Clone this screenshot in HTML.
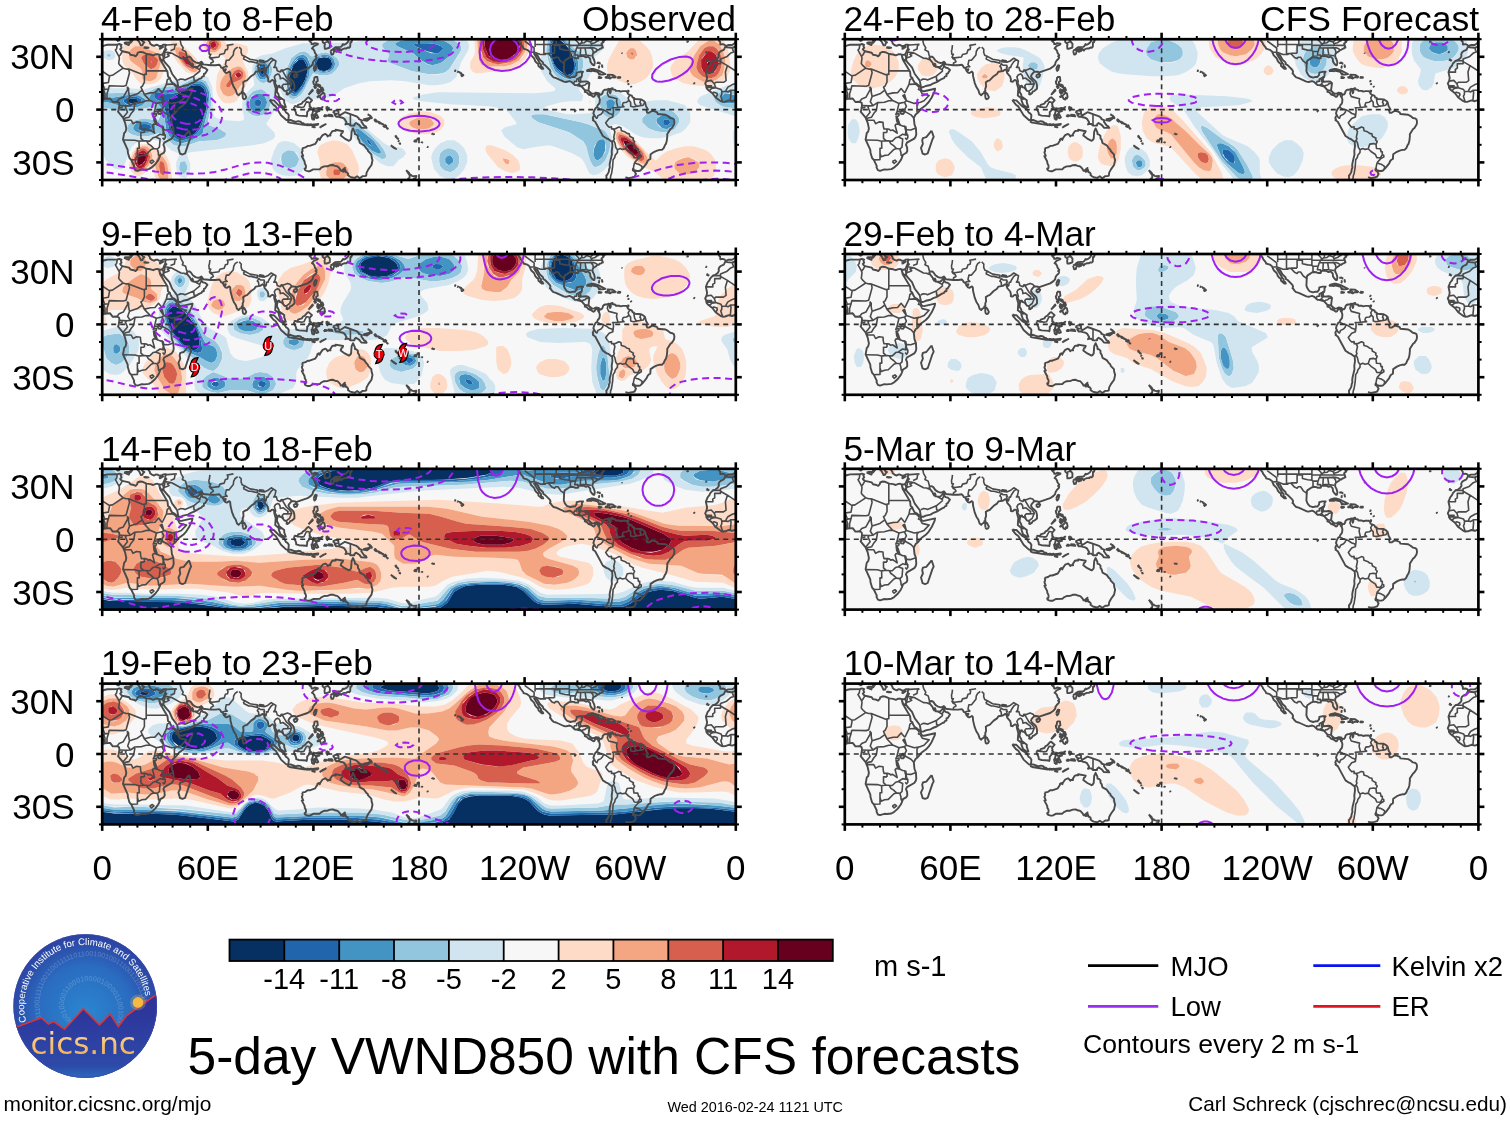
<!DOCTYPE html><html><head><meta charset="utf-8"><title>5-day VWND850 with CFS forecasts</title><style>html,body{margin:0;padding:0;background:#fff;}svg{display:block}</style></head><body><svg width="1510" height="1121" viewBox="0 0 1510 1121"><defs><clipPath id="pc"><rect x="0" y="0" width="633.6" height="140.8"/></clipPath><g id="coast"><path d="M-10.4 7.4l-1.6 3.2-3 1.4-1.4 1.2-.8 1.9 .3 1.8-1.2 2.1-2.3 1.8-2.5 .8-2.6 2.7-.9 2.1-1.8 2.1-1.7 4.4 1.2 5.8-.5 2.7-1.4 3.1 1 2 .2 1.9 1.2 1.8 4.8 3.8 3.2 4.3 5.2 3.7 1.8 .7 2.6-.2 3.6-1.3 3.5 .8 6.1-2.3 5.3-.4 2.7 3.5 4.4-.3 1.9 1.2 .3 2.3-.8 5.3-.6 1.2 5 6 2.1 5.1 1.2 5.6-.7 3.2-1.4 1.4-1.2 6.5 4.7 10.4 .2 2.8 1.6 5.3 1.7 1.9 3 6.2-.3 1.2 1.4 2.8 2.1 .7 4.4-1.4 2.6 .2 4.4-.5 2.5-1.4 3.9-3.5 3-4.1 1-2.1 .9-2.5-.5-.3 4.2-2.5 .9-1.7-.2-3.6-1.1-2.6 .9-2.1 7.4-4.1 1.4-2.1 .6-2.3-.4-6.1-1.4-3.5-.7-6.7 1.8-3.4 2.4-1.9 3.4-4.2 4.4-3.2 3-3.2 2.9-4.5 2.9-6.2 .5-2.5-11.1 2.5-1.8-.2-1.2-1.7-.3-2.2-4.1-3.5-1.9-.9-1.8-3.1-.5-1.8-1.8-1.4-.5-4.7-7.4-12.4-1.1-4.7-1.4-.5-1.9 .1-2.5 1.1-2.6-.9-4-.5-3.9-1.8-2.7-.3-2.4 1-.4 1.6-1.6 1.8-1.7-.9-3.5-.7-1.3-1.9-6.7-1.5-1.2-.8-1-1.3 1.4-1.4-.9-2.1 .9-.9-2.3-.8-2.1 .7-9.7 .1-2.7 .6-6.5 2.4-4.9-.5-1.6-.7M623.2 7.4l-1.6 3.2-3 1.4-1.4 1.2-.8 1.9 .3 1.8-1.2 2.1-2.3 1.8-2.5 .8-2.6 2.7-.9 2.1-1.8 2.1-1.7 4.4 1.2 5.8-.5 2.7-1.4 3.1 1 2 .2 1.9 1.2 1.8 4.8 3.8 3.2 4.3 5.2 3.7 1.8 .7 2.6-.2 3.6-1.3 3.5 .8 6.1-2.3 5.3-.4 2.7 3.5 4.4-.3 1.9 1.2 .3 2.3-.8 5.3-.6 1.2 5 6 2.1 5.1 1.2 5.6-.7 3.2-1.4 1.4-1.2 6.5 4.7 10.4 .2 2.8 1.6 5.3 1.7 1.9 3 6.2-.3 1.2 1.4 2.8 2.1 .7 4.4-1.4 2.6 .2 4.4-.5 2.5-1.4 3.9-3.5 3-4.1 1-2.1 .9-2.5-.5-.3 4.2-2.5 .9-1.7-.2-3.6-1.1-2.6 .9-2.1 7.4-4.1 1.4-2.1 .6-2.3-.4-6.1-1.4-3.5-.7-6.7 1.8-3.4 2.4-1.9 3.4-4.2 4.4-3.2 3-3.2 2.9-4.5 2.9-6.2 .5-2.5-11.1 2.5-1.8-.2-1.2-1.7-.3-2.2-4.1-3.5-1.9-.9-1.8-3.1-.5-1.8-1.8-1.4-.5-4.7-7.4-12.4-1.1-4.7-1.4-.5-1.9 .1-2.5 1.1-2.6-.9-4-.5-3.9-1.8-2.7-.3-2.4 1-.4 1.6-1.6 1.8-1.7-.9-3.5-.7-1.3-1.9-6.7-1.5-1.2-.8-1-1.3 1.4-1.4-.9-2.1 .9-.9-2.3-.8-2.1 .7-9.7 .1-2.7 .6-6.5 2.4-4.9-.5-1.6-.7M86.8 91.5l2.1 6.2-1.3 2.6-4.7 13.9-2.6 1.1-2.5-.9-1.6-5.6 1.9-4.1-.7-3.5 .7-2.3 3.4-.9 5.3-6.5M56 72.2l1.9-2 1.9 .2 .2 2.1-1.6 2.3-2.1-.2-.7-1.4 .4-1M51.4 76.4l.7 5.4 1.8 3.2 1 .5-1.7-5.4-1.8-3.7M60.7 87.1l.7 3.5-.5 3.9 1.2 1.1-1.9-7.6 .5-.9M-16.7 -.9l0 2.7 1 .8 .2 2.7 2.5-.4 1.9 .7 1.2 1.4 2.2-1.2 4 0 2.5-1.6 .5-1.4 1.1-.7-.9-1.2 2.3-2.7M616.9 -.9l0 2.7 1 .8 .2 2.7 2.5-.4 1.9 .7 1.2 1.4 2.2-1.2 4 0 2.5-1.6 .5-1.4 1.1-.7-.9-1.2 2.3-2.7M21.8 3.9l4.8 1.9 .9-2.6-4.1 0-1.6 .7M27.5 -.2l1 2.1-.9 1.6 .7 .2 2-2.6-1.3-.7 .9-1.3 2.7 .5-.9-1M14.8 1.8l2.1-.4 .3-2.3-1-1.2-1.8 .5 .4 3.4M41.4 8.3l1.7-.2 3.2 .5-2.3 .2-2.6-.5M56.8 9.3l4.1-1.6-2.8 1.8-1.3-.2M36.1 -1.4l-2 .9 2.9 3.1 1.7 3.6 1.6-.2 .5-1.6 1.4-1.2-1.4-.7-1.2-1.4 .7-2 1.9-.5 3.9 .3M46.1 -.4l0 1.3 1.4 1.9 .4 1.6 1.7 1.4 2.3 .9 2-1.1 1.5 .2 1.8 1.1 2.6-.4 1.1-.9 2.5-.1 .3 .5-.7 1.7 .2 1.5-2.5 5.6-1.7 .9-1.6 0-.6-.4M57.4 17.8l1 2.3 2 1.4 1.2-3-.4 2.3 1.3 2.1 4.7 5.3 2.8 6.6 5 6.6 1.2 6.6 2.1 0 2.7-1.2 4.7-1 2.3-1.4 3.9-1.5 5.4-3.3 2-.7 .7-1.4 1.7-.5 0-2.2 1.3-.5 2.2-3.5-2.1-1.9-2.4-.6-1.4-1.7 0-2.5-3.9 3.7-4.6-.2 0-1.6-.7-1.5-.7 2.3-1.2-2-.2-1-2.6-3.2-.9-2.1 1-.9M85.5 17.6l1.6-.2 1.4 .9 2.1 3 2.7 1.8 2.6 .7 1.8-.4 1.4-.9 1.2 1.3 .7 1.4 7.4 .8 5.1 0 3.5-.5 1.3 1.3 .5 1.4 1.6 .7 1 1.7 2.2-.5-.4 1.2-1.8-.1 1.8 2.2 1.4 .4 2.5-1.4 .9 1 .3 3.6 1.6 6.6 1.7 4.3 2 3.1 1.2 3.7 1.6 1.4 1.2-1.4 1.6-.7 .4-1.7 1-.6-.2-1.9 .9-2.5-.3-4.2 2.1-1.4 1.7-.5 4.1-4.2 3.3-2.2 1.4-2.2 4.4-.7 2.5-1.6 1.1 .7 .8 3 3 3.5 .7 2.6-.1 2.1 1.9 .4 1.4-1.4 1.1-.4 1.4 .6 .3 3 1.4 4.9-.5 7 3.5 2.8 .2 2.1 1.6 4.3 3.9 2.6 1.4-.2-1.6-4.5 0-2.3-5.3-3.9-.3-1.8-1.8-3.1 0-1.3 1.4-4.2 1.1-.2 .5 1.4 1.4 .2 1 .7 2.2 2.8 1.4 .2 1.2 1.6-.5 1.4 1 .4 1.8-1.3 .9-1.7 1.4-.4 2.8-2.3 0-3.5-.7-2.8-.9-1.4-3.2-2.8-1.2-2.1 .5-1.4 2.3-2.7 2-.5 2.2 .2 1.1 2.1 .2-1.6 10.9-3.7 3.3-2.3 1.6-1.8 .5-2.2 1.3-2 1.7-1.6 .6-1.5-1.1-.9 1.2-1.1-1.9-2.6-.3-1.6-1.3-1.9-1.2-.7 1.9-2.3 3.9-1.8 0-.5-3.2-.7-1.7 1-1.3 0-.1-1.2-2.1-1.9 2.8-1.1 3-2.1M219.3 0l1.2 .9-.1 1.9 2.4 2.1-.5 1.8 .3 2.8 1.8 0 3.2-1.2 .1-3.7-3.3-4.2 1.8-1.1M228.3 11.8l1 3.5 1.6-.2 1.2-3.5-1.5-.9-1.1 0-1.2 1.1M233.2 11.8l.9 .9 2.1-.9 .9-.9-.9-.9-2.1 .6-.9 1.2M230.4 10l2.8-1.9 5.3-.4 1-.7 1.3-2.1 .8 .7 2.2-1 1.5-1.3 .9-1.5 .6-3.6 2.2 0 .9 2.7-.7 2.1-1 0-.2 4.6-1.1 1-.9-.3-1.2 .3-.5 .7-2.3 0-2.1 .9-.9 1.2-1-1.4-1.8-.7-3.9 1.4-1.9-.7M211.4 29.9l1 1.8 1.1-1.1 1-4.2-1.2-.4-1 1.5-.9 2.4M191.1 36.6l1.6 1.8 1.8-.7 .9-2-.9-.7-2.1 .4-1.3 1.2M140.6 58.4l-.2-2.4 .4-2.8 1.4 1 1.9 3.7-.8 1.6-1.4 .5-.9-.5-.4-1.1M167.7 60.5l2.1 .7 1.8 0 5.6 5.7 4.6 2.8 2.1 3.7 1.4 .7 1.3 1.8-.4 4.7-2.1 .2-5.3-4.8-5.3-8.8-2.4-1.7-3-3.7-.4-1.3M185.2 82.4l1.4-1.4 1.7-.2 4.2 1.6 1.8 .1 1.6-.5 2.5 .5 1.4 1.5 1.5 0 .2 1.7-14.2-2.3-2.1-1M201.7 84.7l1.8 .5-.7 .7-1.1-1.2M204.2 85l1.4 0-.4 1.1-1-.2 0-.9M205.6 85.5l3.5-.5 .5 .7-2.8 .5-1.2-.7M210.1 85.4l6-.7-.5 1-4.4 .4-1.1-.7M209.4 87.1l2.9-.3 .3 1.4-1.9-.4-1.3-.7M217.4 88.5l2.6-1.9 3.5-1.6-6.1 3.5M191.8 67.6l.2 2.1 1.8 3.7 .2 2.1 2.8 .9 7.2 .5 .5 .4 .5-2.5-.1-1.8 1.5-1.5 .6-2 2.1-.9-1.8-1.5 .4-.9-.5-2 2.6-3.1-3.4-3-1.2 .5-2.8 3.2-1.6 .7-1.2 1.9-3.7 1.2-.4 1.5-1.9 .1-.7-.3-1.1 .7M210.1 80.3l1.8 0-.2-4.6 1.3-.7 .3 3.5 1.4 .5 1.4-.7-2.3-4.4 1.4-1.4 2-.5-1.6-.5-2.6 .7-1.4-1.4 .5-1.5 1.7 .2 2.7-.7 2.3 .9 1.6-1.9-1.3 .8-2.6 .9-3.5 .2-1.8-.7-.7 1.4 .3 1.8-.7 2.6 0 1.8-.8-.9 .8 4.6M224.4 67.2l.9 .9 1.2 .4-.9 .8 1.3 .6-1.6-.2-.2 1.6-.9-1.8 .2-2.3M225.5 75.5l4.2 .2 .7 1.4-4.8-.5-.1-1.1M221.8 76l2.1 0 0 1.1-1.8 0-.3-1.1M212.3 37.8l2.8 0 .5 3.9-1.6 1.1 0 2.6 1.8-.2 2.1 .9 .5 2.1-4-2.3-1.6 .4-1.4-1.9-.4-2.2 .9-.7 .4-3.7M214.7 58.1l1.6-1.4 1.2 0 3.4-3.2 1.2 .7 .7 3.4-.7 1.7-1-.9-.6 2-1.7-.7-1.1-2.5-3 .9M218.8 48.4l1.4 0 1 2.6-1.2 1.6-1.2-2.3 0-1.9M214.7 51.9l.9-1.9 1.1 1-.4 3.6-1.1-1.3-.5-1.4M217.2 51.4l1-.7 .2 1.4-1 1.6-.2-2.3M206.3 55.6l4.4-4.2-.4-.9-4 5.1M211.7 46.6l1.6 .6 .5 1.2-1 .4-1.1-2.2M230.6 72.5l3.3-1.4 2.3 .9 0 2.6 1.4 1.6 5.1-3.2 11.6 4.1 2.3 1.9 0 .9 3.2 1.2-.7 1.3 2.8 4 1.7 .7 .8 1.6-5.3-.2-2-2.6-3.3-2.1-1.4 1.2-.2 1.4-4 0-1.6-1.6-2-.1-1.4 .5 1.1-2.1-2.1-3.5-2-1.1-2.2-.4-2.2-.8-1.9 .3-1.4-2.1 1.9-.9-1.7-.3-2.1-1.8M261 80.3l5.5-1.3 1.5-1 .2 1-3.3 2.5-3-.4-.9-.8M265.4 75.2l2.5 1.2 1.6 1.7 .1 .9-.8-1.6-2.7-2.1-.7-.1M272.1 79.9l1.2 .5 1.3 1.6-.6 .5-1.4-1-.5-1.6M275.4 82.2l2.3 1-.5 .9-1.8-1.9M278.4 83.8l3 1.7-2.6-1-.4-.7M281.2 86.6l1.8 .3 0 .9-1.8-.7 0-.5M282.7 85.4l1.4 1.5-.2 .6-1.2-2.1M284.2 88.4l1.4 1-.3 .2-1.1-1.2M293.2 96.1l1.1 1.6-.7 .2-.4-1.8M294.3 98.2l1.7 1.4-.5 0-1.2-1.4M296 101.4l.6 .3-.4 .2-.2-.5M297.4 103.3l.6 1.4-.6-.3 0-1.1M288.6 106l5.3 3.8-2.1-1-3.2-2.8M312 101.2l2.3-.2-.1 1.4-2-.1-.2-1.1M314.5 99.6l2.3-.7-1.2 1.2-1.1-.5M319.4 103.8l.7-.7-.7 .2 0 .5M325.1 107.5l.5 .2-.4 .2-.1-.4M329.5 94.2l1 .5-.7 0-.3-.5M331.1 94.9l.8 .1-.7 .2-.1-.3M358.9 35.7l.3-.9 1.4 .6 .6 .7-1.5 1-.8-1.4M357.8 33.6l1.2 .4-.7 .1-.5-.5M355 32.4l1 .2-.3 .3-.7-.5M352.4 31.3l.8 0-.3 .6-.5-.6M356.8 33.1l.8 0-.8 0M199.8 109.1l3.5-.9 2.1-1.5 2.1 0 5.5-2 2.2-3.5-.1-.9 1.4-1 1 1.4 .6-1.6 2.3-3.2 2.8-1.2 1.2 .9 1.1 1.6 .5-.8 2.3 0-.4-1 2-3.2 1.2-.5 2.3 0 0-1.1 7.5 1.4-.7 1.6-1 .6-.7 2.2 4 3 4.3 2.2 1-.6 1.1-1.6 .5-7 1.4-3.2 1.8 3.9 .1 1.9 1.6 .4 1.4 1.4 0 2.3 1.1 1.4 .9 3.3 4.2 2.3 2.3 3.2 1.2 .9 .5 1.6 3.2 3.3 .4 3.2 .8 2.6-1 4.9-3 4.1-1.9 3.5-.4 3-1.2 .5-2.3 0-3 2.1-2.5-1.9-2.4 1.6-3.6-.7-1.5-.7-1.8-1.4 .3-1.3-1.2-1.4-1-.1-.7-2.5-.6 1.6-1.7 .3 1.4-1.4 .5-2.3-3.2 2.8-.8 0-.7-1.5-1.8-2.1-1.2-.9-2.3-.4-1.8-.9-3 .2-2.6 1.1-3.4 .1-2.8 1.3-1.6 1.6-6.5 .1-3.3 1.8-1.8 0-1.7-.4-1.4-.8-.4-1.3 1.2-.5 .2-1.9-.2-1.1-1-1.7-.2-2-2.8-5.3 1.4-.3-1.4-3.4 .7-1.5 0-1.4-.5-1.3M304 130.9l2.8 2.5 .8 1.9 1.5 .6 .5 .7 1.9 .5 2.7-.3-.4 1.5-.7 1.1-1.6 .2-1.7 2.8-1.3 1.2-1.2-.5 1.1-1.4-.8-1.1-1.7-1 1.4-.9 .3-2.5-3.6-5.3M304 141.7l.7 1.4 1.5-.5 .6 1.2-2.7 2.6-2.8-2.1 2.7-2.6M415 -.7l.7 1.6 2.3 3 .2 1 2.8 3.5 .3 1.1 3.7 1.1 2.2 1.7 1.7 3.9 2.7 2.6 1 1.8 .2 1 1.4 1.8 1.8 1.4 .3 2 3.2 2.8 1.6 0-.9-1.6-1.4-.5 0-2.3-1.1-1.1-5.8-9.5 2.5 .7 .8 .7 2.5 4.4 3 2.8 .5 2 1.6 .8 4.8 4.8 .7 1.8-.6 1.7 .6 .2 1.4 2.1 1.7 1.6 2.5 .7 7.7 3.5 2.2 .4 3.5-.9 2.1 .9 3.3 3.1 1.6 0 5.1 1.4 3 3.4 .4 .9-.2 1 1.9 .6 2 2.1 2.4 .8 2.3 1.6 .9-.3 1.6-2.7 2.1 1.1 .2 1.4 1 1.2 .6 2-.2 2.6-.4 1.4-1.4 1.6-.9 2.1-1.4 .9-1.4 2.6-.7 2.7 1.1 2.1-1.1 .7-.7 1.7 .7 1.6-.5 .6 2.3 1.5 7.7 14.3 3.5 2.3 1.8 .7 3.9 3 .3 4-.7 5.1 .2 3.4-1.9 7.9-.4 2.6 .2 2.7-.7 1.7-.4 2.7-1.7 3-.7 .5 .3 3.9-.5 2.3M524.1 138.9l-.1-.6 2.2 .6 3.6-.6 2.6-.8 1.4-2.9-.9-1.2 0-.9-2.1-1.2-.2-1.1 .6-.8 .7 1.5 2.8 .9 2.1 0 1.4-.5 2.8-2.8 3.4-4.4 1-2.3 1.3-1.4 1.4-.7 .3-4.6 3.7-2.5 2.8-1.2 2.7-.7 2.1 0 1.7-1.6 1.3-3 1-1.4 .9-3.1 .5-4.8-.1-1.8 3.3-5.2 1.4-1.1 2.1-3.3 .4-2.3-.2-1.8-.4-1.2-1.4-.9-2.1-.4-2.3-1.9-2.4-1.4-7.8-.7-.7-1.6-2.3-1-2.6-.6-3.2 2-1.9 0-.7-2.7 1.6-.5-2-3.5-1-3.9-1.2-1.2-2.7-1.6-6.1-.4-1.3-1.4-1 0-.9-1.9-2.5-.9-1.4-1-.5-1.6-1.2-1.1-3.4 0-2.3 .5-1.2-.7-3.5 0-.4-1-3.2-.7-.1-1.1 .5 0-2.3 .7-1 .9 .8 3.5 .6-1 .1-1.8-1-.2-1.1-1.4-1.9 .9-1.6 0-1.2 .5-1.1 1.1-.3 1.6-1.1 1.6-1.9-.2-.9-1.2-2.8-.4-1.6 .9-2.3 .2-2.8-2.3-.7-1.3 .9-7-1.4-1.4-2-.4-4.2 .4-1.4-.9 0-3.7 .9 .2 .7-2.1-.2-1.6 1.2-1.9-3 0-3.3 .8-.2 2.3-1.7 2.1-1.8-.1-2.6 .7-3.2-1.1-1.2-1.2-1.3-2-.9-2.4 .4-8.5 .5-1.6 4.3-2.9 2.2-.7 2.7 .3 1.4 .7 2.8 0 .4-1.2-.4-.6 1.4-.3 4.1 0 2.4 1.2 2-.7 2.1 2.1 .3 2.9 1.4 2.1 1.6 1.5 .9 0 .5-2.8-.9-3.1-1-1.8-.4-1.4 .2-1.9 .9-1.3 2.8-1.7 1.1-1.3 1.2 0 1.1-1 1.4-.4 1.4-1.4 .3 .5-1.4-4 2.1-1.6 .4-1.4 1.2-.9 .4-1.4M484.2 31.9l1.6-1.3 3.5-.9 1.7 0 5 1.5 7.2 3.6-2.8 .6-3.6 0 .9-.9-1.4-.5-.9-1.4-5.8-1.3-.3 .7-1.8-.3-3.3 .2M502.7 38l1.7-.2 1.1-.8 0-1.6 4.9 .3 3 2-.7 .7-2.1-.4-1.4 .4-1.3 1-2.1-1-2.1 .1-1-.5M495.8 38.2l1.4-.4 2.1 .6-.9 .5-1.7 0-.9-.7M515.3 37.8l2.8 .2-.1 .7-2.5 0-.2-.9M496.3 27.6l.7-.5-.2 1.4-.5-.9M497.4 23.2l.3 1.3-.9-.9 .6-.4M494.7 23.4l1.6 .2-1.2 .2-.4-.4M499.5 26.4l.7 1.4-.4-1.9-.3 .5M525.2 51.4l1.2 0-.2 1.2-1.4 0 .4-1.2M524.8 41.7l1.1 0-.5 .5-.6-.5M525.9 44.2l.5 .7-.3 .2-.2-.9M528.7 47l.4 .3-.4 .2 0-.5M472.6 70.8l.8 .5-.7 .9-.1-1.4M604.4 20.4l.9-.2-.6 .7-.3-.5M605.8 21.1l.7 0-.4 .4-.3-.4M591.7 43.5l.5 .3-.3 .4-.2-.7M603.3 12.7l.9 .1-.5 .2-.4-.3M584.3 2.3l1.6 0-.7 .3-.9-.3M519.6 13.4l.1 .3-.1-.3M623.6 98.4lM608.3 84.3lM11.4 70l.4-.1-.2 .5-.2-.4M15 63.7l.7 .2-.4 .7-.3-.9M100.8 105.6l.9 .4-.3 .5-.6-.9M97.2 107.4l1 .1-.5 .6-.5-.7M76.2 90.5l.4 .8-.6-.1 .2-.7M94.3 48.2l1.6 0-.9 .6-.7-.6M129.2 63l.3 0-.1 .5-.2-.5M128.1 83.1l-.5 .3 .5-.3M163 46.6l.5 2-.5 1.4 0-3.4M97.7 78.5l.3 0-.1 .3-.2-.3M254.5 46.8l.5-.3-.3 .7-.2-.4M236.7 57.4l.4-.6-.4 .6M267.2 57.4lM278.4 58.3lM301.1 57.9l.6 0-.6 0M304.5 67.9lM356.6 67.1l.3 0-.3 0M370.3 101.2l.7 .2-.5 .3-.2-.5M352.4 107.7lM387 85.9l0 .3 0-.3M441.1 118.1l.3 0-.3 0M293.7 71.3lM258.7 73.9l.7 0-.3 .4-.4-.4M279.7 125.8l.3 .2-.3-.2M295.5 121.4lM491.4 129.5lM476.1 45.9lM86.9 -.2l-.8 3 1.7 1.8 2 1 3.5 0 1.7-.8-.1-2.5-1.3-1.1-.3-1.6" fill="none" stroke="#4a4a4a" stroke-width="1.9" stroke-linejoin="round"/><path d="M-3 8.6l-.2 1.4 1.1 2.8-3 1.1-4.1 3.7-6.1 2.3 0 1.7-7.9 0M630.6 8.6l-.2 1.4 1.1 2.8-3 1.1-4.1 3.7-6.1 2.3 0 1.7-7.9 0M618.3 21.6l0 3-5.8 0 0 4.4-2 1.3 .2 2.6-6.8 0M618.3 22.4l6.9 4-2 6.5 .7 8.5-2.6 1.7-7.8 0-1.4 1.4-3.1-3.3-4.4 .7M-8.4 26.4l15.4 10.2 3.2-.5 10.7-7.1-3.3-3.1-1.1-1.6 .7-5.6-.5-1.6-3.5-6.2 1.2-1.4 .7-4M625.2 26.4l15.4 10.2 3.2-.5 10.7-7.1-3.3-3.1-1.1-1.6 .7-5.6-.5-1.6-3.5-6.2 1.2-1.4 .7-4M16.7 17.1l1.3-1.3 2.2-3.7M20.9 29l2.9 .9 2.6 0 15.8 6.2 0-.9 1.8 0 0-20.4M44 31.7l20.9 0M7.4 36.8l-1.2 6.5-5.8 .9-3.9 1.2-4.4 2.5-1.8 3 0 1.2M641 36.8l-1.2 6.5-5.8 .9-3.9 1.2-4.4 2.5-1.8 3 0 1.2M612.1 44.5l1.4 4.1 5.3 1.7 .9 2 4.2-.2M26.4 29.9l.9 3.7-3.4 12.7-2.8 .7-14.1-.4-.7 3.2-3.8 .5-2.1-6.1M660 29.9l.9 3.7-3.4 12.7-2.8 .7-14.1-.4-.7 3.2-3.8 .5-2.1-6.1M42.2 36.1l0 6.8-1.9 3.9-1.6 1.1 1.4 3.1-4.9 3.6-7.9 2.6-.9-4.4 0-3.5-1.4-1.8M25 47.5l.5 2.7-4.4 7.9-4.2 1.7-1.9 2.5M6.3 49.8l-1.5 4.8 0 4.5M2.8 59.5l0-4.9-1.2-3.6M636.4 59.5l0-4.9-1.2-3.6M2.1 59.7l-2.1-8.7-5.1 0 .3 2.7-.7 7.7M635.7 59.7l-2.1-8.7-5.1 0 .3 2.7-.7 7.7M0 51l1.6 0 .9-.7M633.6 51l1.6 0 .9-.7M628.5 51l-2.8 1.8-1.8-.7M620.4 62.7l-1.8-5.7 .9-1.6 .2-3.1M613.4 58.3l1.7-2.5-.3-1.8-3.2-1-1.4 1M607.2 51.4l2.3-2.1 4-.7M604.2 48.4l5.3-.4 2.6 .2M604.4 46.5l4.9 .1-2.1 .6-3.2 0M40.1 51l2.1 4.1 6.2-1.4 4.4-.2 3.5-4.2 3.7 4.4M60 53.7l4.2-8.5 .9-4.7 2.8-1.8M64.2 45.2l5.3-.3 2.3 .7 2.8 2.8M74.6 48.4l-1 1.9 1.9 .7M75.5 51l1.9 3.6 6.9 1.7-5.1 5.3-3.5 1.4-2 .4-1.5 2.1 0 7.9M73.7 63.4l-4.2 .8-7.9-2.6-1.8-6.2-1.7 1.1 3.5 5.1M40.1 51l2.1 4.4 5.7 6 6.3 2.8 5.5-1.2 1.9-1.4M59.7 63l1.9 4.1-1.8 3.3 0 1.8 6.4 3.5 2.8 3M54.2 64.2l-2.1 8.7 1.6-.7 6.1 0M52.1 72.9l-1.1 2.4 3.2-.9 0 1.8-2.6 2.1M54.9 85.5l3 1.4 2.8 .2M61.4 90.6l4.6 .2 5.1-1.9M27.3 57.2l-1.8 5.3 2.7 3.9 4.4-3 7-.4 4.4-1.4 3.9-.2M28.2 66.4l-3.6 .3-7.4-.3M19.9 66.5l0 2.1-3.2 0M24.6 66.7l-1.4 1.4 2.1 4.9-4.5 5.5M32.7 64.2l-1.2 7.1-2.6 3.1-2.1 3.6-3.7 .8-1.6 1.8M21.6 81l7.4 0 1.8 3.5 3.5-1.8 3.9 .5 .3 3.9 .7 2.7 3 0 0 3.5M42.2 89.8l2.3 .3 1.3 1.2 2.1-.5 4.5 3.2-2.1-7.8 1.1-1.4 2.5 .2M20.8 100.8l11.8 .2 4.2 1.1 4.4-.7 3.2 .3M42.2 93.3l-3.5 0 0 5.8 2.5 2.3M36.8 102.1l.2 7-1.8 0 0 11.3-6.2 .3M35.2 114l1.2 3.6 3.4-1.4 3.7-.4 5.6-5.6 2.6-.9M44.4 101.7l1.7 3 2.7 1.8 2.9 2.8 3.4 .5M44.4 101.7l3.1 .2 3.4-3.3 2.6-.7 4.4 1.9-.7 8.1-2.1 1.9M55.1 109.8l1 3.4 .2 2.8 1.6 1.6M47.5 122.3l2.7-1.4 1.5 1.4-2.4 2-1.8-2M53.5 97.9l4.4-2.9 3.7 .9M60.9 94.5l2.1 1.4 0 2.7-1.2 1.7-1.4-1.7M60.2 15.3l1.2 3.2M62.7 12l-.2 3.5-.9 3M61.6 18.7l3.2-.9 2.1-1.1-1.8-1.7 3.9-1.3M62.8 12.8l6.2 .9M68.3 11.6l3.9-1.7 .5-3.6 1.9-1.2M63.4 5.5l1.7 .3 9.5-.7M63.2 9.5l1.2 .7-1.4 1.6M69 13.7l9.7 5.3 3.1 .2 2.2 1 1.2 0M78.8 4.9l2.2 3.7-.9 2.1 3.3 1.6 1.1 4.4 1 .9M78 1.1l.8 3.8M76 41l2.3-1.2 2.7 .2 1.7 .7 8.8-3.7 6.5-5.3M91.5 37l.4 4.2 1.6 0M98 31.7l-.8-1.3-4.6-2.6M97.2 30.4l1.4-2.2 .7-1.6M108.4 26l.4-2.2 2.4-1.3-.7-1.7-2.3-1.4-1-1.6 1.4-2.7-1.6-.1-.3-3.6 .5-1.4 .5-4M107.2 17.8l2.6 .9 6.9-.9 1-2.5 4.3-1 1.2-3.6 2.1-.5 .5-2.5-.8-1.5 6.3-1.1M120 28.7l2.5-1.1 2.5-.1-1.8-2 .9-4.4 2.6 0 4.4-5.4 .4-3.4 1.4-2.6 2.6-1.8M136.9 7.9l2.1 2.1-.1 3.2 1 2.8 2.7 1.2M141 19.7l1.6-2.5 5.2 2.9 7.3 1.2 0 2.6-6.2-1.5-2.3 0-5.6-2.7M156.3 22.4l5.8 .7-.7-1.6-3.9-.6-1.2 1.5M156.8 32l-.5-3.8-1.2-1.1 1.5-2.5 1.6 1.3 3.7 .1 .5 1.8-.7 .2 1.3 4.6M171.4 20.6l-2.4 1.8-2.5 3.8-.7 2.1-1.4 0-.4 3-1 1.3M162.1 23.1l3.3-1.3 3.6-2.8 4.7 2.8-.9 4.6-1.2 1.8 2.5-.2 1 3.5 3 1.2 .9-1.9 2.3 .2 4-1.6 2.5 .9 2.3 2.3M176.2 34.5l-2.8 1.2-1.3 2.1 1.4 4.4-.7 1.6 1.8 3.2 .3 4.4-1.4 1.4M176.2 34.5l1.6 2.5 .3 2.6 2.7-.7 5.1 3.9-.6 2.3-4 0-1.3 1.5 1.1 3.2M178.1 32.7l1.8-1.7 4.2 7.2 3.5 3.2 1.8 2.6 0 .7-4.1 .4M189.4 44.7l-2 4.8-3.5 2.6M176.4 59l1.7 1 1.4-.5M192.9 66.9l2.5 1 2.2-.1 1.3 .5 2.8-.5 2.6-5.1 2.7 .3M248.2 75l0 11.4M221.9 3.9l1.6-.9 2.5-.5M218.9 .2l2.9-1.8 4.4-1.9M496.5 57.7l.9-1.2 .3-1.2M506.5 49.6l-1.4 4.6 1.4 3.2 8.3 2.1-.5 3 1.4 5.8M528 55.4l-2.1 3.4 .9 2.4-2.3 1.8-3.5 .5-.9 2.5 1.7 1.6-6.1 .7M526.8 61.2l1.6 1.8 .1 4.1 2.7 .7 3-.7M532.9 60.2l-1.2-.4 .7 4.4 1.8 2.9M538.6 60.4l-.9 3 .9 .7-.4 2.4 2.8-.5 1.8-3M534.2 67.1l1-.2 3-.4M494.7 68.1l3.2 1.6 3.2 .9-.6 2.4-1.7 2-3 1.4-1.1 2.6-1.2-.7-1.2-1.9M501.1 70.6l3.1 1.6 2.9 2.1 3.1 1 .4 2.5 .7-5.6-.2-2.9-.7-.7 5.3-.3M510.6 77.8l-3.7 1.4-3.4 4.4 1.6 2.6 1.8 1.8 2.4-.4 0 2.2 1.8-.2M511.1 89.6l1.6 2.8-1.2 5.8 .7 1.2-.9 1.8-1.6 1.4M511.1 89.6l1.6 .2 3.9-2 2.1 .7 .5 3 3.5 1.1 2.1 1.6 2.3 .5 .4 2.3 3.7 2.1-.4 1.6 1.6 1.7-1.2 2.8M531.2 105.2l-2.3-.8-3.9 .5-1.6 4.6-3.1 .7-2.3-.9-2.7 1.2-1.7-2.3-.9-4.4-1.4-2.6M515.3 110.5l-.1 2.7-2.2 2.8-.5 2.3-1.6 2.3-.5 7-1.1 7-.8 2-.4 3.5-.7 2.5M523.4 109.5l2.8 2.8 4.4 3 1.4 3.1 3.6 .2 1.9-3.1M531.2 105.2l.5 4.1 3.9 .2 .7 3.1 1.2 0 0 2.9 1.4 .5 .2 1.7-3.4 2-3.5 3.9M532.2 123.6l2.8 1.2 .9 0 2.8 1.6 1.3 1.2-.6 2.1M532.2 123.6l-1 5.1-.4 1.5M471.3 44.9l.9-2.7 2.3 0 0-2.2 3.7-2M476.6 39.1l0 3.3 .5 .2M476.6 42.4l1.8 .4-3.4 3.5M476.4 45.1l2.7 1.7M479.2 47.5l1.6-1.2 2-.5 1.4-1.4 3-.4M482.8 50.9l3 .5 .5-.2M487.7 56.1l.2-2.4 .3-.2M505.6 35.4l1.8 2.1 0 1.2M427.5 13.2l4.2-.4 6.5 2.5 5 0 0-.9 3 0 3.5 3.9 2.6 1.1 1.1-1.4 2.4 0 2.7 4 4 2.8M422.4 1.8l9.5 7 0 4M432.9 7.9l0-7.9M441.7 15.3l0-15.3M452.3 14.1l0-7.9 0-.9M454 5.3l0-5.3M452.3 14.1l-6.3 0M452.3 6.2l5.3 0 0 3.5 5.3 1.2 4.2 .4M432.9 5.3l34.2 0 0-5.3M467.1 6.2l32.9 0M467.1 5.3l0 6 1.1 1 5.2 0M468.2 12.3l0 5.8M473.1 12.3l-.5 3.5 3.1 0 .2 1.4M474.8 8.8l16.6-.2 1.9 .6 2 1.5M473.4 12.3l.7-2.6 1.8-3.5 .9-.9-.7-1.8-3.4-3.5M478.5 8.8l-.5 8.1M482.9 8.8l1.1 7-4.6 0 .2 1.3M484 15.8l4.9 .7 .6-.1M487.3 8.8l1.3-.4 2.1 2.7 .5 2.8M476.8 5.3l1.9-1.4 3.5-.4 2.2-1.9 3.8 1.2 1.6 3.2M479.6 3.7l0-3.7M484.4 1.6l0-1.6M488.2 2.8l3.5-2.8M489.8 6l-.5-1.6 3.5-.9 1.8-1.4 2.2-.9M491.9 .5l8.3 0 .5 2.1 .9 .2" fill="none" stroke="#4a4a4a" stroke-width="1.6" stroke-linejoin="round"/></g></defs><g transform="translate(102.2,39.2)"><g clip-path="url(#pc)"><rect width="633.6" height="140.8" fill="#f7f7f7"/><path fill="#053061" fill-rule="evenodd" d="M77 99l4 0 3-1 8-3 4-5 5-11 3-10 0-11-2-8-2-2-3-2-4 0-5 1-14 9-7 4-1 2 0 5 3 23 3 5 2 2zM26 63l6 2 3-1 1-2-1-2-5-1-4 1-1 2zM190 52l4 1 3-3 3-4 3-6 2-7 0-5-2-5-2-3-4 0-3 3-3 3-2 6-2 7 0 5 1 5zM465 36l3-1 2-1 2-4 0-5-1-7-3-7-6-7-4-3-4-1-2 0-2 4-1 3 0 5 1 7 2 6 4 5 5 4zM158 34l2 1 2-1 1-2-1-3-2-1-2 1 0 3zM222 32l3-1 2-1 2-2 1-3-1-4-2-2-5-1-6 1-1 2-2 4 2 3 1 2 2 1z"/><path fill="#2166ac" fill-rule="evenodd" d="M269 106l1 0-1-2-3-4-2 0 2 4zM76 101l5 0 7-2 7-5 4-6 5-16 2-12-1-5-1-5-2-3-3-2-4-1-5 1-14 8-4 1-9 1-7-2-2 0-2 2 0 1 0 2 2 2 4 2 3 3 3 9 2 12 2 6 3 5zM77 99l-5-4-3-5-3-23 0-5 1-2 7-4 14-9 5-1 4 0 3 2 2 2 2 8 0 11-3 10-5 11-4 5-8 3-3 1zM40 92l4 0 4-2 1-2-1-2-6-2-3 1-2 1-1 2 0 2zM561 85l2 1 2 0 2-1 1-2-1-2-2-1-4 1 0 2zM155 67l2 0 2-2 0-3-2-2-2 0-2 1-1 2 1 3zM25 65l3 1 5 0 4-1 2-2 0-1 0-2-4-2-3-1-6 1-4 2-1 2 1 1zM26 63l-1-1 2-2 3-1 5 1 1 2-1 2-3 1-4-1zM192 55l3-1 5-5 3-5 2-7 1-7 0-5-2-4-2-2-1-1-4 0-5 5-3 5-3 7 0 7 0 7 2 4zM189 51l-2-3 0-6 0-7 2-5 3-5 3-4 4-1 2 0 2 3 2 5 0 5-2 7-4 8-4 4-3 1zM158 37l2 1 2 0 2-2 1-3-1-5-2-2-4 0-1 2-1 2 0 3zM158 33l0-4 2-1 2 1 1 3-1 2-2 1zM463 37l5 0 2-1 2-3 2-7-1-7-4-8-6-8-5-4-4-1-2 0-1 1-2 3-1 3-1 6 2 7 2 7 3 5 4 4zM463 35l-4-2-3-3-4-5-2-7-1-7 0-6 2-3 3-2 5 1 5 4 5 7 3 7 0 7-1 6-3 3-2 1zM218 32l4 1 3-1 4-2 1-2 1-2 0-3-2-4-2-1-3-1-4 0-4 1-3 3-1 4 1 3 2 2zM221 32l-5-2-1-2-1-2 0-3 2-4 2-1 6 0 3 1 2 2 1 2 0 3-3 4-3 2zM333 14l3 0 4-3 1-2-2-2-5-2-8-1-9 0-6 1 2 2 12 5z"/><path fill="#4393c3" fill-rule="evenodd" d="M81 129l0-1 0-1 0 1zM345 125l2 1 1-1 3-2 0-3-1-2-2-2-1 0-2 1-2 2 0 4zM495 121l1 0 4-3 3-7 0-8-1-3-2 0-2 0-3 2-3 7-1 7 2 4zM276 115l2-1 1-1-1-2-6-9-12-10-3-2-4-1 0 3 1 1 6 10 9 8zM268 106l-2-2-2-4 2 0 3 4 1 2-1 0zM79 104l5-1 6-2 10-6 1-2 1-7 4-17 1-11 0-5-2-5-3-4-3-2-6 0-3 1-13 7-3 1-19-1-5 3-3 5 0 2 2 2 7 3 4 5 2 7 2 13 3 7 5 5 4 1zM75 100l-4-3-3-5-2-6-2-12-3-9-3-3-4-2-2-2 0-2 0-1 2-2 2 0 7 2 9-1 4-1 14-8 5-1 4 1 3 2 2 3 1 5 1 5-2 12-5 16-4 6-7 5-7 2zM37 94l7 0 5-1 4-3 0-2 0-2-4-2-5-2-5 0-4 1-3 3-1 2 0 2 2 2zM39 92l-3-2 0-2 1-2 2-1 5 0 4 1 1 2-1 2-2 1-4 1zM560 89l5 1 3-2 2-1 2-4-1-4-2-2-4-2-4 0-3 2-3 2-1 2 1 3zM561 84l0-1 0-2 4-1 2 1 1 2-1 2-2 1-2 0zM151 72l4 1 3 0 4-3 2-3 1-4-1-3-2-4-2-1-3-1-4 1-3 2-2 3-1 3 0 4 2 3zM154 67l-1-2 0-3 2-2 2 0 2 2 0 3-2 2zM509 70l1 0 2-2 1-5-1-1-2-2-3 0-3 2 0 3 1 4zM19 67l9 1 7 0 5-2 3-3 1-1-1-2-6-4-7-1-23 4-11-4-3-1 0 10 12-1zM24 65l-2-2-1-1 1-2 6-3 4 0 3 1 4 2 0 2 0 1-2 2-4 1-5 0zM623 64l5 0 13-1 0-4-12-4-6-1-3 2-1 2 0 2 1 2zM190 57l4 0 5-5 4-6 4-9 1-11 0-1-3-7-4-3-6 2-3 3-4 6-3 7-1 9 1 7 2 5zM191 55l-3-2-2-5 0-8 1-7 3-7 3-5 4-3 4 0 1 1 2 2 2 4 0 5-1 7-2 7-4 6-4 4-1 0zM158 40l4 0 2-1 2-2 1-4 0-3-1-4-2-2-2-1-4 0-1 2-2 1-1 4 1 6 2 3zM158 37l-2-4 0-5 2-2 4 0 2 2 1 5-1 3-2 2-2 0zM463 39l5 1 5-3 2-4 1-3 0-7-3-9-8-10-4-5-3-2-6-1-3 2-2 6-1 7 2 8 2 6 3 7 5 4zM463 37l-5-3-4-4-3-5-2-7-2-7 1-6 1-3 2-3 1-1 2 0 4 1 5 4 6 8 4 8 1 7-2 7-2 3-2 1zM218 34l4 0 5-1 4-3 1-2 1-3-1-4-1-2-4-3-5-1-6 2-3 2-3 4 0 3 2 4 3 2zM217 32l-3-2-2-4 0-3 3-4 3-2 4 0 3 0 4 2 1 2 1 4-1 3-1 2-5 3-4 0zM326 25l5 1 3-1 4-1 3-2 6-5 3-5 1-3-1-2-2-2-5-3-5-1-9-1-23 0-9 2-4 2 0 1 2 2 16 7 8 7zM332 14l-3 0-5-2-11-5-2-2 6-1 9 0 8 1 5 2 2 2-1 2-4 3z"/><path fill="#92c5de" fill-rule="evenodd" d="M79 134l2 1 2-1 2-4 0-3-1-3-1-2-2 0-3 1-1 4 0 3zM81 128l0-1 0 1 0 1zM345 132l3 1 4-2 4-4 1-4 0-5-1-4-3-3-5-2-3 0-4 2-3 3-1 4 0 5 1 4 3 4zM344 125l-1-4 0-2 2-2 2-1 1 0 2 2 1 2 0 3-3 2-1 1zM185 129l3 0 4-1 2-1 2-4 1-3-2-4-3-4-4-1-3 0-3 2-2 1-1 4 0 3 1 4 1 2zM493 128l3-1 4-2 4-5 3-7 1-6 0-5-1-4-4-6-3-2-7-2-7-3-7-2-37-8-9 0-4 1 0 1 1 2 6 4 31 10 14 9 3 5 2 11 2 5 3 4zM493 120l-2-6 1-7 2-3 2-3 4-1 2 0 1 4 1 3-1 6-2 3-3 4-3 1zM280 120l3-1 1-1 0-2-2-5-5-7-9-9-9-7-7-4-4 0 0 4 2 4 9 11 12 12zM276 114l-7-3-9-9-6-9-1-1 0-3 4 1 3 2 12 10 6 9 1 2-1 1zM72 106l5 1 6 0 14-5 17-1 6-2 3-2 1-2-1-2-2-1-3-2-11-4-1-2 0-3 3-16 0-9-2-8-3-6-5-2-9 0-14 7-9 0-14 2-9 5-2 0-12-1-21 1-16-4 0 4 3 1 11 4 23-4 5 1 6 2 2 2 1 2-1 1-3 3-5 2-5 0-5 0-20-5-12 1 0 4 11 1 12 2 7 1 10-1 15-3 5 1 2 1 2 4 1 3-2 4-3 0-11-2-9 2-4 2-4 3 0 4 0 2 4 3 6 2 11 0 10-3 4 0 7 8zM78 104l-6-2-5-5-3-7-2-13-2-7-4-5-7-3-2-2 0-2 3-5 5-3 19 1 3-1 13-7 3-1 6 0 3 2 3 4 2 5 0 5-1 11-4 17-1 7-4 4-9 5-5 2zM35 93l-2-1-2-2 0-2 2-4 4-1 5-1 6 1 3 2 2 1 0 2 0 2-2 2-3 1-8 1zM554 92l6 1 5 0 3-1 5-2 2-4 2-3 0-4-2-3-3-3-4-2-7-1-10 1-7 4-4 4 0 4 1 1 5 5zM558 88l-2-2-2-3 1-4 2-2 3-1 3-1 4 1 3 2 2 5-1 3-2 2-2 1-4 1zM505 78l5 1 4-2 3-3 2-5 0-6-1-3-4-4-4-1-5 0-3 1-3 2-2 4 1 5 2 6 2 3zM509 70l-4-1-1-4 0-3 3-2 3 0 2 2 1 1-1 5-2 2zM150 76l5 1 5-1 4-2 3-5 2-6-1-5-4-5-4-3-3 0-6 2-3 3-4 5-1 5 1 4 2 4zM151 72l-2-2-2-3 0-4 1-4 2-3 3-1 4-1 3 1 2 1 2 4 1 3-1 4-2 3-4 3-3 0zM630 69l11 1 0-7-13 1-5 0-3-2-1-2 0-2 1-1 3-3 5 0 13 5 0-5-11-3-5-1-7 3-5 3-1 4 0 2 4 3 5 3zM188 59l2 1 4-1 6-4 3-6 6-12 2-3 7 2 6 0 5-1 4-3 4-6 0-1 0-2-2-4-6-4-5-2-6 1-7 3-2 0-3-3-4-2-5 1-3 2-5 4-3 7-2 6-1 7 0 7 1 7 1 3zM189 56l-3-3-2-5 0-8 2-8 3-7 5-7 5-3 3 1 4 3 2 7-1 9-2 5-4 9-4 5-3 3-2 0zM218 33l-3-1-3-2-2-4 0-3 3-4 3-2 6-2 5 1 4 3 1 2 1 4-1 3-1 2-4 3-5 1zM158 43l4 1 3-2 3-3 2-6 0-5-2-3-3-4-3-1-4 0-1 1-3 4-2 3 0 5 1 4 2 3zM157 39l-3-6 0-5 3-3 1-2 4 0 3 2 2 3 0 4 0 3-3 4-2 1-4 0zM463 43l5 0 4-1 2-2 4-3 1-4 2-5 0-5-1-7-1-2-6-4-12-13-5-3-5 0-4 3-2 7-1 7 2 10 2 7 4 7 6 5zM462 39l-4-3-5-4-3-7-3-7-1-7 1-7 2-6 3-2 6 1 3 2 4 5 8 10 3 9 0 7-1 3-2 4-5 3-3 0zM327 35l7 0 6-1 3-1 4-3 12-19 0-4-3-3-6-4-7-2-7-1-10-1-18 1-12 1-9 2-6 4-1 1 0 2 2 3 4 4 1 2-2 5 1 2 8 3 16 6zM325 25l-6-4-8-7-16-7-2-2 0-1 4-2 9-2 23 0 9 1 5 1 5 3 2 2 1 2-1 3-3 5-6 5-3 2-4 1-5 1zM5 17l2 1 2-2-2-2-3 2zM639 17l2 1 0-4-2 1-1 1zM486 10l3 0 2-1 0-2-2-1-2 1-2 2z"/><path fill="#d1e5f0" fill-rule="evenodd" d="M343 139l4 1 3 0 4-2 3-2 5-6 3-7 0-7-3-7-5-5-5-3-7 0-7 3-5 5-3 5-1 4 1 5 2 7 6 7zM344 132l-3-2-3-3-1-4 0-5 1-4 3-3 4-2 3 0 5 2 3 3 1 4 0 5-1 4-4 4-4 2zM77 137l2 1 4 1 2-2 2-3 1-4 0-5-3-9 0-2 3-1 63-7 11-2 9-4 2-3-1-4-1-1-6-6-1-2 1-1 7-11 2-7 0-7-2-9 1-1 1-1 2 1 2 2 2 6 4 6 3 2 3 1 4-1 8-4 14 0 12-2 4-2 10-7 6-2 9-3 11-2 21-1 14 1 24 4 7 0 7-1 7-2 6-5 5-15 7-12 1-4-1-4-2-3-3-3-12-4-43 0-23 2-23 6-7 2-52 1-18 5-12 5-11 2-5 2-3 3-1 4-1 3 0 5 2 11 0 2-8 8-3 6-1 3 0 6 2 10-1 2-4 1-14-1-8-2-3-2-1-3 0-14-1-12-3-7-1-3-2-1-16 1-11 4-8-1-9 4-18 5-16-1-15 0-13-3-5 0 0 4 14 4 23-1 12 1 2 0 9-5 14-2 9 0 14-7 9 0 5 2 3 6 2 8 0 9-3 16 0 3 1 2 11 4 3 1 2 2 1 2-1 2-2 2-7 2-17 1-13 5-7 0-5-1-3-2-7-8-4-2-12 3-9 0-5-1-4-1-3-3 0-4 2-4 5-3 5-1 7-1 9 2 3 0 1-2 0-3-2-6-4-2-3 0-15 3-10 1-7-1-12-2-11-1 0 7 7 2 1 2 0 2-4 14 0 5 1 7 5 13 6 7 3 2 4 1 3 0 2-1 6-16 3-6 5-4 4-2 3-1 13 1 5 2 9 8 7 3 1 2-3 7 0 5 1 6zM79 134l-2-4 0-3 1-4 3-1 2 0 1 2 1 3 0 3-2 4-2 1zM149 76l-3-3-2-4-1-4 1-5 4-5 3-3 6-2 3 0 4 3 4 5 1 5-2 6-3 5-6 3-5 0zM187 58l-3-3-1-7 0-8 0-7 4-10 2-4 5-4 3-2 5-1 4 2 3 3 2 0 7-3 6-1 5 2 6 4 2 4 0 3-2 4-3 2-3 3-5 1-6 0-7-2-2 3-6 12-4 6-4 3-3 2-4-1zM157 42l-3-3-1-4-1-5 1-4 2-3 2-2 3-1 4 0 3 3 2 3 1 4-1 5-2 5-3 3-4 1zM326 35l-16-3-16-6-8-3-1-2 2-5-1-2-4-4-2-3 0-2 1-1 6-4 9-2 12-1 18-1 10 1 7 1 7 2 6 4 3 3 0 4-9 15-3 4-4 3-5 2-5 1zM180 136l8 1 7-1 5-4 3-5 0-4-1-5-4-9-6-5-7-2-5 0-4 2-4 7-3 9 0 5 2 5 4 4zM184 128l-3-1-2-4-1-3 1-4 4-4 4-1 3 0 4 2 2 3 1 4-1 3-2 4-2 1-4 1zM491 136l5-1 6-4 5-6 4-9 2-7-1-3-4-14 0-4 1-2 5-1 7 2 12 8 7 3 9 1 9 0 10-2 11-4 4-3 3-4 2-3 0-4 0-5-3-5-2-3-6-2-12-3-11 0-9 1-13 3-2-1-6-6-5-4-5-3-5-1-7 1-7 3-2 4 0 9-1 3-3 3-1 1-16 1-7 0-14-3-9-3 2-2 15-4 9-1 11 0 1-1 1-5-4-5 0-2 7-7 3-5 2-5 1-9 1-4 8-7 3-3 0-4-1-1-1-2-4-3-3-1-5 0-16 3-4-1-8-7-14 0-4 7-1 12-3 9 0 5 1 6 3 5 3 5 8 7 0 2-2 1-7 1-11 1-97-1-14 2-11 3 0 2 8 2 29 3 39 2 11 2 5 1 4 4 7 9 0 1 0 1-11 3-3 2-1 2 1 1 2 4 8 7 5 4 6 2 5-1 12-2 9-1 7 2 16 6 9 5 3 4 5 11zM491 127l-3-6-4-14-3-5-14-9-31-10-6-4-1-2 0-1 4-1 9 0 37 8 7 2 7 3 7 2 3 2 4 6 1 4 0 5-2 7-3 7-5 5-3 2zM553 92l-7-3-5-5-1-1 0-4 2-3 3-2 8-3 8-1 7 1 4 2 3 3 2 3 0 4-2 3-3 4-4 2-3 1-5 0zM504 77l-4-3-1-4-2-7 1-3 2-3 3-2 6 0 3 0 4 3 3 4 0 5-1 5-2 4-4 2-3 1zM462 42l-6-3-5-6-3-5-2-7-2-10 1-7 2-7 4-3 5 0 5 3 12 13 6 4 1 2 1 7 0 5-2 5-1 4-5 4-3 2-4 0zM485 9l3-2 3 0 0 2-2 1-3 0zM285 127l4 0 2 0 2-2 3-4 5-3 3-4-2-3-2-2-4-1-7-1-4-1-3-2-18-15-9-7-7-4-3-1-2 0-2 2 0 2 2 5 5 7 7 9 16 16 7 6zM280 120l-5-3-6-3-11-12-8-10-2-4 0-4 4 0 7 4 9 7 9 9 5 7 2 5 0 2-1 1zM641 125l0-55-16-2-5-1-6-4-2-3 1-4 2-1 3-2 5-2 7 0 11 3 0-6-9-2-7 0-7 3-17 7-4 2-1 2-1 2 0 1 3 3 16 5 16 5 3 1 2 2-1 4-3 10 0 9 1 5 2 7 3 6zM4 20l3 1 4-1 2-2 0-4-2-2-2-1-4 0-3 1-2 2 0 2 1 2zM4 16l1-1 2-1 2 2-2 2zM637 20l4 1 0-3-3-2 1-1 2-1 0-3-4 0-3 3 0 4z"/><path fill="#fddbc7" fill-rule="evenodd" d="M58 148l9 0 2-4 1-5-1-7-1-7-2-5-3-5-3-3-7-2-5-4-4-1-5 0-6 4-4 7-2 9 2 7 3 3 1 1 4 1 5-3 6-4 1-1 2 3 3 9zM61 143l-3-3-2-3-3-10 1-7 2-4 2 0 3 2 2 3 2 4 1 5 0 6-1 4-2 2zM32 132l-2-4-1-3 0-4 2-5 2-4 4-4 3-1 4 0 4 3 2 4 0 4 0 3-5 7-5 4-3 1-2 0zM227 147l9 1 9-2 7-5 3-4 1-3 1-4-1-5-3-7-3-7-5-6-7-3-7-1-7 2-6 3-2 3-1 4 3 10-1 9 1 5 3 6zM230 141l-3-2-3-3 0-6 2-3 3-3 3-1 6 0 3 1 3 3 2 3 0 4-2 3-3 3-3 1-4 1zM574 146l9 2 8-1 9-2 7-4 5-5 1-4 1-4-1-7-4-6-5-4-6-2-7-2-8 0-9 2-9 3-6 4-5 5-1 0-4-3-11-12-10-10-5-3-6-2-3-1-2 2 0 1 0 4 3 7 4 7 7 7 13 9 14 6 10 9zM577 134l-4-4-1-3 1-4 4-3 6-2 7 1 4 2 3 4 0 3-1 2-5 4-7 1zM537 123l-9-6-9-10-5-8 0-4 1-2 4 0 7 4 8 7 7 7 4 7 1 3 0 2-2 2-2 0zM403 132l7 2 6-2 2-2 0-3-2-6-5-5-8-5-11-4-3-1-4 0-1 1-1 2 1 4 2 3 10 12zM402 123l-1-2 0-1 2-1 2 1 2 1 0 2-2 2zM315 95l11 0 5-1 5-2 3-2 3-4 0-3 0-2-3-4-5-2-5-2-7-1-7 1-7 1-5 2-5 3-2 4 0 3 2 2 6 4zM315 90l-5-2-2-2-1-2 1-2 4-2 5-2 7 0 5 2 2 3 1 1-1 2-4 3-5 1zM123 64l5 0 4-1 2-1 11-18 1-5 0-6-2-4-3-6 0-2 4-7 1-3-1-4-6-2-5-1-9 1-6-7-3-2-3-1-4 0-3 2-4 3-1 4 0 3 2 5 4 3 6 1 7 0 2 2 1 1-1 4-7 12-1 9 0 7 2 6 4 5zM124 56l-3-1-1-2-2-4 0-5 2-5 3-4 7-6 6-2 3 1 2 2 2 3 1 4-2 3-10 15-4 2zM109 12l-3-1-2-2 0-4 0-3 2-2 3-2 5 1 2 1 3 4 0 3-1 2-1 2-3 1-3 1zM488 64l0-2 0-2-1 2 0 1zM591 46l13 1 7-1 9-4 4-3 2-4 2-5 0-5-2-14-5-10-3-3-4-2-3-2-4 0-3 1-4 2-14 15-13 9-4 5-1 4 1 3 1 4 4 3 7 4zM600 42l-7-3-4-4-2-3 1-6 4-10 6-9 6-4 3-2 4 0 3 2 3 2 4 7 2 9-1 9-3 7-5 4-7 2zM40 45l4 0 5 0 6-2 3-3 2-3 3-11 0-7-2-5-3-3-12-9-7-3-7 0-6 3-5 5-1 4 0 10 2 5 8 7 4 7 3 3zM42 40l-2-1 0-2 0-5-1-2-2-2-7-5-2-2-1-3 0-4 1-3 2-2 3-2 6 0 14 6 3 3 3 5-1 5-2 6-2 7-3 2-3 1zM523 44l5 1 4 0 7-3 5-3 3-4 3-5 1-4 0-3-1-5-2-6-4-5-7-6-9-3-7 1-4 2-10 18-2 6 0 7 4 5 5 3zM527 19l-2-1-1-2 1-4 1-1 2-2 4 0 2 3 1 4-1 2-2 2-2 0zM92 35l3 0 2-1 1-2 0-6-4-7-8-8-7-6-3-2-4-1-2 0-1 1-1 4 0 4 4 7 3 5 5 5 4 5 4 1zM87 32l-6-6-6-8-2-6 0-1 1-3 3 0 6 3 5 5 5 7 2 5 0 4-3 1zM-7 33l2-8-2-11zM373 34l5 0 29-4 7-3 5-3 5-6 4-9 0-9-2-7-4 0 3 7 0 5-2 7-3 6-5 4-5 3-7 2-7 0-12-1-4-1-2-2-3-21 0-6 1-3-4 0 0 5 1 14-1 4-4 7 0 3 0 3 2 3z"/><path fill="#f4a582" fill-rule="evenodd" d="M62 143l1-1 3-3 0-9-1-5-2-4-2-3-3-2-2 0-2 4-1 7 3 10 2 3zM59 136l-1-2-1-6 0-3 1-3 2 0 2 2 1 6 0 4-1 2zM231 141l3 1 5-1 3-2 3-3 1-2 0-4-2-3-3-3-3-1-6 0-3 1-4 4-1 4 0 4 3 3zM232 136l-1-2 0-2 1-2 4 0 2 1 0 3-1 2-3 0zM577 134l4 1 5 0 7-2 4-5 0-3-1-2-5-3-5-2-5 1-5 2-3 2-1 4 1 3zM33 133l4 0 5-2 4-4 4-7 0-4-1-3-2-4-3-2-4 0-3 1-4 4-2 4-2 5 0 6 2 3zM34 130l-2-2-1-3 0-5 1-4 3-3 2-3 3-1 4 1 3 3 1 3-1 4-1 3-2 4-4 3-3 1zM403 124l2 1 2-1 0-3-2-1-4-1 0 2zM539 124l5 1 2-2-1-5-4-7-7-7-8-7-7-4-4 0-1 2 0 4 2 5 4 5 10 10zM538 121l-3-1-5-3-9-8-3-5-2-4 0-3 1-2 4 1 5 2 7 6 4 5 4 5 1 4 0 2-1 1zM315 90l7 0 5-1 4-3 1-2-1-1-2-3-5-2-7 0-5 2-4 2-1 2 1 2 2 2zM125 57l3 0 4-2 11-15 1-3-1-4-2-3-2-2-3-1-6 2-7 6-3 4-2 5 0 5 2 4 1 2zM125 48l0-4 3-4 2-5 2-3 4-2 1 0 3 2 1 1 0 4-2 3-9 4-2 3-1 1zM602 43l7 0 6-3 5-4 2-6 1-9-2-9-4-7-3-2-3-2-4 0-3 2-6 4-6 9-3 7-2 5 1 5 3 4 5 3zM603 39l-3-2-4-4-2-5 1-5 2-7 5-7 4-2 5 0 3 2 4 5 2 7-1 7-2 5-3 4-5 2zM42 41l6 1 3-1 3-2 2-7 2-6 1-5-3-5-3-3-14-6-6 0-3 2-2 2-1 3 0 4 1 3 2 2 7 5 2 2 1 2 0 5 0 2zM46 28l-4-3-3-6 0-1 2-2 5-1 5 1 4 3 1 2-1 4-2 3-4 2zM88 32l4 1 3-1 0-4-2-5-5-7-5-5-6-3-3 0-1 3 0 1 3 7 5 7zM89 30l-5-3-5-6-2-3-1-4 1-2 2 0 4 2 7 7 2 4 0 3 0 2zM385 27l9 0 9 0 7-2 7-4 5-7 3-7 0-7-3-7-3 0 2 5 1 7-1 6-3 5-3 3-5 3-5 2-7 1-6-1-5-1-3-2-2-2-3-5-2-10 1-6 1-5-3 0-1 3 0 6 2 19 2 4zM528 20l4 0 1-2 2-2-1-4-2-3-4 0-2 2-1 1-1 2 1 4zM529 16l-1-2 2-1 1 1zM109 13l4 0 3-2 2-2 1-2 0-3-1-2-2-2-3-2-6 1-1 1-2 4 0 1 0 4 2 2zM110 11l-3-2-1-2 0-3 1-2 2-2 4 0 2 2 1 2 0 3-2 3-1 1z"/><path fill="#d6604d" fill-rule="evenodd" d="M60 136l2 0 1-3 0-3-1-6-2-2-2 0-1 3 0 3 1 6zM232 136l2 0 3 0 1-2 0-3-2-1-4 0-1 2 0 2zM35 131l4 0 3-2 3-4 2-4 1-3-1-4-2-3-3-2-3 0-3 2-3 3-1 4-1 5 0 4 2 3zM35 128l-2-1 0-2-1-4 1-3 4-5 3-2 2 0 2 2 2 3-1 5-2 4-3 3-1 1zM539 122l2-1 1-1 0-2-1-4-4-5-4-5-7-6-5-2-4-1-1 2 0 3 2 4 3 5 9 8 5 3zM534 118l-6-4-6-7-3-5-1-2 1-2 4 0 3 2 6 4 4 5 3 5 0 4-2 1zM125 48l2 0 1-1 2-3 9-4 2-3 0-4-1-1-3-2-1 0-4 2-2 3-2 5-3 4-1 2zM133 37l0-2 3-2 2 0 1 2 0 2-2 1-1 1zM604 39l5 0 5-2 3-4 2-5 1-7-2-7-4-5-3-2-5 0-4 2-5 7-2 7-1 5 2 5 4 4zM603 33l-3-2-1-3 0-3 1-6 2-3 3-3 4-1 2 1 3 3 2 3 0 6-1 3-2 4-2 2-4 1zM90 30l2 0 0-2 0-3-2-4-7-7-4-2-2 0-1 2 1 4 2 3 5 6zM88 26l-4-1-3-4-1-3 0-2 4 2 3 3 2 4zM46 28l3 2 4-2 2-3 1-4-1-2-4-3-5-1-5 1-2 2 0 1 3 6zM49 23l0-1 1 1zM396 25l7-1 5-1 6-3 4-4 3-5 1-6-1-7-2-5-3 0 3 5 1 6-1 5-2 5-4 4-5 3-5 1-5 1-9-2-4-2-2-3-2-5-1-7 0-6 2-5-3 0-1 5-1 6 2 8 2 6 3 3 1 1 6 2zM530 16l1-2-1-1-2 1zM111 11l2 0 2-2 2-4-2-3-4-2-4 2-1 3 1 4zM108 7l0-2 1-2 2-1 3 2 0 1 0 2-1 1-2 1z"/><path fill="#b2182b" fill-rule="evenodd" d="M37 129l2 0 3-2 3-6 1-5-2-3-2-2-2 0-3 2-4 5-1 3 1 4 2 3zM35 125l-1-4 1-3 1-2 3-2 1 0 2 0 2 4-2 5-3 3-2 0zM535 118l4 0 0-2-1-3-2-4-4-5-6-4-3-2-4 0-1 2 1 2 3 5 6 7zM531 114l-5-4-4-4-1-4 2-1 3 1 3 2 6 7 1 3-1 1zM134 37l2 2 1-1 2-1 0-2-2-2-1 0-3 2zM604 34l3 1 4-1 3-4 2-4 0-5-2-5-2-2-3-2-3 0-2 2-3 4-2 3 0 4 0 3 2 4zM606 26l-1-3 2-1 1 1 1 2-2 2zM88 26l1-1-2-4-3-3-4-2 0 2 1 3 3 4zM391 22l7 1 7-1 5-2 5-4 4-5 1-6-1-7-3-5-3 0 3 3 2 6 0 5-3 5-3 4-4 2-3 2-5 1-6-1-3-1-4-2-2-3-2-5-1-7 1-6 1-3-2 0-2 7 0 5 1 6 3 7 3 2zM109 8l2 1 3-2 0-2-1-2-2-1-3 2 0 1z"/><path fill="#67001f" fill-rule="evenodd" d="M37 126l3-1 3-4 1-3-1-2-1-2-2 0-3 1-2 5 0 3 0 2zM532 115l3 0 1-1-1-3-6-7-3-2-3-1-2 1 2 4 4 5zM607 27l1-1 1-1-2-3-1 1-1 2 1 1zM392 20l6 1 7-1 5-3 4-3 3-5 1-5-1-6-4-5-29 0-1 3-1 4 1 9 3 7 3 2z"/><use href="#coast"/><path d="M0 70.4 H633.6 M316.8 0 V140.8" stroke="#333" stroke-width="1.6" stroke-dasharray="5 4" fill="none"/><g fill="none" stroke="#a020f0" stroke-width="2"><path d="M386.1 -7l-4.3 5.2-3.1 7.1-1.3 7 .7 7.1 3 5.2 4.3 3.5 7.1 2.7 7 .9 8.8-.8 8.8-3.3 6.4-4.7 3.8-5.3 1.8-5.3 .2-3.5-.5-3.5-1.3-3.5-2.1-3.6-5.4-5.2M308 91.6l10.6 .8 8.8-1.1 4.8-1.5 3.1-1.8 1.6-1.8 .5-1.7-1.2-2.6-3.6-2.5-5.2-1.7-5.3-.9-7.1-.2-7 .7-6.6 1.9-3.1 1.8-1.6 1.7-.5 1.8 1.2 2.6 4 2.7 6.6 1.8M554.4 42.3l5.3 .3 7-1.3 7.1-2.5 6.5-3.6 4.7-3.5 4.5-5.3 1.2-3.5-.2-1.8-.9-1.6-1.8-1.2-3.5-1-7 .4-8.8 2.6-8.3 4.3-6.5 5.3-3.5 5.3-.3 3.5 1 1.7 3.5 1.9M98.6 10.9l1.7 .8 3.5 0 2.2-1.1 .8-1.8-.8-1.8-2.2-1.1-3.5 0-2.1 1.1-.8 1.8 1.2 2.1"/><path d="M397.8 21.2l5.2 .1 5.3-1.4 3.8-2.3 2.9-3.5 1.1-3.5-.3-3.6-1.7-3.5-4-3.5-5.3-1.9-3.5-.2-3.5 .5-5.3 2.7-3.5 4.2-1.4 5.3 1.4 5.2 3.5 3.5 5.3 1.9"/><path stroke-dasharray="7 4.5" d="M345.3 147.8l-8.3-1.7-2.3-1.8 3.1-1.7 3.6-.8 17.6-2.3 21.2-1.3 26.4-.5 24.6 .4 22.9 1.2 18.1 1.5 23.9 3.5-4.3 1.8-14.1 1.7M516.4 147.8l-7.3-1.7-2.2-1.8 19.3-4.6 35.2-10.7 14.1-3.1 15.9-2 15.8-.7 15.8 .4 17.6 1.8M-7 123.9l17.6 2 42.2 6.4 17.6 1.6 19.4 .7 12.3-.5 10.5-1.3 10.6-2.5 15.8-4.6 8.8-1.8 8.8-.7 8.8 .4 12.4 2.8 14 6.1 17.2 10.1 1.8 1.7 .9 1.8-.2 1.7M352 -7l2 1.7 2.3 3.5 .7 5.3-1 3.5-2.1 3.6-5.4 4.5-7.1 3.1-10.5 2.3-14.1 1.5-17.6 .6-19.4-.7-17.6-2.1-15.8-3.4-10.6-4.1-3.5-2.1-3.3-3.2-1-1.7 0-3.5 2.5-3.6 2.3-1.7 6.9-3.5M81 97.1l-10.6-2.9-8.8-4.6-4.2-3.4-3.2-3.5-2.3-3.5-1.5-3.5-.7-3.5 0-3.6 .9-3.5 1.8-3.5 5.1-5.3 7.6-3.9 7.1-1.8 7-.6 7 .5 8.8 1.9 7.1 2.8 7.6 4.6 5.7 5.3 3.4 5.3 1.2 5.3-.3 3.5-1 3.5-3.3 5.3-4.5 4-7.1 3.5-7 1.8-7 .5-8.8-.7M156.6 74.2l-6-2-2.6-1.8-1.9-2.5-.7-2.8 .4-1.7 1-1.8 2.8-2.6 3.5-1.8 3.5-1.1 7.1-.4 5.3 .9 3.5 1.4 4.1 3.6 .9 1.8 0 3.5-2.4 3.5-2.5 1.8-7.2 2.2-8.8-.2M293.9 65.1l-3.5-1.7 2-1.8 3.3-.4 3 .4 1.9 1.8-3.2 1.6-3.5 .1M223.5 61.7l-2.7-1.9 0-1.7 2.7-1.9 7.1-.6 3.7 .7 2.5 1.8 0 1.7-2.7 1.9-5.3 .7-5.3-.7"/><path stroke-dasharray="7 4.5" d="M563.3 147.8l-1.9-1.7-.4-1.8 .8-1.7 2.1-1.8 8.1-3.7 14.1-3.6 12.3-1.6 14.1-.5 14.1 .7 14 1.6M-7 132.1l15.8 1.8 49.3 7.9 26.4 2.9 10.5 .6 7.1-.2 10.5-1.7 33.5-9.1 7-.8 7.1 0 9.9 2 7.3 3.5 3.6 3.6 .5 1.7-.4 1.8-1.5 1.7M81 90.1l-5.3-1.4-5.4-2.5-4.8-3.5-3.1-3.5-1.8-3.5-.7-5.3 .9-3.5 2.5-3.5 3.6-2.9 5.3-2.3 5.2-1 5.3-.1 5.3 .6 5.3 1.4 5.4 2.5 4.9 3.5 4.1 5.3 1.5 5.3-1 5.3-2.5 3.5-4.8 3.5-5.9 2.1-7 .7-7-.7M286.9 12.3l-11.1-1.7-6.5-2.1-2.8-1.5-1.9-1.7-.7-1.8 .7-1.7 1.9-1.8 3.5-1.8 8.1-2.2 10.5-1.4 14.1-.4 10.6 .7 10.5 2 4.2 1.3 3.3 1.8 1.8 1.8 .5 1.7-.6 1.8-3.9 2.9-5.3 1.9-5.2 1.2-15.9 1.6-15.8-.6"/><path stroke-dasharray="7 4.5" d="M599.9 147.8l-4.4-1.7-1.2-1.8 2.3-2.1 4.2-1.4 4.6-.7 8.8-.6 10.6 .6 7 .9 8.8 2.4M640.6 147.8l-.1 0M-7 140.3l12.1 2.3 4.2 1.7 .9 1.8-3.3 1.7M84.5 84.7l-5.3-1.2-3.5-1.5-3.5-2.5-1.9-2.1-1.5-3.5 .1-3.5 1.5-2.8 3-2.5 4-1.5 3.6-.5 7 .7 7 3.1 2.2 1.7 2.4 3.6 .8 3.5-.3 1.7-2.2 3.6-2.9 2-3.5 1.2-7 .5"/></g></g><rect width="633.6" height="140.8" fill="none" stroke="#000" stroke-width="2.7"/></g><g stroke="#000" stroke-linecap="butt"><line x1="102.2" y1="39.2" x2="102.2" y2="32.7" stroke-width="2.6"/><line x1="102.2" y1="180" x2="102.2" y2="186.5" stroke-width="2.6"/><line x1="119.8" y1="39.2" x2="119.8" y2="36" stroke-width="2.0"/><line x1="119.8" y1="180" x2="119.8" y2="183.2" stroke-width="2.0"/><line x1="137.4" y1="39.2" x2="137.4" y2="36" stroke-width="2.0"/><line x1="137.4" y1="180" x2="137.4" y2="183.2" stroke-width="2.0"/><line x1="155" y1="39.2" x2="155" y2="36" stroke-width="2.0"/><line x1="155" y1="180" x2="155" y2="183.2" stroke-width="2.0"/><line x1="172.6" y1="39.2" x2="172.6" y2="36" stroke-width="2.0"/><line x1="172.6" y1="180" x2="172.6" y2="183.2" stroke-width="2.0"/><line x1="190.2" y1="39.2" x2="190.2" y2="36" stroke-width="2.0"/><line x1="190.2" y1="180" x2="190.2" y2="183.2" stroke-width="2.0"/><line x1="207.8" y1="39.2" x2="207.8" y2="32.7" stroke-width="2.6"/><line x1="207.8" y1="180" x2="207.8" y2="186.5" stroke-width="2.6"/><line x1="225.4" y1="39.2" x2="225.4" y2="36" stroke-width="2.0"/><line x1="225.4" y1="180" x2="225.4" y2="183.2" stroke-width="2.0"/><line x1="243" y1="39.2" x2="243" y2="36" stroke-width="2.0"/><line x1="243" y1="180" x2="243" y2="183.2" stroke-width="2.0"/><line x1="260.6" y1="39.2" x2="260.6" y2="36" stroke-width="2.0"/><line x1="260.6" y1="180" x2="260.6" y2="183.2" stroke-width="2.0"/><line x1="278.2" y1="39.2" x2="278.2" y2="36" stroke-width="2.0"/><line x1="278.2" y1="180" x2="278.2" y2="183.2" stroke-width="2.0"/><line x1="295.8" y1="39.2" x2="295.8" y2="36" stroke-width="2.0"/><line x1="295.8" y1="180" x2="295.8" y2="183.2" stroke-width="2.0"/><line x1="313.4" y1="39.2" x2="313.4" y2="32.7" stroke-width="2.6"/><line x1="313.4" y1="180" x2="313.4" y2="186.5" stroke-width="2.6"/><line x1="331" y1="39.2" x2="331" y2="36" stroke-width="2.0"/><line x1="331" y1="180" x2="331" y2="183.2" stroke-width="2.0"/><line x1="348.6" y1="39.2" x2="348.6" y2="36" stroke-width="2.0"/><line x1="348.6" y1="180" x2="348.6" y2="183.2" stroke-width="2.0"/><line x1="366.2" y1="39.2" x2="366.2" y2="36" stroke-width="2.0"/><line x1="366.2" y1="180" x2="366.2" y2="183.2" stroke-width="2.0"/><line x1="383.8" y1="39.2" x2="383.8" y2="36" stroke-width="2.0"/><line x1="383.8" y1="180" x2="383.8" y2="183.2" stroke-width="2.0"/><line x1="401.4" y1="39.2" x2="401.4" y2="36" stroke-width="2.0"/><line x1="401.4" y1="180" x2="401.4" y2="183.2" stroke-width="2.0"/><line x1="419" y1="39.2" x2="419" y2="32.7" stroke-width="2.6"/><line x1="419" y1="180" x2="419" y2="186.5" stroke-width="2.6"/><line x1="436.6" y1="39.2" x2="436.6" y2="36" stroke-width="2.0"/><line x1="436.6" y1="180" x2="436.6" y2="183.2" stroke-width="2.0"/><line x1="454.2" y1="39.2" x2="454.2" y2="36" stroke-width="2.0"/><line x1="454.2" y1="180" x2="454.2" y2="183.2" stroke-width="2.0"/><line x1="471.8" y1="39.2" x2="471.8" y2="36" stroke-width="2.0"/><line x1="471.8" y1="180" x2="471.8" y2="183.2" stroke-width="2.0"/><line x1="489.4" y1="39.2" x2="489.4" y2="36" stroke-width="2.0"/><line x1="489.4" y1="180" x2="489.4" y2="183.2" stroke-width="2.0"/><line x1="507" y1="39.2" x2="507" y2="36" stroke-width="2.0"/><line x1="507" y1="180" x2="507" y2="183.2" stroke-width="2.0"/><line x1="524.6" y1="39.2" x2="524.6" y2="32.7" stroke-width="2.6"/><line x1="524.6" y1="180" x2="524.6" y2="186.5" stroke-width="2.6"/><line x1="542.2" y1="39.2" x2="542.2" y2="36" stroke-width="2.0"/><line x1="542.2" y1="180" x2="542.2" y2="183.2" stroke-width="2.0"/><line x1="559.8" y1="39.2" x2="559.8" y2="36" stroke-width="2.0"/><line x1="559.8" y1="180" x2="559.8" y2="183.2" stroke-width="2.0"/><line x1="577.4" y1="39.2" x2="577.4" y2="36" stroke-width="2.0"/><line x1="577.4" y1="180" x2="577.4" y2="183.2" stroke-width="2.0"/><line x1="595" y1="39.2" x2="595" y2="36" stroke-width="2.0"/><line x1="595" y1="180" x2="595" y2="183.2" stroke-width="2.0"/><line x1="612.6" y1="39.2" x2="612.6" y2="36" stroke-width="2.0"/><line x1="612.6" y1="180" x2="612.6" y2="183.2" stroke-width="2.0"/><line x1="630.2" y1="39.2" x2="630.2" y2="32.7" stroke-width="2.6"/><line x1="630.2" y1="180" x2="630.2" y2="186.5" stroke-width="2.6"/><line x1="647.8" y1="39.2" x2="647.8" y2="36" stroke-width="2.0"/><line x1="647.8" y1="180" x2="647.8" y2="183.2" stroke-width="2.0"/><line x1="665.4" y1="39.2" x2="665.4" y2="36" stroke-width="2.0"/><line x1="665.4" y1="180" x2="665.4" y2="183.2" stroke-width="2.0"/><line x1="683" y1="39.2" x2="683" y2="36" stroke-width="2.0"/><line x1="683" y1="180" x2="683" y2="183.2" stroke-width="2.0"/><line x1="700.6" y1="39.2" x2="700.6" y2="36" stroke-width="2.0"/><line x1="700.6" y1="180" x2="700.6" y2="183.2" stroke-width="2.0"/><line x1="718.2" y1="39.2" x2="718.2" y2="36" stroke-width="2.0"/><line x1="718.2" y1="180" x2="718.2" y2="183.2" stroke-width="2.0"/><line x1="735.8" y1="39.2" x2="735.8" y2="32.7" stroke-width="2.6"/><line x1="735.8" y1="180" x2="735.8" y2="186.5" stroke-width="2.6"/><line x1="102.2" y1="39.2" x2="99" y2="39.2" stroke-width="2.0"/><line x1="735.8" y1="39.2" x2="739" y2="39.2" stroke-width="2.0"/><line x1="102.2" y1="56.8" x2="96.2" y2="56.8" stroke-width="2.6"/><line x1="735.8" y1="56.8" x2="741.8" y2="56.8" stroke-width="2.6"/><line x1="102.2" y1="74.4" x2="99" y2="74.4" stroke-width="2.0"/><line x1="735.8" y1="74.4" x2="739" y2="74.4" stroke-width="2.0"/><line x1="102.2" y1="92" x2="99" y2="92" stroke-width="2.0"/><line x1="735.8" y1="92" x2="739" y2="92" stroke-width="2.0"/><line x1="102.2" y1="109.6" x2="96.2" y2="109.6" stroke-width="2.6"/><line x1="735.8" y1="109.6" x2="741.8" y2="109.6" stroke-width="2.6"/><line x1="102.2" y1="127.2" x2="99" y2="127.2" stroke-width="2.0"/><line x1="735.8" y1="127.2" x2="739" y2="127.2" stroke-width="2.0"/><line x1="102.2" y1="144.8" x2="99" y2="144.8" stroke-width="2.0"/><line x1="735.8" y1="144.8" x2="739" y2="144.8" stroke-width="2.0"/><line x1="102.2" y1="162.4" x2="96.2" y2="162.4" stroke-width="2.6"/><line x1="735.8" y1="162.4" x2="741.8" y2="162.4" stroke-width="2.6"/><line x1="102.2" y1="180" x2="99" y2="180" stroke-width="2.0"/><line x1="735.8" y1="180" x2="739" y2="180" stroke-width="2.0"/></g><text x="100.9" y="31" style="font-family:'Liberation Sans',Arial,Helvetica,sans-serif;font-size:35.2px">4-Feb to 8-Feb</text><g transform="translate(102.2,254)"><g clip-path="url(#pc)"><rect width="633.6" height="140.8" fill="#f7f7f7"/><path fill="#053061" fill-rule="evenodd" d="M90 96l3 0 2-1 2-3 0-9-4-11-6-9-6-6-4-3-3-1-4 0-1 1-3 2-1 6 2 7 2 7 5 7 5 6 5 4zM458 27l5 0 3-1 4-3 2-5-1-6-1-5-4-4-5-2-3 0-4 1-3 3-2 6 0 5 2 4 3 5zM276 23l9-1 7-3 3-3 1-2-1-3-1-2-4-3-3-2-5-1-6-1-5 1-5 1-4 2-3 3-1 2 0 3 2 4 8 4z"/><path fill="#2166ac" fill-rule="evenodd" d="M111 132l3 1 2-1 1-2-1-2-2 0-3 0-2 2zM157 132l3 1 2 0 2-3-1-2-3-1-2 0-2 1 0 2zM366 130l4 0 0-2-2-2-4-1-1 2 1 1zM306 109l2 0 3-2 0-1-1-2-4-1-2 1-1 2 1 1zM88 97l4 1 3 1 4-1 1-3-1-7-3-12-7-13-6-7-7-5-4 0-3 0-4 4-1 3 0 7 2 7 4 7 5 7 6 6zM88 95l-5-3-6-6-6-7-3-7-2-7 0-5 1-4 3-3 6 0 7 5 6 7 5 11 3 8 0 8-2 3-3 1zM458 29l5 0 7-1 3-2 1-3 0-9-3-7-5-6-5-2-5 1-4 2-3 5-1 5 0 6 2 5 4 4zM457 26l-3-1-3-5-2-4 0-5 2-6 3-3 4-1 3 0 5 2 4 4 1 5 1 6-2 5-4 3-5 1zM268 23l5 1 7 0 10-2 4-3 4-3 0-2 0-3-3-4-2-2-8-3-10-1-11 2-4 2-3 4-1 2 0 3 2 4 2 1zM275 23l-9-2-6-3-1-2-1-4 1-3 2-2 7-3 10-2 5 1 6 2 5 4 1 2 1 3-1 2-3 3-7 3zM333 15l5 0 2-1 1-2-2-1-1-1-5 0-2 1-1 1 1 2z"/><path fill="#4393c3" fill-rule="evenodd" d="M111 136l5 0 5-2 2-2 0-2 0-2-3-2-4-2-5 0-4 2-2 2 0 4 2 2zM110 132l-1-2 1-2 3-1 3 1 1 2-1 2-2 1zM155 136l3 1 4 0 3-1 2-2 1-2 0-4-2-3-4-2-4 0-3 1-4 3-1 3 0 2 1 2zM156 132l0-2 0-2 2-1 2 0 3 1 1 2-2 3-4 0zM368 136l5 0 4-2 0-2 0-4-3-3-6-4-5-1-4 1-2 2 0 2 1 5 5 4zM366 130l-2-2-1-1 1-2 4 1 2 2 0 2zM500 126l2 1 1-2 1-5 0-11-2-6-2 1-2 7 0 9zM303 111l5 1 4-2 2-3-1-3-2-2-3-1-4 0-2 1-1 2-1 3 0 2zM306 109l-2-2-1-1 1-2 2-1 4 1 1 2 0 1-3 2zM104 107l5 2 4-2 2-5 0-3-1-4-3-3-7-2-2-3-9-20-5-7-5-5-6-5-3-1-4-1-3 1-2 2-2 4-1 7 2 8 6 11 7 9 7 7 6 3 9 4zM88 97l-7-5-6-6-5-7-4-7-2-7 0-7 1-3 4-4 3 0 4 0 7 5 6 7 7 13 3 12 1 7-1 3-4 1-3-1zM12 99l2 1 2-1 2-2 0-4-2-2-2-1-2 1-1 2 0 4zM192 92l4-2 1-2-1-2-4-1-5 1-1 2 1 2 3 1zM144 78l6-1 4-1 1-2 1-2-2-3-3-2-5-1-5 1-4 2-1 1-1 2 1 2 3 2zM470 35l5 2 6-2 1-2 2-3 0-4-1-3-11-18-3-3-3-3-3-1-4-1-3 1-5 4-4 5-1 7 1 7 4 5 3 3zM457 28l-5-3-3-4-1-5 0-5 2-6 2-3 4-2 5-1 5 2 5 6 3 7 0 9-1 3-5 3-5 0zM76 29l1 1 3-2 0-2-1-2-2 0-1 1-1 1zM268 25l5 1 7 0 10-2 6-3 4-3 3-4-1-3-3-4-3-2-6-3-5-1-12-1-11 2-7 5-2 4 0 3 2 4 2 2 5 3zM267 23l-7-4-2-1-2-4 0-3 1-2 3-4 4-2 11-2 10 1 8 3 2 2 3 4 0 3-2 4-4 3-3 1-11 2-5 0zM327 21l11 1 9-2 3-2 2-2 0-2 0-3-2-3-3-3-7-2-9 0-7 2-6 4-2 3 0 2 1 2 3 3zM331 14l-1-2 1-1 3-1 5 1 2 1-1 2-2 1-4 0z"/><path fill="#92c5de" fill-rule="evenodd" d="M153 139l5 1 4 0 5-2 4-2 2-4 1-2-1-3-2-4-6-4-7-1-5 1-10 5-11 1-5-1-16-6-2 1-5 3-3 3-1 3 0 4 1 2 3 2 5 2 7 1 14-3 9 0 5 0zM110 136l-4-2-1-2 0-4 2-2 4-2 5 0 4 2 3 2 0 2 0 2-2 2-5 2zM154 136l-3-2-1-4 0-2 3-3 4-2 3 0 4 0 3 4 1 1 0 4-3 4-5 1-3 0zM364 139l9 1 6-1 3-2 1-1 1-2-1-4-3-5-7-5-9-3-7 0-2 1-2 2-1 3 1 5 2 4 2 3 4 3zM367 136l-6-3-4-5 0-3 0-2 2-2 4-1 5 1 6 4 3 3 0 4 0 2-2 1-4 1zM502 136l1-1 3-5 1-5 0-7-2-19-2-5-1-2-2 0-2 2-2 6-2 7 0 9 1 7 2 7 1 4 2 2zM499 125l-1-5 0-9 2-7 2-1 2 6 0 11-1 4-1 3zM107 116l4 1 2-1 3-3 3-6 1-3 0-5-3-7-4-5-9-5-13-22-8-9-7-5-6-1-3 1-2 2-3 3-2 7 1 9 3 9 8 10 9 10 21 18zM104 107l-5-3-9-4-6-3-7-7-7-9-6-11-2-8 1-7 2-4 2-2 3-1 4 1 3 1 6 5 5 5 5 7 9 20 2 3 7 2 3 3 1 4 0 3-2 5-4 2-3-1zM292 116l4 1 3 1 11-3 3-2 3-4 0-3 0-2-1-2-3-2-6-1-5 0-10 5-3 3-1 4 2 3zM303 111l-3-2 0-2 1-3 1-2 2-1 4 0 3 1 2 2 1 3-2 3-4 2zM9 109l5 2 5-2 5-5 3-5 0-6-1-5-3-4-5-4-6 0-7 1-7 3-1 2 4 7 3 11 3 3zM12 99l-1-4 0-3 3-2 2 1 2 2 0 5-2 1-2 1zM641 108l0-27-7 2-3 1-1 2 5 7 3 11zM187 95l3 1 4 0 5-2 2-2 1-4 0-4-1-1-4-2-5 0-5 0-4 2-2 3 0 4 2 3zM191 92l-4-2-1-2 1-2 5-1 4 1 1 2-1 2-2 1zM243 81l7 0 9-1 2-1 0-2-8-1-8 0-13 1-2 2zM139 80l9 1 9-2 4-3 0-2 0-4-3-3-7-3-7-1-7 2-5 4-1 3 1 4 2 1zM143 77l-5-1-2-3 0-3 3-3 5-1 6 0 3 2 3 2 0 2-1 2-1 2-4 1zM160 44l2-1 1-3-1-2-2-1-2 1-1 2 1 3zM473 42l6 1 3-1 4-3 2-2 2-4 0-5-1-9-5-7-16-14-7-3-3 1-4 1-3 2-3 3-3 7-1 9 2 7 5 6 5 3 10 6zM469 35l-15-6-3-3-4-5-1-7 1-7 4-5 5-4 3-1 4 1 3 1 3 3 3 3 11 18 1 3 0 4-2 3-1 2-6 2zM76 33l3 0 2-1 2-4 0-4-2-2-2-1-3 0-2 1-2 3 0 3 1 2zM75 28l0-2 1-1 1-1 3 1 0 1-1 3-2 1zM273 28l7 1 7-1 17-5 23 4 9 0 7-1 7-2 6-3 3-3 1-6-3-5-5-5-7-3-7-2-7 1-7 1-18 6-3-1-14-4-11-2-12 1-6 2-5 3-3 3-2 4 0 3 2 5 3 3 5 3 6 2zM267 25l-7-3-3-2-2-2-2-4 0-3 2-4 7-5 11-2 12 1 5 1 6 3 3 2 3 4 1 3-3 4-4 3-6 3-7 1-5 1zM326 21l-7-3-3-4 0-2 2-3 6-4 7-2 9 0 7 2 3 3 2 3 0 3 0 2-2 2-3 2-9 2z"/><path fill="#d1e5f0" fill-rule="evenodd" d="M370 146l12-1 7-3 3-3 1-3 0-4-2-4-4-4-3-4-11-5-12-4-5 0-5 2-3 3 0 4 4 17 1 4 3 2 3 2zM364 139l-3-1-4-3-2-3-2-4-1-5 1-3 2-2 2-1 7 0 9 3 7 5 3 5 1 4-1 2-1 1-3 2-8 1zM498 146l4 2 3-3 4-8 1-9-2-33-2-11-2-3-6-4-3-2-34-1-25 1-8 2-4 2 0 2 1 2 2 1 11 4 18 1 24-1 4 0 4 2 1 2 1 3-1 19 1 14 4 11zM500 136l-2-2-2-6-1-7-1-7 2-14 2-6 2-2 2 0 1 2 2 5 2 21 0 7-2 5-2 3-1 1zM155 144l5 1 7-1 17-7 7-3 1-2 2-4 0-8 1-4 11-13 2-4 2-7 3-4 5-1 6-1 45 0 9-1 4-2 3-2 2-4 2-5 2-2 6-2 20-6 7-4 2-2 0-3-1-4-6-7-1-3 1-2 5-2 23-4 9-4 5-3 3-3 2-5-1-7-2-7-6-5-7-4-33 0-18 4-17-2-11 0-11 2-7 2-7 5-2 3-2 4 0 3 0 4 6 10 1 5-1 4-7 11-2 5-1 5 3 7-1 2-3 2-19 3-35 4-5-1-6-2-12-9-9-3-7 0-5 1-5 2-5 3-3 3-1 4 1 3 2 4 6 3 24 7 4 1 2 3 0 4-4 4-7 2-9 2-7-1-5-2-4-5-3-11-1-4-4-3-13-7-5-5-10-19-8-10-1-1 4-9 0-4-1-3-2-3-3-2-4-1-3 1-4 4-1 4 0 4 4 7 0 2-10 5-4 7-2 7-1 12 1 4 2 3 20 20 6 7 4 5 4 9 0 3-1 9 1 6 6 4 8 2 7 1 29 0zM153 139l-9-3-7 0-9 0-12 3-7-1-5-2-3-2-1-2 0-4 1-3 3-3 5-3 2-1 16 6 5 1 11-1 10-5 5-1 7 1 6 4 2 4 1 3-2 4-1 2-4 2-5 2-5 0zM107 116l-5-2-21-18-9-10-8-10-3-9-1-9 2-7 3-3 2-2 3-1 6 1 7 5 8 9 13 22 9 5 4 5 2 3 1 5 0 6-2 3-2 4-5 4-2 0zM186 95l-3-2-2-3 0-4 2-3 4-2 5 0 5 0 4 2 1 1 0 4-1 4-2 2-4 1-3 1zM242 81l-12-2 2-2 13-1 8 0 8 1 0 2-4 1zM138 79l-6-3-1-4 1-3 5-4 7-2 7 1 7 3 3 3 0 4 0 2-2 1-3 2-8 2-5-1zM74 32l-2-4 0-3 1-2 3-2 1 0 4 1 2 3 0 3 0 2-4 3-3 0zM271 28l-5-1-9-4-5-4-2-5 1-5 2-4 7-4 8-2 8-1 9 1 7 2 11 3 3 1 20-7 7-1 7 1 7 1 7 4 3 4 3 5-1 6-3 3-6 3-7 2-7 1-9 0-23-4-17 5-9 1zM296 130l7 1 5-1 4 0 3-3 4-5 2-8 1-5-1-3-4-6-4-2-3-1-20-3-7 0-4 3-2 5-1 9 2 7 2 4 3 4 6 3zM292 116l-4-3-1-4 2-3 2-2 10-5 5 0 6 1 3 2 1 2 0 2 0 3-3 4-3 2-11 3-3-1zM7 120l7 1 4-1 3-2 7-8 8-13 1-7-1-6-2-3-3-4-6-3-6-1-5 0-21 6 0 20 2 7 2 5 2 3 5 4zM9 109l-2-2-3-3-3-11-4-7 1-2 7-3 7-1 6 0 5 4 3 4 1 5 0 6-3 5-5 5-5 2zM641 120l0-12-3-4-3-11-5-7 1-2 3-1 7-2 0-6-19 6-2 2-1 3 2 4 4 5 3 11 3 5 4 6zM473 48l7 0 6-1 5-3 3-4 3-5 1-7 0-7-2-7-5-8-7-5-18-8-12 0-3 2-4 3-3 4-3 5-2 5-1 6 1 5 1 3 4 7 5 5 10 5zM473 42l-7-2-10-6-5-3-5-6-2-7 1-9 3-7 3-3 3-2 4-1 3-1 7 3 16 14 5 7 1 9 0 5-2 4-2 2-4 3-3 1zM157 46l1 1 4 0 3-3 1-5-2-4-2-1-4 0-3 3 0 5zM160 44l-2-1-1-3 1-2 2-1 2 1 1 2-1 3zM5 14l6-1 2-2 1-4-1-2-2-2-4-1-3 1-4 2-1 2 0 4 1 1 2 1zM639 14l2 0 0-12-6 1-2 2-1 2 0 4 2 1 1 1z"/><path fill="#fddbc7" fill-rule="evenodd" d="M62 147l0 1 20 0 2-5 0-9 0-13 0-5-2-5-4-7-4-6-5-3-6-2-5 1-5 4-10 11-2 4-1 3 1 4 10 10zM69 141l-4-3-3-5-8-12-2-5 1-5 3-5 4-4 3-2 6 1 3 3 5 7 2 7 0 9-2 10-3 3-2 1zM333 140l3 1 4-1 3-3 2-3 0-4-1-5-3-3-3-2-4 0-1 1-3 2-1 4-1 3 0 4 2 3zM336 130l0-2 2 1 0 1 0 1-2 0zM238 134l7 0 12-5 5-3 4-3 2-7 1-7-1-7-4-5-5-2-6 1-8 4-11 3-3 2-4 4-3 7 0 4 1 5 2 3 4 3zM257 118l-3-2-1-2-1-5 1-3 2-3 2-1 3 0 2 1 2 3 1 3 0 4-3 4-2 1zM567 135l5 0 4-2 4-5 3-5 1-7 0-9-2-7-2-5-3-3-3-3-4-2-5-1-2-1-2-8-3-3-4-3-7-2-8-1-7 0-8 3-1 1-3 4 0 3 0 11-4 8-2 6 0 17 1 4 4 2 4-1 5-5 9-2 7-5 3-3 2-5-2-9 0-2 2-2 4-1 1 0 1 1-4 9 0 5 4 13 4 7 4 5zM517 123l-1-2 1-3 4-3 2 2 0 4-2 3-2 0zM566 123l-3-5-1-4 0-5 1-4 2-3 2-2 3-1 4 2 3 5 1 5-1 5-1 4-2 3-4 2zM521 113l-2-4 0-2 2-3 2-1 3-1 4 1 2 1 2 2 1 3-1 2-2 2-4 1-5 0zM538 84l-5-1-1-2-1-2 1-2 2-1 5-1 5 0 4 1 2 1 1 2 0 2-2 2-5 1zM447 123l9 0 7-2 3-3 1-2 0-3-1-2-4-4-8-2-9 0-7 3-3 3-1 2 0 1 1 3 2 3 3 1zM401 120l4-1 2-3 2-5 0-5-2-7-2-4-4-3-3 0-4 1 0 2 0 12 1 6 1 3 4 3zM338 97l18 0 15-1 7-2 6-2 2-2 0-2-1-2-3-3-4-3-5-2-10-2-29-2-12 0-9 1-7 4-3 4 0 1 1 2 5 4 15 4zM-5 72l5-2 3-1 1-2-1-5 2-4 4-2 5 0 16 0 7 0 14-5 5-4 2-3 1-7 3-7 0-11-1-3-3-4-10-10-4-3-5-1-6 0-5 1-4 5-2 8-3 4-3 3-11 6-12 9 0 39zM41 48l-6-4-12-4-2-1-1-2 1-4 3-3 8-6 7-4 5 2 4 3 1 3 0 7 6 5 0 2 0 4-4 2-5 1zM33 16l-3-3-2-2 0-4 1-2 1-1 3-2 4 0 3 1 3 2 1 2 0 2-1 3-1 2-3 3-4 0zM503 72l2 0 2-2 1-5-1-5-2-2-2 0-2 2-2 5 2 5zM607 72l9 1 9 0 7-2 5-2 1-2-2-5 1-2 4-3 0-34-5 3-13 11-5 5-3 7-1 11-1 2-3 1-12 4-2 2 2 1zM447 69l14 0 12-1 7-3 2-2 0-1-3-3-9-3-12-4-9-1-5 0-6 2-3 2-5 5 0 2 1 1 2 2 5 2zM445 65l-3-2 0-1 3-3 7-1 7 0 7 1 5 3 1 1-4 2-9 2-7 0zM188 67l8-2 9-5 8-9 9-12 4-9 3-14-1-9-1-3-2-1-3-1-4 1-16 7-14 4-7 5-4 6-3 5 0 5 4 12 2 13 1 3 2 2 2 1zM188 58l-1-5 0-7 4-11 4-7 6-7 8-6 7-3 2-1 3 1 1 2 1 4 0 7-4 8-5 9-8 10-7 5-4 2-3 1zM118 62l5 0 17-6 4-2 2-1 2-3 1-4 0-9-1-7-2-4-3-3-9-5-7-1-7 2-6 4-4 7-3 10-2 8 1 5 2 3 3 3zM112 55l-2-2 0-4 1-2 2-1 5-1 4 3 1 3-3 4-4 1zM132 46l-2-2-1-4 1-5 4-4 3 0 2 0 3 2 1 4 0 3 0 3-2 2-4 2-3 0zM380 46l12 1 11-1 9-2 3-2 3-3 2-4 0-10 3-11 1-7-1-5-1-4-5-5-5 0 6 5 2 6 0 7-2 5-3 4-6 6-4 7-2 2-3 2-6 1-5 0-5-1-4-2-1-2 0-3 3-11-1-10 1-5 2-6 5-5-8 0-3 3-2 6-1 14-2 7-2 3-8 7-2 4 0 2 1 1 4 2zM542 44l9 1 10-1 9-2 9-5 5-5 3-6 1-3-1-4-3-5-5-5-5-3-7-2-9-2-9 0-7 2-9 2-7 3-3 3-1 4 0 7 1 7 3 5 4 4 5 3zM531 19l-2-1 0-2 1-2 3-2 4 0 3 0 2 2 1 2-1 3-3 2-4 0z"/><path fill="#f4a582" fill-rule="evenodd" d="M70 141l4-1 2-1 1-3 3-11-1-7-2-7-5-7-3-3-6-1-3 2-4 4-3 5-1 5 3 7 8 13 4 3zM67 128l-5-5-2-7 1-5 2-2 2-1 4 1 2 2 3 5 1 4-1 5-2 4-2 1-1 0zM336 131l2 0 0-1 0-1-2-1 0 2zM517 123l2 1 2 0 2-3 0-4-2-2-4 3 0 2-1 1zM567 123l3 2 4-2 2-3 2-6 0-5-2-5-2-3-4-2-3 1-2 2-2 3-1 4 0 5 1 4 2 3zM257 118l3 0 2-1 3-4 0-4-1-3-2-3-2-1-3 0-2 1-2 3-1 3 1 5 1 2zM521 113l2 1 1 0 8-1 3-4-1-3-2-2-2-1-4-1-3 1-2 1-2 3 0 2zM539 85l5-1 5-1 2-2 0-2-1-2-2-1-4-1-5 0-5 1-2 1-1 2 1 2 1 2zM445 65l7 2 9 0 8-2 3-2-1-1-5-3-7-1-7 0-7 1-3 3 0 1zM188 58l4 2 3-1 4-2 7-5 8-10 5-9 4-8 0-7-1-4-1-2-3-1-2 1-7 3-8 6-6 7-4 7-4 11 0 7 0 3zM194 51l-1-3 0-6 2-5 4-7 5-6 5-4 4-1 3 1 2 3-1 5-2 5-4 7-5 6-5 5-4 1-2 0zM113 55l3 1 4-1 3-4-1-3-2-2-4-1-3 1-2 1-2 4 1 2zM42 48l6 1 3-1 4-2 0-4 0-2-6-5 0-7-1-3-4-3-5-2-7 4-8 6-3 3-1 4 1 2 2 1 12 4zM45 46l-2-2 1-2 2-2 3 0 3 2 1 2-2 2-3 1zM132 46l2 1 3 0 4-2 2-2 0-3 0-3-1-4-3-2-2 0-3 0-4 4-1 5 1 4zM135 42l-1-2 0-2 2-3 1 0 3 2 0 3-3 3zM384 37l8 1 6 0 3-2 4-3 4-7 8-8 3-7 0-7-2-6-6-5-5 0 6 3 4 6 1 5-1 5-2 4-3 3-5 3-6 1-5 0-4-1-3-4-4-7 0-6 1-5 3-4 5-3-5 0-5 5-2 7 0 14-3 13 1 3zM532 20l3 1 4 0 3-2 1-3-1-2-2-2-3 0-4 0-3 2-1 2 0 2zM33 16l2 1 4 0 3-3 1-2 1-3 0-2-1-2-3-2-3-1-4 0-3 2-1 1-1 2 0 4 2 2z"/><path fill="#d6604d" fill-rule="evenodd" d="M67 129l3 1 2-1 2-4 1-5-1-4-3-5-2-2-4-1-2 1-2 2-1 5 2 7zM195 52l4-1 5-3 5-6 4-4 3-6 2-6 0-3-2-3-3-1-5 3-6 4-4 6-3 7-2 7 0 3 1 2zM201 39l1-4 2-2 4-3 1 2-1 4-4 4-2 0zM46 46l3 1 2-1 2-2-1-2-3-2-3 0-2 2-1 2zM136 42l1 1 3-3 0-3-3-2-1 0-2 3 0 2zM396 23l5 0 7-2 6-3 3-6 1-5-1-5-3-5-6-4-14 0-5 3-3 6-1 5 2 7 4 6zM397 19l-5-2-3-5-1-5 0-5 3-4 5-3 5-1 6 1 5 3 3 4 1 3 0 6-4 5-4 2-5 2z"/><path fill="#b2182b" fill-rule="evenodd" d="M202 40l4-2 2-3 1-3-1-2-4 3-2 2-1 4zM398 19l5 1 5-2 4-2 4-5 0-6-1-3-3-4-5-3-6-1-5 1-5 3-3 4 0 5 1 5 3 5zM396 16l-4-3-2-4 0-5 2-4 4-3 4-1 5 0 4 2 3 4 2 3 0 4-2 4-3 3-4 1-5 0z"/><path fill="#67001f" fill-rule="evenodd" d="M396 16l4 1 5 0 4-1 3-3 2-4 0-4-2-3-3-4-4-2-5 0-4 1-4 3-2 4 0 5 2 4z"/><use href="#coast"/><path d="M0 70.4 H633.6 M316.8 0 V140.8" stroke="#333" stroke-width="1.6" stroke-dasharray="5 4" fill="none"/><g fill="none" stroke="#a020f0" stroke-width="2"><path d="M379.2 -7l3.5 17.6 2.7 7.5 2.2 3 3.1 2.5 3.5 1.4 3.6 .4 5.2-.8 3.6-1.5 5.2-3.7 3.2-3.6 3.3-5.2 2.2-5.3 1.4-5.3 .8-7M306.2 91.6l8.8 .7 5.3-.7 3.5-1.2 3.6-2.3 1.3-1.9 .4-1.7-.4-1.8-1.2-1.7-2.4-1.8-6.5-2.2-8.8-.2-7.1 1.8-3.5 2.3-1.4 1.8-.4 1.8 .4 1.7 1.3 1.8 2.4 1.8 4.7 1.8M556.2 40.6l5.2 .9 5.3 0 5.3-.8 5.3-1.7 4.1-2 4.2-3.6 1.6-3.5 0-1.7-.8-1.8-2.1-2-3.3-1.5-3.7-.9-8.8 .1-8.8 2.2-6.6 3.9-2.2 2.5-1.2 2.7 .1 1.8 1.1 2.1 1.7 1.6 3.6 1.7"/><path d="M392 -7l.5 3.5 1.7 4 1.8 2.1 3.5 1.4 3.5-1.2 1.8-1.7 1.8-3.1 .8-5"/><path stroke-dasharray="7 4.5" d="M66.3 147.8l-13.5-2.9-8.8-.7-10.6 .8-17 2.8M387 147.8l-4.2-1.7-1.2-1.8 1.2-1.7 4.1-1.8 8.9-1.8 17.8-1 17.6 1 8.8 1.8 4.1 1.8 1.3 1.7-1.3 1.8-4.1 1.7M582.7 147.8l-9.8-3.5-4.7-3.5-1.5-3.5 1.6-3.5 4.9-3.6 5.8-2.3 8.8-2.1 8.8-1.2 10.6-.7 10.6 .2 11.4 .9 11.4 1.6M-7 124.7l14.5 2 27.7 6.5 12.3 1.7 10.6-.7 40.5-6.8 24.6-2.4 31.7-.8 31.7 1.8 14 1.7 12.4 2.4 8.8 2.6 6.4 2.8 3.8 3.5 .5 1.8-.5 1.8-3.2 3-4.2 2.2M351.9 -7l2.1 1.7 2.7 3.5 1.3 3.6 .2 3.5-1.1 3.5-1.6 2.4-3.1 2.9-2.8 1.7-9.5 3.6-12.7 2.5-17.6 1.9-19.4 .6-19.4-.6-19.3-2.1-15.9-3.2-12.9-4.4-4.7-2.5-3.5-2.8-1.4-1.8-1.2-3.5 1.2-3.5 1.4-1.8 3.5-2.7 4.7-2.5M79.2 91.8l-7-1.9-7.1-3-5.3-3.1-5.4-4.6-4-5.3-2-5.3 .3-5.2 1.7-3.6 3.5-3.5 4.2-2.3 5.3-1.7 5.2-.8 10.6 .4 7 1.5 8.8 2.6 4.4 .3 2.7-1.5 4.2-7.3 2.8-3.3 3.5-1.2 1.8 .4 1.8 1.1 2.1 3 1.1 3.5 .3 7.1-5.2 21.1-2.7 5.3-2.7 2.8-3.5 2.3-7 2.5-8.8 .8-10.6-1.1M156.6 72.2l-4.9-1.8-2.4-1.8-1.2-1.7-.4-1.8 .4-1.7 1.5-2 3.5-2.2 7.1-1.8 8.8 .3 6.5 2.1 2.4 1.8 1.2 1.8 .4 1.7-.4 1.8-1.3 1.8-3.6 2.3-3.5 1.2-5.3 .8-8.8-.8M297.4 63.5l-1.7-.2-3.1-1.7 2.4-1.8 4.2-.4 4 .4 2.3 1.8-3.7 1.8-4.4 .1M220 61.8l-1.8-2.2 1.3-1.5 4-1 3.5 0 3.6 .8 1.8 1.9-1.5 1.8-3.9 1-3.5 0-3.5-.8"/><path stroke-dasharray="7 4.5" d="M316.7 -7l8.9 2 7.7 3.2 3.6 3.6 .4 1.7-.4 1.8-1.3 1.7-3 2.2-3.5 1.6-7 2.1-14.1 2.4-17.6 .9-17.6-.9-14.1-2.3-10.5-3.7-3.5-2.3-1.4-1.7-.4-1.8 .4-1.7 1.4-1.8 2.5-1.8 8-3.2 8.9-2M149.6 140.9l-1.6-.1 2.8 0-1.2 .1M77.4 84.7l-5.2-1.9-5.3-2.9-3.1-2.5-2.9-3.5-1.5-3.5-.1-3.5 1.7-3.5 2.4-2.2 3.5-1.7 5.3-1.1 5.2 0 5.3 .8 5.3 1.5 5.7 2.7 5.5 3.5 3.1 3.5 1.1 3.5-.3 3.5-2 3.6-2.5 2.1-3.6 1.7-5.2 1.1-5.3 0-7.1-1.2"/><path stroke-dasharray="7 4.5" d="M82.7 79.4l-7-1.9-4.7-3.6-1.5-3.5 .3-1.8 1.4-1.7 4.5-1.9 5.3 .2 5.3 1.7 4.6 3.5 1.5 3.5-.3 1.8-1.3 1.7-4.1 1.8-4 .2"/></g><g transform="translate(92.4,113.3)"><path d="M-4.2 -2.7 Q-3.2 -9.2 3.4 -9.6 Q2.6 -7.4 1.2 -4.9 A5 5 0 0 1 4.2 2.7 Q3.2 9.2 -3.4 9.6 Q-2.6 7.4 -1.2 4.9 A5 5 0 0 1 -4.2 -2.7Z" fill="#e8000b" stroke="#000" stroke-width="1.2"/><circle r="4.6" fill="#e8000b"/><text y="3.9" text-anchor="middle" style="font-family:'Liberation Sans',sans-serif;font-size:11px;fill:#fff">D</text></g><g transform="translate(166.0,91.9)"><path d="M-4.2 -2.7 Q-3.2 -9.2 3.4 -9.6 Q2.6 -7.4 1.2 -4.9 A5 5 0 0 1 4.2 2.7 Q3.2 9.2 -3.4 9.6 Q-2.6 7.4 -1.2 4.9 A5 5 0 0 1 -4.2 -2.7Z" fill="#e8000b" stroke="#000" stroke-width="1.2"/><circle r="4.6" fill="#e8000b"/><text y="3.9" text-anchor="middle" style="font-family:'Liberation Sans',sans-serif;font-size:11px;fill:#fff">U</text></g><g transform="translate(276.8,100.0)"><path d="M-4.2 -2.7 Q-3.2 -9.2 3.4 -9.6 Q2.6 -7.4 1.2 -4.9 A5 5 0 0 1 4.2 2.7 Q3.2 9.2 -3.4 9.6 Q-2.6 7.4 -1.2 4.9 A5 5 0 0 1 -4.2 -2.7Z" fill="#e8000b" stroke="#000" stroke-width="1.2"/><circle r="4.6" fill="#e8000b"/><text y="3.9" text-anchor="middle" style="font-family:'Liberation Sans',sans-serif;font-size:11px;fill:#fff">T</text></g><g transform="translate(301.0,98.9)"><path d="M-4.2 -2.7 Q-3.2 -9.2 3.4 -9.6 Q2.6 -7.4 1.2 -4.9 A5 5 0 0 1 4.2 2.7 Q3.2 9.2 -3.4 9.6 Q-2.6 7.4 -1.2 4.9 A5 5 0 0 1 -4.2 -2.7Z" fill="#e8000b" stroke="#000" stroke-width="1.2"/><circle r="4.6" fill="#e8000b"/><text y="3.9" text-anchor="middle" style="font-family:'Liberation Sans',sans-serif;font-size:11px;fill:#fff">W</text></g></g><rect width="633.6" height="140.8" fill="none" stroke="#000" stroke-width="2.7"/></g><g stroke="#000" stroke-linecap="butt"><line x1="102.2" y1="254" x2="102.2" y2="247.5" stroke-width="2.6"/><line x1="102.2" y1="394.8" x2="102.2" y2="401.3" stroke-width="2.6"/><line x1="119.8" y1="254" x2="119.8" y2="250.8" stroke-width="2.0"/><line x1="119.8" y1="394.8" x2="119.8" y2="398" stroke-width="2.0"/><line x1="137.4" y1="254" x2="137.4" y2="250.8" stroke-width="2.0"/><line x1="137.4" y1="394.8" x2="137.4" y2="398" stroke-width="2.0"/><line x1="155" y1="254" x2="155" y2="250.8" stroke-width="2.0"/><line x1="155" y1="394.8" x2="155" y2="398" stroke-width="2.0"/><line x1="172.6" y1="254" x2="172.6" y2="250.8" stroke-width="2.0"/><line x1="172.6" y1="394.8" x2="172.6" y2="398" stroke-width="2.0"/><line x1="190.2" y1="254" x2="190.2" y2="250.8" stroke-width="2.0"/><line x1="190.2" y1="394.8" x2="190.2" y2="398" stroke-width="2.0"/><line x1="207.8" y1="254" x2="207.8" y2="247.5" stroke-width="2.6"/><line x1="207.8" y1="394.8" x2="207.8" y2="401.3" stroke-width="2.6"/><line x1="225.4" y1="254" x2="225.4" y2="250.8" stroke-width="2.0"/><line x1="225.4" y1="394.8" x2="225.4" y2="398" stroke-width="2.0"/><line x1="243" y1="254" x2="243" y2="250.8" stroke-width="2.0"/><line x1="243" y1="394.8" x2="243" y2="398" stroke-width="2.0"/><line x1="260.6" y1="254" x2="260.6" y2="250.8" stroke-width="2.0"/><line x1="260.6" y1="394.8" x2="260.6" y2="398" stroke-width="2.0"/><line x1="278.2" y1="254" x2="278.2" y2="250.8" stroke-width="2.0"/><line x1="278.2" y1="394.8" x2="278.2" y2="398" stroke-width="2.0"/><line x1="295.8" y1="254" x2="295.8" y2="250.8" stroke-width="2.0"/><line x1="295.8" y1="394.8" x2="295.8" y2="398" stroke-width="2.0"/><line x1="313.4" y1="254" x2="313.4" y2="247.5" stroke-width="2.6"/><line x1="313.4" y1="394.8" x2="313.4" y2="401.3" stroke-width="2.6"/><line x1="331" y1="254" x2="331" y2="250.8" stroke-width="2.0"/><line x1="331" y1="394.8" x2="331" y2="398" stroke-width="2.0"/><line x1="348.6" y1="254" x2="348.6" y2="250.8" stroke-width="2.0"/><line x1="348.6" y1="394.8" x2="348.6" y2="398" stroke-width="2.0"/><line x1="366.2" y1="254" x2="366.2" y2="250.8" stroke-width="2.0"/><line x1="366.2" y1="394.8" x2="366.2" y2="398" stroke-width="2.0"/><line x1="383.8" y1="254" x2="383.8" y2="250.8" stroke-width="2.0"/><line x1="383.8" y1="394.8" x2="383.8" y2="398" stroke-width="2.0"/><line x1="401.4" y1="254" x2="401.4" y2="250.8" stroke-width="2.0"/><line x1="401.4" y1="394.8" x2="401.4" y2="398" stroke-width="2.0"/><line x1="419" y1="254" x2="419" y2="247.5" stroke-width="2.6"/><line x1="419" y1="394.8" x2="419" y2="401.3" stroke-width="2.6"/><line x1="436.6" y1="254" x2="436.6" y2="250.8" stroke-width="2.0"/><line x1="436.6" y1="394.8" x2="436.6" y2="398" stroke-width="2.0"/><line x1="454.2" y1="254" x2="454.2" y2="250.8" stroke-width="2.0"/><line x1="454.2" y1="394.8" x2="454.2" y2="398" stroke-width="2.0"/><line x1="471.8" y1="254" x2="471.8" y2="250.8" stroke-width="2.0"/><line x1="471.8" y1="394.8" x2="471.8" y2="398" stroke-width="2.0"/><line x1="489.4" y1="254" x2="489.4" y2="250.8" stroke-width="2.0"/><line x1="489.4" y1="394.8" x2="489.4" y2="398" stroke-width="2.0"/><line x1="507" y1="254" x2="507" y2="250.8" stroke-width="2.0"/><line x1="507" y1="394.8" x2="507" y2="398" stroke-width="2.0"/><line x1="524.6" y1="254" x2="524.6" y2="247.5" stroke-width="2.6"/><line x1="524.6" y1="394.8" x2="524.6" y2="401.3" stroke-width="2.6"/><line x1="542.2" y1="254" x2="542.2" y2="250.8" stroke-width="2.0"/><line x1="542.2" y1="394.8" x2="542.2" y2="398" stroke-width="2.0"/><line x1="559.8" y1="254" x2="559.8" y2="250.8" stroke-width="2.0"/><line x1="559.8" y1="394.8" x2="559.8" y2="398" stroke-width="2.0"/><line x1="577.4" y1="254" x2="577.4" y2="250.8" stroke-width="2.0"/><line x1="577.4" y1="394.8" x2="577.4" y2="398" stroke-width="2.0"/><line x1="595" y1="254" x2="595" y2="250.8" stroke-width="2.0"/><line x1="595" y1="394.8" x2="595" y2="398" stroke-width="2.0"/><line x1="612.6" y1="254" x2="612.6" y2="250.8" stroke-width="2.0"/><line x1="612.6" y1="394.8" x2="612.6" y2="398" stroke-width="2.0"/><line x1="630.2" y1="254" x2="630.2" y2="247.5" stroke-width="2.6"/><line x1="630.2" y1="394.8" x2="630.2" y2="401.3" stroke-width="2.6"/><line x1="647.8" y1="254" x2="647.8" y2="250.8" stroke-width="2.0"/><line x1="647.8" y1="394.8" x2="647.8" y2="398" stroke-width="2.0"/><line x1="665.4" y1="254" x2="665.4" y2="250.8" stroke-width="2.0"/><line x1="665.4" y1="394.8" x2="665.4" y2="398" stroke-width="2.0"/><line x1="683" y1="254" x2="683" y2="250.8" stroke-width="2.0"/><line x1="683" y1="394.8" x2="683" y2="398" stroke-width="2.0"/><line x1="700.6" y1="254" x2="700.6" y2="250.8" stroke-width="2.0"/><line x1="700.6" y1="394.8" x2="700.6" y2="398" stroke-width="2.0"/><line x1="718.2" y1="254" x2="718.2" y2="250.8" stroke-width="2.0"/><line x1="718.2" y1="394.8" x2="718.2" y2="398" stroke-width="2.0"/><line x1="735.8" y1="254" x2="735.8" y2="247.5" stroke-width="2.6"/><line x1="735.8" y1="394.8" x2="735.8" y2="401.3" stroke-width="2.6"/><line x1="102.2" y1="254" x2="99" y2="254" stroke-width="2.0"/><line x1="735.8" y1="254" x2="739" y2="254" stroke-width="2.0"/><line x1="102.2" y1="271.6" x2="96.2" y2="271.6" stroke-width="2.6"/><line x1="735.8" y1="271.6" x2="741.8" y2="271.6" stroke-width="2.6"/><line x1="102.2" y1="289.2" x2="99" y2="289.2" stroke-width="2.0"/><line x1="735.8" y1="289.2" x2="739" y2="289.2" stroke-width="2.0"/><line x1="102.2" y1="306.8" x2="99" y2="306.8" stroke-width="2.0"/><line x1="735.8" y1="306.8" x2="739" y2="306.8" stroke-width="2.0"/><line x1="102.2" y1="324.4" x2="96.2" y2="324.4" stroke-width="2.6"/><line x1="735.8" y1="324.4" x2="741.8" y2="324.4" stroke-width="2.6"/><line x1="102.2" y1="342" x2="99" y2="342" stroke-width="2.0"/><line x1="735.8" y1="342" x2="739" y2="342" stroke-width="2.0"/><line x1="102.2" y1="359.6" x2="99" y2="359.6" stroke-width="2.0"/><line x1="735.8" y1="359.6" x2="739" y2="359.6" stroke-width="2.0"/><line x1="102.2" y1="377.2" x2="96.2" y2="377.2" stroke-width="2.6"/><line x1="735.8" y1="377.2" x2="741.8" y2="377.2" stroke-width="2.6"/><line x1="102.2" y1="394.8" x2="99" y2="394.8" stroke-width="2.0"/><line x1="735.8" y1="394.8" x2="739" y2="394.8" stroke-width="2.0"/></g><text x="100.9" y="245.8" style="font-family:'Liberation Sans',Arial,Helvetica,sans-serif;font-size:35.2px">9-Feb to 13-Feb</text><g transform="translate(102.2,468.8)"><g clip-path="url(#pc)"><rect width="633.6" height="140.8" fill="#f7f7f7"/><path fill="#053061" fill-rule="evenodd" d="M-5 148l646 0 0-16-14-3-7-1-22 2-5-1-23-7-12-1-7 1-7 2-5 3-11 8-7 3-11 0-37-3-31 1-6-1-5-3-10-10-7-4-13-2-24 0-13 1-7 3-5 3-7 11-4 3-3 2-7 1-21 2-11 0-26-4-44-1-46 1-33 3-11 0-55-7-19-1-49-1-9 0-14-3 0 19zM132 77l5 1 4-2 2-2-1-2-5-2-3 0-4 1-2 1 0 2 1 2zM158 41l2-1 2-3-2-4-2 0-2 0-1 4 2 3zM232 21l14 1 14-1 11-2 16-6 7-1 47-1 25-2 18-3 5-2 1-2 0-2-5-4-14-3-74 0-18 2-45 6-12 4-6 4-1 3 2 4 7 3zM500 7l7 0 7 0 5-2 2-1 0-2-1-2-3-2-8-1-10 1-5 2-2 2-1 2 2 1z"/><path fill="#2166ac" fill-rule="evenodd" d="M134 141l12 0 34-3 44-1 49 1 30 4 28-2 7-1 5-3 4-4 5-9 5-3 7-3 14-1 23 0 13 2 7 4 10 10 5 3 6 1 31-1 37 3 11 0 7-3 11-8 5-3 7-2 7-1 12 1 23 7 5 1 22-2 7 1 14 3 0-2-14-3-7-1-22 1-5 0-21-6-7-2-7 0-9 1-7 2-5 3-11 8-7 3-9 0-35-3-33 1-6-1-3-2-10-10-6-3-10-3-16 0-21 0-11 2-5 2-3 2-7 11-6 4-5 2-27 3-7-1-16-3-8-1-44-1-50 1-31 4-11 0-9-1-23-4-19-2-21-2-53 0-9-1-12-3 0 2 18 3 68 2 25 2zM130 80l7 0 6-1 3-3 0-4-2-2-5-2-5 0-6 1-2 1-2 2 0 2 0 2 2 1zM132 77l-3-1-1-2 0-2 2-1 4-1 3 0 5 2 1 2-2 2-4 2zM158 42l4-2 1-3-1-4-2-2-2 0-1 0-2 2-1 4 1 4 2 1zM157 40l-2-1 0-2 1-4 2 0 2 0 2 4-2 3zM88 27l4 0 3-2 0-4-2-1-3-2-2 1-2 1-1 3 1 2zM236 23l14 0 12-1 11-2 16-6 7-1 51 0 28-3 17-3 6-2 2-1 1-2-1-2-3-2-8-3-6-2-12 0 14 3 5 4 0 2-1 2-7 3-19 3-22 1-42 0-9 1-5 1-17 7-16 2-13 0-12-2-9-3-2-3-1-2 1-3 2-2 6-3 8-2 44-7 21-2-18 0-34 5-16 3-13 4-3 3-2 3 0 3 2 2 3 2 9 3zM451 9l8 1 13-3 5 0 21 2 12 0 11-2 4-2 1-1 1-2-1-2-2-2-5-2-7-1-9 0-13 3-15 6-17 0-8 1-2 2 1 2zM499 7l-6-2-2-1 1-2 2-2 5-2 10-1 8 1 3 2 1 2 0 2-2 1-5 2-7 0z"/><path fill="#4393c3" fill-rule="evenodd" d="M130 139l14 1 36-4 52-1 43 1 8 1 16 3 11 0 26-3 4-1 3-3 7-11 6-4 8-2 14-1 25 0 12 2 7 4 11 10 3 2 6 1 33-1 35 3 9 0 7-3 11-8 5-3 7-2 9-1 12 1 18 6 7 1 25-1 7 1 14 3 0-2-20-4-23 1-5 0-21-6-14-2-9 1-7 2-6 3-12 8-7 2-7 0-35-2-31 1-6-1-3-2-10-9-8-4-10-2-16-1-21 1-13 2-3 1-5 3-8 11-5 4-5 1-27 3-7 0-14-4-7-1-45-1-53 1-28 4-11 0-10-1-20-4-17-2-22-2-58 0-7-1-12-3 0 2 18 3 72 2 24 3zM130 81l7 1 7-2 4-3 2-1 0-4-4-4-7-2-7 0-7 2-3 2-1 2 0 4 3 3zM129 79l-3-2-2-1 0-2 0-2 2-2 2-1 6-1 5 0 5 2 2 2 0 4-1 1-3 2-6 1zM155 43l2 1 3-1 2-1 2-3 0-6-2-3-2-1-3 0-2 1-2 3-1 6zM158 42l-3-1-1-4 1-4 2-2 1 0 2 0 2 2 1 4-1 3-2 2zM107 33l4 2 3 0 3-2 1-1 0-2-4-3-3-1-4 1-1 1-1 2zM86 29l6 1 5-2 4-3 0-2 0-2-4-3-4-2-3 0-4 1-3 2-1 4 2 3zM88 26l-2-1-1-2 1-3 2-1 2-1 3 2 2 1 0 4-3 2zM241 25l12 0 13-2 30-8 72-2 19-2 30-5 4 0 5 2 18 6 7 2 8 0 23-4 25 0 10-1 11-4 2-2 2-3-2-4-4-2-7-2-7-1-14 1-25 5-26 1-23 2-7-1-22-8-12 0 8 2 6 3 3 2 1 2-1 2-3 1-10 3-21 3-21 2-44 0-9 1-23 7-17 2-14 0-13-2-9-3-3-2-2-2 0-3 2-3 3-3 8-3 14-3 41-6-19 0-26 4-14 4-10 4-2 3-2 3 0 3 1 2 8 4 12 3zM449 9l-1-2 2-2 8-1 17 0 15-6 13-3 9 0 7 1 5 2 2 2 1 2-1 2-1 1-4 2-11 2-12 0-21-2-5 0-13 3-5 0zM602 12l9 1 14-3 10 0 5-1 0-2-3-2-10-1-11-3-7 0-11 1-4 2-2 1-1 2 2 2 4 2zM-5 10l9 0 2-1 0-2-2-2-11-1 0 6z"/><path fill="#92c5de" fill-rule="evenodd" d="M301 139l9 0 23-3 3-1 5-4 7-10 4-3 9-3 14-2 26 0 14 2 6 2 3 2 11 10 3 2 6 1 31-1 35 2 7 0 7-2 12-8 6-3 7-2 9-1 14 2 16 5 7 1 26-1 20 4 0-2-20-4-28 0-21-6-14-1-9 1-7 1-7 3-12 8-7 2-37-1-35 0-8-2-10-9-7-3-12-3-16-1-23 1-12 2-8 4-4 3-5 7-4 4-31 5-5 0-14-4-7-1-47-1-57 1-26 4-9 1-8-1-18-5-16-2-23-2-63-1-7-1-11-2 0 2 16 3 28 1 33 0 18 1 21 3 20 4 10 1 11 0 28-4 53-1 45 1 7 1zM130 83l9 0 9-2 3-3 2-2 1-2-1-4-5-4-9-3-9 0-5 1-4 2-3 3-1 1-1 4 1 2 4 4zM129 81l-5-2-2-2-2-3 2-4 5-3 7-1 7 0 6 3 3 3 0 4-2 1-4 3-7 2zM155 45l3 1 4-2 3-4 1-3 0-4-2-3-2-3-4-1-3 1-2 1-3 5 0 4 1 3zM155 42l-3-3 1-6 2-3 2-1 3 0 2 1 2 3 0 4-1 3-1 2-4 2zM109 37l5 0 4-1 3-2 2-2 0-11-2-3-3-2-11-4-15-1-9 2-6 5-1 3 0 2 10 9 4 2 10 1zM107 33l-2-3 1-2 1-1 4-1 3 1 4 3 0 2-1 1-3 2-3 0zM86 28l-2-2-2-3 1-4 3-2 4-1 3 0 4 2 4 3 0 2 0 2-2 1-4 3-5 1zM224 25l15 1 18 0 16-2 18-5 10-1 60-2 47-4 13 1 24 7 13 0 28-4 26-2 11-2 7-2 5-3 2-2 1-3 0-2-3-3-7-4-18 0 9 1 8 2 4 4 1 2 0 2-2 1-4 3-10 3-11 1-23 0-23 4-8 0-7-2-18-6-5-2-4 0-30 5-19 2-72 2-7 2-20 6-10 1-11 1-17-1-15-3-5-2-4-3-1-2 0-3 2-3 2-3 10-4 14-4 26-4-21 0-14 3-17 5-7 4-4 4-1 3 1 2 3 4 9 4zM600 18l12 0 29-4 0-14-25-5-14 0-9 1-7 2-3 2-5 4 0 1 0 4 4 3 8 4zM601 12l-6-1-3-2-1-2 1-2 2-1 4-2 11-1 7 0 11 3 10 1 3 2 0 2-5 1-10 0-16 3zM-5 16l10-1 6-2 3-2 1-2 0-4-3-3-3-1-16-4 0 7 11 1 2 2 0 2-2 1-11 0 0 6zM424 2l23-2 26-1 23-5 10-1-20 0-16 2-35 0-13 0-11-2-16 0 22 8z"/><path fill="#d1e5f0" fill-rule="evenodd" d="M301 137l7 0 26-5 5-4 7-8 4-4 9-3 16-1 25 0 15 2 6 1 5 3 10 9 4 1 5 1 34 0 37 1 7-2 12-8 5-2 9-2 7-1 12 1 22 5 5 1 26 0 20 4 0-2-20-5-26 0-7-1-18-5-14-1-10 1-7 2-7 3-11 5-7 2-69 1-7-2-11-8-10-4-16-2-21-1-16 1-12 3-7 3-9 10-3 2-14 3-13 4-7-1-14-4-10-1-101 1-10 1-13 3-8 1-9-1-20-6-14-2-24-1-32 0-21-1-12 0-7-1-11-3 0 3 16 3 63 1 18 1 21 2 20 6 8 1 9-1 26-4 55-1 49 1 7 1zM509 112l5 0 3-2 4-4 0-4 0-3-3-4-4-3-4-1-3 1-3 1-1 2-2 4 1 5 1 3 2 3zM130 85l11 0 9-3 7-5 3-3 2-4 0-3-2-4-21-15-1-2 0-2 1-2 2-2 3-1 2 1 4 6 3 2 4 1 3-1 4-2 3-4 4-12 3-1 11-1 12-1 41 2 17 0 16-2 46-5 84-4 16 1 25 6 16 1 70-11 9-3 7-3 6-4 1-1 0-2-3-4-8-5-13 0 8 3 2 2 1 4-1 3-7 5-14 3-30 3-28 4-13 0-24-7-13-1-47 4-60 2-9 1-24 6-20 1-19 0-18-4-11-4-2-2-2-4 0-1 3-4 3-3 6-3 12-4 19-4-46 0-19 3-14 2-63 4-9 2-7 2-9 5-3 3-2 4 0 5 2 3 1 1 6 1 3 0 4 4 3 7 10 5 4 4 0 3-7 11 0 3 1 4 4 3 11 4 11 6zM129 83l-8-3-4-4-1-2 1-4 1-1 3-3 4-2 5-1 9 0 9 3 5 4 1 4-1 2-2 2-3 3-9 2zM154 44l-2-2-1-3-1-4 1-3 2-4 2-1 3-1 2 0 4 3 1 3 1 3-1 5-3 4-2 1-3 1zM108 37l-8-2-10-1-4-2-10-9 0-2 1-3 4-4 3-1 9-2 16 2 5 1 6 3 2 2 1 2 0 9-1 3-4 3-4 1zM600 23l16-1 23-3 2-1 0-4-32 4-9 0-7-1-8-3-6-3-1-2 0-4 2-3 4-3 7-2 14-2 13 1 23 4 0-6-3-1-62 0-11 5-4 4-2 2 0 1 1 2 2 4 8 5 13 5zM-5 21l14-3 8-4 2-2 2-3 1-4-2-3-4-5-9-3-2-1-12 0 0 4 12 2 6 2 3 3 1 3-1 4-5 3-5 1-11 1 0 5zM422 -5l11 0 35 0 18-2-75 0z"/><path fill="#fddbc7" fill-rule="evenodd" d="M141 128l3 0 11-3 9-1 35 1 47 0 23-1 21-5 11-1 26 0 6-1 8-5 9-4 18-3 17-3 11 1 21 5 9 3 12 7 6 2 8 1 16-1 12-3 6-2 2-2 3-6 0-5 0-3-2-3-3-2-23-5-5-1-3-2-1-2 1-1 2-2 6-3 9-2 8-1 9 2 23 8 7 4 13 7 8 3 25 6 28 8 28 1 14 6 6 1 0-3-6-2-10-7-4-2-21-2-5-1-16-7-32-2-10-3-9-3-19-10-10-7-5-5-3-9-4-3-19-9-5-3-2-3 0-1 2-2 3-1 9-1 11 1 17 2 25 5 12 4 22 8 8 2 9 0 48-1 7-1 4-4 3-7 0-19-18 8-9 3-9 1-22 2-18 4-5 1-13-2-47-8-25-2-10 0-9 1-9 2-7 3-5 0-35-3-64-4-100 3-25 3-12 2-10 3-4 4-1 2 1 3 6 5 13 6 14 4 29 6 5 2 3 2-2 1-5 1-68 7-43 3-44-3-9-1-6-3-1-2-1-2 1-7 0-5-4-10-1-7-1-4-1-4-12-14-7-14-5-4-4-1-5 1-18 12-26 12 0 24 7-1 3-2 2-3 3-10 4-5 3-3 11-9 4-3 5-1 5 1 4 2 14 15 3 7-1 7-7 19 0 4 1 3 3 4 5 3 7 4 8 3 7 1 9 1 21 0 20-1 24 2 43-3 40-1 16 2 9 1 5 1 4 2 2 3 2 5 0 5-1 4-3 3-6 3-51 3-28-1-32-4-26 1-44-3-39 2-8-1-16-2-13 4-3 0-7-2-9-6 0 6 9 4 5 1 5 0 13-2 23 2 29-1 18 0 26 3 7 1zM441 114l-14-7-6-3-2-4-1-7-2-1-6-2-18-1-40-1-19-2-7 2-7 5-6 2-7 0-5 0-5-3-3-2-1-4 0-9-1-1-11-11-9-2-33-4-9-2-12-4-2-2-1-2 0-1 5-4 6-3 11-3 90 0 19 2 35 8 46 5 21 4 9 3 5 3 4 4 0 2-4 3-16 9-4 3 0 2 1 2 4 2 25 7 5 3 1 4-1 3-2 2-4 3-5 2-13 2-5 0zM64 77l-2-1-2-4-1-3 0-4 2-3 2-2 2-1 4 0 3 3 2 3 1 4-1 3-1 4-3 2-3 1zM74 39l3 0 3-2 1-4-2-2-3-1-3 2-1 3 0 2zM75 35l0-2 1-1 1 0 2 1 0 2-2 1z"/><path fill="#f4a582" fill-rule="evenodd" d="M197 122l39-1 21-2 9 1 3-1 6-3 3-3 1-4 0-5-2-5-2-3-4-2-5-1-9-1-16-2-39 1-45 3-23-2-20 1-21 0-10-1-9-2-8-4-7-3-5-6-1-5 7-21 1-5 0-4-5-7-10-11-4-3-3-1-7 0-4 1-5 4-8 7-5 5-2 5-3 8-2 3-3 2-7 1 0 7 17 2 7 2-1 2-4 1-19 5 0 35 6 4 5 3 7 1 14-4 16 2 8 1 39-2 44 3 26-1 27 4zM191 116l-8-2-9-3-5-4 0-1 1-2 3-2 12-3 31-3 25 3 14 4 9-4 4-1 3 2 2 2 1 4 0 3-2 4-2 1-2 2-6-1-7-4-13 3-24 4zM4 113l-2-2-3-4-2-5 1-3 1-4 3-2 3-1 6 0 3 2 3 3 2 3 0 4-3 5-4 4-3 1zM126 113l-4-2-5-4-2-1 0-2 4-4 6-3 7-1 7 0 7 3 3 3 1 2 0 2-3 3-6 4-7 1zM42 109l-7-3-2-2-2-4 2-3 1-2 6-3 8-1 7 2 11 6 3 3 0 2-1 2-8 3-9 1zM32 56l-2-2-3-5 0-3 2-7-2-9 1-4 2-1 3-2 4 0 3 2 2 1 2 6 2 1 5 3 3 3 2 3 0 4-2 5-5 3-3 2-9 1zM637 117l4 1 0-5-4-1-3-3-3-5 0-4 1-3 2-2 3-3 4 0 0-20-27 5-28 2-5 2-10 7-6 2-11 1-10-1-7-1-9-4-15-8-5-3-4-5-2-4-2-5-2-4-5-3-19-9-2-2 0-2 3-1 9-1 12 1 14 3 22 5 28 11 12 3 7 1 30 0 32 3 0-21-2 6-2 3-3 2-4 1-9 1-45 0-8-1-6-1-22-8-12-4-28-5-14-2-13-1-8 2-4 2 0 1 4 4 19 9 6 3 1 2 3 9 7 7 8 5 19 10 9 3 10 3 32 2 16 7 5 1 20 1 5 3 7 5zM442 115l10 1 13-2 5-2 4-3 2-2 1-3-1-4-5-3-25-7-4-2-1-2 0-2 4-3 16-9 4-3 0-2-4-4-5-3-9-3-21-4-46-5-35-8-19-2-90 0-11 3-6 3-5 4 0 1 1 2 2 2 12 4 9 2 33 4 9 2 11 11 1 1 0 9 1 4 3 2 5 3 5 0 7 0 6-2 7-5 7-2 19 2 40 1 18 1 5 1 2 2 3 9 4 4zM443 107l-4-1-1-2-1-2 1-2 4-2 5-1 7 1 5 2 2 2 0 2-1 2-4 2-7 1zM372 83l-24-3-25-6-6-2-9-6-2 0-7 4-5 1-4-2-2-2-1-4-1-5-1-1-3-1-20-1-26-2-5-2-2-2-1-1 1-2 3-3 6-1 10 0 23 0 28 2 28 1 12 3 17 5 8 2 43 3 21 2 12 4 5 3 2 2 0 1-1 2-5 4-8 4-7 2-9 1-12 0zM65 78l4 0 3-2 2-2 1-4 0-3-1-4-4-3-3-1-4 1-2 2-2 3 0 2 0 3 1 4 3 3zM65 74l-2-4 0-3 1-2 1-2 2-1 3 1 3 4-1 5-2 2-1 1zM76 36l1 0 2-1 0-2-2-1-1 0-1 1z"/><path fill="#d6604d" fill-rule="evenodd" d="M192 116l26 2 24-4 13-3 7 4 6 1 2-2 2-1 2-4 0-3-1-4-2-2-3-2-4 1-9 4-14-4-25-3-31 3-12 3-3 2-1 2 0 1 2 2 7 4 5 2zM214 114l-5-1-9-6 8-5 5-2 5 0 6 2 2 4 0 3-1 2-5 3zM265 111l-2-2 0-3 1-2 4-1 2 3 0 3-2 2zM5 113l4 1 3-1 4-4 3-5 0-4-2-3-4-4-4-1-4 0-3 1-3 2-1 4-1 3 2 5 3 4zM127 113l9 1 7-2 6-5 1-3-1-2-3-3-7-3-7 0-7 1-8 5-2 2 0 2 4 3zM131 111l-5-2-2-3 1-4 1-2 4-1 6-1 3 1 4 3 0 4-2 3-5 2zM639 113l2 0 0-21-4 0-3 3-2 2-1 3 0 4 2 3 2 4zM44 109l9 1 9-2 6-2 1-2 0-2-3-3-11-6-7-2-8 1-6 3-1 2-2 3 2 4 2 2 4 2zM444 108l7 1 6-2 3-1 1-2 0-2-2-2-7-2-7-1-5 1-2 2-1 2 1 2 1 2zM542 90l11 1 10 0 8-3 10-7 5-2 28-2 26-5 1-7-32-3-30 0-7-1-12-3-28-11-22-5-14-3-12-1-9 1-3 1 0 2 2 2 19 9 5 3 2 4 2 5 2 4 2 3 6 5 16 8zM541 86l-13-4-12-6-4-4-2-3-2-4-1-5-3-4-5-3-15-7-2-2-1-2 5-1 7 0 10 1 14 3 18 6 26 11 15 4 7 1 21-1 6 1 4 2-1 1-8 2-19 0-5 1-5 3-9 7-7 3-9 1zM373 83l32 0 12 0 9-1 7-2 8-4 5-4 1-2 0-1-2-2-5-3-12-4-21-2-43-3-8-2-17-5-12-3-28-1-28-2-23 0-10 0-6 1-3 3-1 2 1 1 2 2 5 2 26 2 20 1 3 1 1 1 1 5 1 4 2 2 4 2 5-1 7-4 2 0 9 6 6 2 25 6zM383 79l-17-2-12-2-10-5-2-1 0-2 1-2 2-1 7-1 25-1 19 0 16 1 10 2 6 2 2 2 1 1-1 2-1 2-10 3-16 2zM293 67l-2-2 0-2 1-1 4-1 1 1 1 1 0 2-1 1-1 1zM259 49l-1-1 4-2 6 0 6 2-1 1-4 1zM-5 75l17-5 4-1 1-2-7-2-17-2 0 12zM65 74l2 1 3-1 2-1 1-3-1-5-2-2-1-1-4 1-2 4 0 3zM67 72l-2-2 0-3 2-2 2 0 2 2 0 3-2 3zM33 57l11-1 5-2 5-3 2-5-1-6-2-3-7-4-2-1-1-4-3-3-1-1-4-1-5 2-2 1-1 4 2 9-2 7 0 3 3 5zM42 49l-2-3 0-4 1-2 1-1 4-1 3 0 2 1 2 3 0 2 0 2-2 3-2 1-3 1zM33 32l-1-2 0-2 1-2 2 0 2 0 2 2 0 2-2 2-2 0z"/><path fill="#b2182b" fill-rule="evenodd" d="M215 115l3-1 4-1 4-4 0-3-1-2-3-3-4-1-5 0-5 2-8 5 9 6zM213 111l-2-2 0-2 0-1 2-2 3-1 4 1 1 3-1 3-4 2zM132 111l5 0 4-2 2-2 0-3-2-4-4-1-5-1-4 1-3 3-1 2 1 3 3 3zM129 107l-1-1 0-2 2-3 6 0 2 1 1 2 0 2-1 1-2 2-4 0zM266 111l2 0 1-1 1-3-1-3-1-1-4 1-1 2 0 3zM542 86l9 1 9-1 7-3 9-7 5-3 5-1 19 0 8-2 1-1-4-2-6-1-21 1-7-1-15-4-26-11-18-6-14-3-10-1-7 0-5 1 1 2 2 2 15 7 5 3 3 4 1 5 2 4 2 3 4 4 13 7zM540 83l-11-4-9-5-5-5-2-11-5-3-14-7-2-2 0-2 6 0 7 1 19 4 37 16 6 4 2 1 0 2-2 4-4 3-5 3-9 2zM384 79l19 0 16-2 10-3 1-2 1-2-1-1-2-2-6-2-10-2-16-1-19 0-25 1-7 1-2 1-1 2 0 2 2 1 10 5 12 2zM382 76l-8-2-3-2 0-2 2-1 5-2 16 0 13 2 4 1 0 2-3 2-8 2-9 0zM67 72l2 1 2-3 0-3-2-2-2 0-2 2 0 3zM294 67l3 0 1-2 0-2-2-2-4 1-1 1 0 2 1 2zM42 49l2 1 4 1 3-2 2-3 0-2 0-2-2-3-2-1-3 0-4 1-1 1-1 2 0 4zM44 46l-1-2 1-2 2-1 2 0 2 1 0 2-1 2-1 1-2 0zM260 50l11 0 2-1 1-1-8-2-8 2 1 1zM33 32l4 0 2-2 0-2-2-2-4 0-1 2 0 2z"/><path fill="#67001f" fill-rule="evenodd" d="M215 111l3 0 3-2 0-3-1-2-4-1-1 0-2 1-2 2 0 1 0 2zM130 108l4 1 3-1 2-2 0-2-1-2-2-1-6 0-2 3 0 2zM540 83l11 0 9-2 7-5 2-4 0-2-2-1-6-4-37-16-19-4-7-1-6 0 0 2 2 2 14 7 5 3 2 11 5 5 9 5zM382 76l9 0 9 0 8-2 3-2 0-2-4-1-13-2-16 0-5 2-2 1 0 2 3 2zM44 46l2 1 2 0 1-1 1-2 0-2-2-1-2 0-2 1-1 2z"/><use href="#coast"/><path d="M0 70.4 H633.6 M316.8 0 V140.8" stroke="#333" stroke-width="1.6" stroke-dasharray="5 4" fill="none"/><g fill="none" stroke="#a020f0" stroke-width="2"><path d="M374 -7l2 19.3 2.4 8.2 1.8 2.7 3.5 3.2 3.5 1.7 5.3 1 5.3-.6 5-2.1 3.8-2.7 3.8-4.3 3-5.3 2.4-7.1 1.2-7 .2-7M308 91.8l7 .5 7.1-1.6 3.5-2.3 1.6-2.2 .3-1.7-.3-1.8-1.1-1.7-2.2-1.8-5.3-2.1-7.1-.4-7 1.6-3.5 2.2-1.6 2.2-.4 1.8 .4 1.7 1.1 1.8 2.1 1.8 5.4 2M556.2 37l3.5-.4 3.5-1.3 4.8-3.6 3.1-5.3 .9-5.3-.4-3.5-1.2-3.5-3.7-4.8-5.3-3.1-5.2-.9-5.3 .9-5.3 3.1-3.6 4.8-1.3 3.5-.4 3.5 .9 5.3 3.2 5.3 4.7 3.6 3.5 1.3 3.6 .4"/><path d="M386.7 -7l.5 5.2 1.8 4.9 1.7 2.4 1.8 1.1 1.7 .4 3.6-1.3 1.9-2.2 2-5.3 .2-5.2"/><path stroke-dasharray="7 4.5" d="M54.6 147.8l-8.8-1.1-9 1.1M374.2 147.8l1.1-1.7 3.9-1.8 8-1.9 15.8-1.8 19.4-.7 19.4 .7 17.1 2 7.5 1.7 4 1.8 1.2 1.7M547.4 147.8l-2.3-1.7-1.4-1.8-.5-1.7 .2-1.8 2.3-3.5 4.6-3.5 5.9-2.9 14-4.2 17.6-2.3 17.6-.4 17.6 1.4 17.6 3.1M-7 125.9l20.9 4.3 26.6 8.3 8.8 1.2 8.8-1.1 33.8-6.6 26-3 33.5-1.3 17.6 .5 15.8 1.1 22.9 3.2 8.8 2 8.2 2.8 4.1 2.1 3.3 3.2 .5 1.7-.4 1.8-1.5 1.7M348.5 -7l2.5 5.2 .1 3.6-.9 2.8-3.5 4.6-7 4.1-10.6 3.2-12.3 2.1-17.6 1.8-17.6 .5-17.6-.5-17.6-1.7-15.8-2.9-12.4-3.5-8.8-4.3-4.9-4.5-.9-1.7 0-3.6 2.3-3.5 2-1.7M82.7 82.9l-5.3-1.5-3.5-1.7-3.5-2.5-3-3.3-1.9-3.5-.9-3.5 .4-5.3 1.3-3.5 2.5-3.5 4.3-3.6 4.3-2.2 5.3-1.5 5.3-.5 5.3 .5 5.3 1.5 3.5 1.7 5.1 4.1 3.3 5.2 1 3.6-.1 3.5-1.7 5.3-4.4 5.2-6.7 4-7.1 1.8-8.8-.3M153.1 70.6l-4.2-2-2.9-3.5 0-3.5 1-1.8 2.6-2.1 5.3-1.9 7 0 5.9 2.3 3 3.5 0 3.5-1.1 1.8-2.5 2.1-3.5 1.6-3.5 .6-7.1-.6M297.4 63.4l-2.4-1.8 1.6-1.8 2.6-.6 7 0 2.4 .6 1.4 1.8-3.8 2-5.2 .3-3.6-.5M218.2 61.8l-1.7-2 1.4-1.7 3.9-1 3.5 0 3.5 .8 1.8 1.9-1.5 1.8-3.8 1-3.5 0-3.6-.8"/><path stroke-dasharray="7 4.5" d="M321 -7l6 3.5 1.4 1.7 .4 1.8-.4 1.8-1.4 1.7-3.2 2.2-8 3.1-9.6 2-12.3 1.4-12.3 .5-12.3-.5-12.3-1.4-9.6-2-8-3-3.5-2.3-1.4-1.7-.4-1.8 .4-1.8 1.4-1.7 6.2-3.5M149.6 144.4l-.9-.1 1.7 0-.8 .1M596.6 144.4l-6.9-1.8-1.2-1.8 1.8-1.8 1.1-.3 8.8-1.4 8.8 1.1 2 .6 1.9 1.8-1.2 1.8-4.5 1.4-5.3 .5-5.3-.1M84.5 75.9l-5.3-2.1-3.7-3.4-1-1.8-.8-3.5 .8-3.5 1-1.8 3.7-3.4 5.3-2 7 0 5.3 2 3.7 3.4 1.6 3.6 0 3.5-1.6 3.5-3.7 3.4-3.5 1.6-3.5 .7-5.3-.2"/><path stroke-dasharray="7 4.5" d="M88 65.1l"/></g></g><rect width="633.6" height="140.8" fill="none" stroke="#000" stroke-width="2.7"/></g><g stroke="#000" stroke-linecap="butt"><line x1="102.2" y1="468.8" x2="102.2" y2="462.3" stroke-width="2.6"/><line x1="102.2" y1="609.6" x2="102.2" y2="616.1" stroke-width="2.6"/><line x1="119.8" y1="468.8" x2="119.8" y2="465.6" stroke-width="2.0"/><line x1="119.8" y1="609.6" x2="119.8" y2="612.8" stroke-width="2.0"/><line x1="137.4" y1="468.8" x2="137.4" y2="465.6" stroke-width="2.0"/><line x1="137.4" y1="609.6" x2="137.4" y2="612.8" stroke-width="2.0"/><line x1="155" y1="468.8" x2="155" y2="465.6" stroke-width="2.0"/><line x1="155" y1="609.6" x2="155" y2="612.8" stroke-width="2.0"/><line x1="172.6" y1="468.8" x2="172.6" y2="465.6" stroke-width="2.0"/><line x1="172.6" y1="609.6" x2="172.6" y2="612.8" stroke-width="2.0"/><line x1="190.2" y1="468.8" x2="190.2" y2="465.6" stroke-width="2.0"/><line x1="190.2" y1="609.6" x2="190.2" y2="612.8" stroke-width="2.0"/><line x1="207.8" y1="468.8" x2="207.8" y2="462.3" stroke-width="2.6"/><line x1="207.8" y1="609.6" x2="207.8" y2="616.1" stroke-width="2.6"/><line x1="225.4" y1="468.8" x2="225.4" y2="465.6" stroke-width="2.0"/><line x1="225.4" y1="609.6" x2="225.4" y2="612.8" stroke-width="2.0"/><line x1="243" y1="468.8" x2="243" y2="465.6" stroke-width="2.0"/><line x1="243" y1="609.6" x2="243" y2="612.8" stroke-width="2.0"/><line x1="260.6" y1="468.8" x2="260.6" y2="465.6" stroke-width="2.0"/><line x1="260.6" y1="609.6" x2="260.6" y2="612.8" stroke-width="2.0"/><line x1="278.2" y1="468.8" x2="278.2" y2="465.6" stroke-width="2.0"/><line x1="278.2" y1="609.6" x2="278.2" y2="612.8" stroke-width="2.0"/><line x1="295.8" y1="468.8" x2="295.8" y2="465.6" stroke-width="2.0"/><line x1="295.8" y1="609.6" x2="295.8" y2="612.8" stroke-width="2.0"/><line x1="313.4" y1="468.8" x2="313.4" y2="462.3" stroke-width="2.6"/><line x1="313.4" y1="609.6" x2="313.4" y2="616.1" stroke-width="2.6"/><line x1="331" y1="468.8" x2="331" y2="465.6" stroke-width="2.0"/><line x1="331" y1="609.6" x2="331" y2="612.8" stroke-width="2.0"/><line x1="348.6" y1="468.8" x2="348.6" y2="465.6" stroke-width="2.0"/><line x1="348.6" y1="609.6" x2="348.6" y2="612.8" stroke-width="2.0"/><line x1="366.2" y1="468.8" x2="366.2" y2="465.6" stroke-width="2.0"/><line x1="366.2" y1="609.6" x2="366.2" y2="612.8" stroke-width="2.0"/><line x1="383.8" y1="468.8" x2="383.8" y2="465.6" stroke-width="2.0"/><line x1="383.8" y1="609.6" x2="383.8" y2="612.8" stroke-width="2.0"/><line x1="401.4" y1="468.8" x2="401.4" y2="465.6" stroke-width="2.0"/><line x1="401.4" y1="609.6" x2="401.4" y2="612.8" stroke-width="2.0"/><line x1="419" y1="468.8" x2="419" y2="462.3" stroke-width="2.6"/><line x1="419" y1="609.6" x2="419" y2="616.1" stroke-width="2.6"/><line x1="436.6" y1="468.8" x2="436.6" y2="465.6" stroke-width="2.0"/><line x1="436.6" y1="609.6" x2="436.6" y2="612.8" stroke-width="2.0"/><line x1="454.2" y1="468.8" x2="454.2" y2="465.6" stroke-width="2.0"/><line x1="454.2" y1="609.6" x2="454.2" y2="612.8" stroke-width="2.0"/><line x1="471.8" y1="468.8" x2="471.8" y2="465.6" stroke-width="2.0"/><line x1="471.8" y1="609.6" x2="471.8" y2="612.8" stroke-width="2.0"/><line x1="489.4" y1="468.8" x2="489.4" y2="465.6" stroke-width="2.0"/><line x1="489.4" y1="609.6" x2="489.4" y2="612.8" stroke-width="2.0"/><line x1="507" y1="468.8" x2="507" y2="465.6" stroke-width="2.0"/><line x1="507" y1="609.6" x2="507" y2="612.8" stroke-width="2.0"/><line x1="524.6" y1="468.8" x2="524.6" y2="462.3" stroke-width="2.6"/><line x1="524.6" y1="609.6" x2="524.6" y2="616.1" stroke-width="2.6"/><line x1="542.2" y1="468.8" x2="542.2" y2="465.6" stroke-width="2.0"/><line x1="542.2" y1="609.6" x2="542.2" y2="612.8" stroke-width="2.0"/><line x1="559.8" y1="468.8" x2="559.8" y2="465.6" stroke-width="2.0"/><line x1="559.8" y1="609.6" x2="559.8" y2="612.8" stroke-width="2.0"/><line x1="577.4" y1="468.8" x2="577.4" y2="465.6" stroke-width="2.0"/><line x1="577.4" y1="609.6" x2="577.4" y2="612.8" stroke-width="2.0"/><line x1="595" y1="468.8" x2="595" y2="465.6" stroke-width="2.0"/><line x1="595" y1="609.6" x2="595" y2="612.8" stroke-width="2.0"/><line x1="612.6" y1="468.8" x2="612.6" y2="465.6" stroke-width="2.0"/><line x1="612.6" y1="609.6" x2="612.6" y2="612.8" stroke-width="2.0"/><line x1="630.2" y1="468.8" x2="630.2" y2="462.3" stroke-width="2.6"/><line x1="630.2" y1="609.6" x2="630.2" y2="616.1" stroke-width="2.6"/><line x1="647.8" y1="468.8" x2="647.8" y2="465.6" stroke-width="2.0"/><line x1="647.8" y1="609.6" x2="647.8" y2="612.8" stroke-width="2.0"/><line x1="665.4" y1="468.8" x2="665.4" y2="465.6" stroke-width="2.0"/><line x1="665.4" y1="609.6" x2="665.4" y2="612.8" stroke-width="2.0"/><line x1="683" y1="468.8" x2="683" y2="465.6" stroke-width="2.0"/><line x1="683" y1="609.6" x2="683" y2="612.8" stroke-width="2.0"/><line x1="700.6" y1="468.8" x2="700.6" y2="465.6" stroke-width="2.0"/><line x1="700.6" y1="609.6" x2="700.6" y2="612.8" stroke-width="2.0"/><line x1="718.2" y1="468.8" x2="718.2" y2="465.6" stroke-width="2.0"/><line x1="718.2" y1="609.6" x2="718.2" y2="612.8" stroke-width="2.0"/><line x1="735.8" y1="468.8" x2="735.8" y2="462.3" stroke-width="2.6"/><line x1="735.8" y1="609.6" x2="735.8" y2="616.1" stroke-width="2.6"/><line x1="102.2" y1="468.8" x2="99" y2="468.8" stroke-width="2.0"/><line x1="735.8" y1="468.8" x2="739" y2="468.8" stroke-width="2.0"/><line x1="102.2" y1="486.4" x2="96.2" y2="486.4" stroke-width="2.6"/><line x1="735.8" y1="486.4" x2="741.8" y2="486.4" stroke-width="2.6"/><line x1="102.2" y1="504" x2="99" y2="504" stroke-width="2.0"/><line x1="735.8" y1="504" x2="739" y2="504" stroke-width="2.0"/><line x1="102.2" y1="521.6" x2="99" y2="521.6" stroke-width="2.0"/><line x1="735.8" y1="521.6" x2="739" y2="521.6" stroke-width="2.0"/><line x1="102.2" y1="539.2" x2="96.2" y2="539.2" stroke-width="2.6"/><line x1="735.8" y1="539.2" x2="741.8" y2="539.2" stroke-width="2.6"/><line x1="102.2" y1="556.8" x2="99" y2="556.8" stroke-width="2.0"/><line x1="735.8" y1="556.8" x2="739" y2="556.8" stroke-width="2.0"/><line x1="102.2" y1="574.4" x2="99" y2="574.4" stroke-width="2.0"/><line x1="735.8" y1="574.4" x2="739" y2="574.4" stroke-width="2.0"/><line x1="102.2" y1="592" x2="96.2" y2="592" stroke-width="2.6"/><line x1="735.8" y1="592" x2="741.8" y2="592" stroke-width="2.6"/><line x1="102.2" y1="609.6" x2="99" y2="609.6" stroke-width="2.0"/><line x1="735.8" y1="609.6" x2="739" y2="609.6" stroke-width="2.0"/></g><text x="100.9" y="460.6" style="font-family:'Liberation Sans',Arial,Helvetica,sans-serif;font-size:35.2px">14-Feb to 18-Feb</text><g transform="translate(102.2,683.6)"><g clip-path="url(#pc)"><rect width="633.6" height="140.8" fill="#f7f7f7"/><path fill="#053061" fill-rule="evenodd" d="M-5 148l646 0 0-19-34-4-30-1-21 2-44 5-65 1-5-1-4-2-3-2-8-9-3-2-5-2-12-2-30 0-9 1-7 2-5 5-5 10-4 6-7 3-11 2-14 1-9 0-33-4-35-2-30 0-34 2-3-1-1-1-4-9-4-5-4-2-5-1-5 2-4 3-3 4-5 8-2 1-2 1-60-7-30-1-30 0-19-3 0 21zM144 67l9 1 9-1 6-4 1-1 0-4-4-3-7-3-8 0-9 2-5 2-1 4 2 3zM84 65l11 1 11-3 7-5 2-3-1-4-2-3-3-2-5-2-7-1-7 0-13 3-4 2-2 1-2 4 1 3 1 2 5 4zM192 58l3 0 2-2 0-3-2-2-3 0-2 2 0 3zM39 11l3 1 4-1 0-2-6-1-2 1 0 2zM313 9l11 1 7-1 5-2 1-2 0-1-1-2-3-2-11-1-35 1-7 2-2 2 2 1 7 2zM503 7l6 1 7-1 2-2 1-1 0-2-2-2-5-1-5 0-4 1-2 2-1 2 1 1z"/><path fill="#2166ac" fill-rule="evenodd" d="M296 141l10 1 9 0 18-1 8-2 4-2 4-3 2-4 5-9 3-5 7-3 9-1 32 0 12 2 5 2 3 2 8 9 3 2 4 2 5 1 67-1 40-5 22-1 31 0 34 4 0-2-30-3-34-1-23 1-30 4-15 1-60 1-5-1-4-1-4-3-8-9-7-3-13-2-28 0-12 0-5 2-4 1-5 6-7 12-2 2-4 3-8 2-20 2-12-1-26-4-27-2-37 0-37 2-3-2-5-9-3-4-5-2-3-1-5 1-5 2-4 5-5 8-4 2-58-7-35-1-27 0-19-3 0 2 14 2 63 2 62 7 2-1 2-1 5-8 4-5 5-3 5-1 3 1 5 3 3 4 4 9 2 2 39-2 30 0 32 2zM148 69l9 0 8-2 5-4 2-1 0-4-2-2-3-2-7-4-3 0-16 2-7 3-2 3 1 4 2 1 6 4zM144 67l-7-4-2-3 1-4 5-2 9-2 8 0 7 3 4 3 0 4-1 1-6 4-9 1zM88 67l12-1 11-4 5-4 3-3 1-4-1-2-3-2-5-3-7-2-7-1-4 0-17 4-6 3-2 1-1 4 0 3 3 4 4 3 3 2zM83 65l-9-3-2-2-2-4-1-3 1-2 4-4 18-4 5 0 7 1 5 2 3 2 2 3 1 4-2 3-7 5-11 3-5 0zM192 60l4 0 2-2 1-2 0-3-1-2-3-2-3 0-2 1-2 3-1 2 1 3zM191 58l-1-2 0-3 2-2 3 0 2 2 0 3-2 2-1 1zM157 46l1 0 2-1 2-2 0-3-2-2-3 0-3 2 1 4zM40 14l6 0 3-1 4-2 0-2-2-2-5-2-7 0-4 2-2 2 0 2 2 1zM38 11l0-2 4-1 4 1 0 2-4 1zM312 11l12 1 9-1 6-2 2-2 1-3-2-4-4-2-5-1-7-1-42 2-9 2-3 2 0 2 1 1 2 1 7 2zM313 9l-26-2-7-2-2-1 2-2 7-2 35-1 11 1 3 2 1 2 0 1-1 2-5 2-7 1zM502 9l7 1 8-1 4-2 2-2 0-1 0-2-1-2-3-2-5-1-7 0-5 1-4 2-2 2-1 2 1 1 1 2zM503 7l-2-2-1-1 1-2 2-2 4-1 5 0 5 1 2 2 0 2-1 1-2 2-7 1z"/><path fill="#4393c3" fill-rule="evenodd" d="M308 141l9 0 14-2 10-2 4-3 2-2 7-12 3-5 7-3 9-1 34 0 13 2 8 3 8 9 4 3 4 1 5 1 60-1 15-1 30-4 20-1 35 1 32 3 0-2-27-3-38-2-22 1-31 4-23 2-51 1-5-1-4-2-11-10-3-2-5-2-13-1-35 0-10 1-8 3-4 6-6 10-2 3-3 2-12 2-18 2-9 0-23-5-23-2-39 0-42 2-2-1-1-2-3-6-4-5-4-2-5-1-5 1-4 1-4 4-6 8-2 2-4 1-53-6-42-2-23 0-19-3 0 2 16 3 63 1 60 7 4-2 5-8 4-5 5-2 5-1 3 1 5 2 3 4 5 9 3 2 37-2 37 0 28 2 23 4zM143 69l8 1 11-1 7-3 4-3 1-1 1-2-1-4-3-2-7-5-1-1 2-4 0-4-3-3-4-2-1 0-4 2-2 3 0 6-1 2-2 0-5 0-5 0-7-6-6-2-12 0-16 0-14 3-9 1-4 1-5 4-1 4 2 5 3 4 6 3 8 2 9 1 8 0 7-2 14-6 4-1 2 1 9 6zM148 69l-7-2-6-4-2-1-1-4 2-3 7-3 16-2 3 0 7 4 3 2 2 2 0 4-2 1-5 4-8 2zM87 67l-10-2-3-2-4-3-3-4 0-3 1-4 2-1 6-3 17-4 4 0 7 1 7 2 5 3 3 2 1 2-1 4-3 3-5 4-11 4-7 1zM157 46l-2-2-1-4 3-2 3 0 2 2 0 3-2 2-2 1zM192 62l5-1 2-1 2-4 0-3-1-2-1-2-4-1-3-1-4 2-3 4 0 3 1 2 2 3zM191 60l-3-2-1-2 1-3 2-3 2-1 3 0 3 2 1 2 0 3-1 2-3 2zM39 16l9 0 10-2 5-3 0-2 0-2-5-3-7-2-9 0-7 1-4 2-1 2-1 2 1 2 2 2 3 2zM40 14l-5-2-2-1 0-3 2-1 2-1 5-1 5 0 5 2 1 2 0 2-4 2-5 1zM326 14l8-1 8-2 4-4 0-2 0-3-3-4-5-2-7-2-9 0-35 1-11 1-10 3-3 3-1 2 1 1 3 2 10 3zM310 11l-30-3-7-2-2-1-1-1 0-2 3-2 9-2 42-2 7 1 5 1 4 2 2 4-1 3-2 2-6 2-9 1zM500 11l10 1 9-2 6-3 1-2 1-3-3-4-7-3-8 0-9 1-8 4-2 4 0 1 2 2zM501 9l-4-2-1-2-1-1 1-2 2-2 4-2 5-1 7 0 5 1 3 2 1 2 0 2 0 1-2 2-4 2-8 1zM598 9l6 1 3 0 4-2 1-1-1-2-2-1-4-1-7 0-2 2 0 2z"/><path fill="#92c5de" fill-rule="evenodd" d="M304 139l15 0 15-3 6-1 3-2 2-3 6-10 4-6 8-3 10-1 35 0 13 1 5 2 3 2 11 10 4 2 5 1 51-1 24-2 27-3 19-2 21 0 21 2 29 3 0-2-25-4-44-1-21 1-27 2-12 0-17 3-46 1-7-2-13-10-8-3-13-1-37-1-10 2-7 3-5 5-6 10-5 4-18 4-10 1-9-1-21-5-21-2-44 0-39 2-4-1-5-9-3-2-4-2-5-2-5 1-4 2-4 3-8 9-4 1-47-5-50-3-21 1-19-4 0 3 16 3 65 1 56 7 4-1 2-2 6-8 4-4 4-1 5-1 5 1 4 2 4 5 3 6 1 2 2 1 42-2 39 0 25 2zM510 109l2-2-1-1-1-1 0 2zM146 71l11 0 8-2 7-2 5-4 3-3 1 0 9 4 4 1 3-1 4-2 2-2 1-4 0-3-2-4-2-1-6-3-4 1-3 1-7 5-4-1-6-3-4-11-2-2-4-2-5 0-9 6-2 0-3-1-11-7-7-2-5 1-11 6-12 2-11 4-15 1-6 3-3 5 1 5 5 6 6 3 9 3 9 2 9-1 24-4 4 0 12 4zM142 69l-6-3-9-6-2-1-4 1-14 6-7 2-8 0-9-1-8-2-6-3-3-4-2-5 1-4 5-4 4-1 9-1 14-3 16 0 12 0 6 2 7 6 5 0 5 0 2 0 1-2 0-6 2-3 4-2 1 0 4 2 3 3 0 4-2 4 1 1 7 5 3 2 1 4-1 2-1 1-4 3-7 3-11 1zM190 62l-3-2-2-4 0-3 1-2 2-2 4-2 5 1 3 3 1 2 0 3 0 2-2 2-4 2zM44 19l5 1 7-1 10-3 4-3 3-2 0-4-1-2-3-3-6-2-7-1-8-1-8 0-7 1-5 2-3 3-1 1 1 4 3 4 7 4zM38 16l-6-3-2-2-1-2 1-2 1-2 4-2 7-1 9 0 7 2 5 3 0 2 0 2-2 1-5 3-8 1zM320 16l7 0 7 0 10-4 3-1 3-4 1-3-1-4-5-4-7-3-55 0-10 1-9 2-6 2-4 4 0 2 0 1 3 2 3 2 8 2 12 2 24 1zM325 14l-49-4-10-3-3-2-1-1 1-2 3-3 10-3 11-1 35-1 9 0 7 2 5 2 3 4 0 3 0 2-4 4-8 2zM598 16l9 1 4-1 5-2 5-3 3-4 0-3-1-2-2-2-5-2-12-2-13 1-5 2-3 3-1 3 2 4 6 4zM598 9l-2-2 0-2 2-2 7 0 4 1 2 1 1 2-1 1-4 2-5 0zM496 13l13 1 7-1 5-1 5-3 3-2 2-3 0-4-5-4-7-3-17 0-7 2-15 6-3 0-12-1-9 0-5 2-2 2-1 1 1 2 3 2 6 1 8 0 14-2zM499 11l-7-4-2-2 0-1 2-4 8-4 9-1 8 0 7 3 3 4-1 3-1 2-7 4-9 1z"/><path fill="#d1e5f0" fill-rule="evenodd" d="M306 137l11 0 21-5 5-4 6-10 5-5 7-3 10-2 37 1 13 1 8 3 13 10 3 2 6 0 44-1 17-3 12 0 25-2 18-1 47 1 11 1 16 3 0-3-16-3-13-2-51-1-37 2-3-1-1-2-2-9-1-4-3-2-4-1-3 2-2 3-1 4-2 10-1 2-5 2-38 2-9 0-4-1-3-1-7-6-6-3-8-3-14-1-39 0-9 1-7 3-4 3-8 11-4 2-20 7-6 1-7-1-13-5-7-1-12-2-14-1-41-1-22 2-18 1-4-2-5-5-3-3-4-2-5-1-5 1-4 2-12 11-4 1-46-7-52-1-20 0-8-1-11-3 0 3 16 3 24 0 44 2 22 2 31 4 4-1 8-9 4-3 4-2 5-1 5 2 4 2 3 2 5 9 4 1 39-2 44 0 21 2zM510 109l0-2 0-2 1 1 1 1-1 2zM148 72l7 0 9 0 17-4 11 0 7 0 17-6 4-2 0-2-3-3-16-10-4-2-14-1-7-2-4-1-7-7-5-2-3 0-7 0-4-1-4-3-10-9-5-3-4 0-2 1-25 20-9 5-8 2-12-2-11 0-6 2-4 4 0 3 2 2 11 9 8 5 10 4 9 1 9 1 21-2 12 1zM145 70l-6-1-12-4-4 0-24 4-9 1-9-2-9-3-6-3-5-6-1-5 3-5 6-3 15-1 11-4 12-2 11-6 5-1 7 2 11 7 3 1 2 0 9-6 5 0 4 2 2 2 4 11 6 3 4 1 7-5 3-1 4-1 6 3 2 1 2 4 0 3-1 4-2 2-4 2-3 1-4-1-9-4-1 0-3 3-5 4-7 2-10 2zM48 25l7 0 7-2 7-3 8-6 3-3 1-4 0-3-2-4-3-3-6-1-16-3-17 0-5 1-9 2-7 4-1 2 1 3 9 9 14 8zM44 19l-9-2-7-4-3-4-1-4 1-1 3-3 5-2 7-1 8 0 8 1 7 1 6 2 3 3 1 2 0 4-3 2-4 3-10 3-7 1zM598 21l9 1 4 0 5-2 7-5 9-8 4-3 0-2 0-2-3-4-6-3-49 0-6 4-2 2 0 3 1 3 3 4 4 3 6 4zM598 16l-8-3-6-4-2-4 1-3 3-3 5-2 13-1 12 2 5 2 2 2 1 2 0 3-3 4-5 3-5 2-4 1zM313 18l9 1 9-1 7-1 7-2 5-3 5-5 1-5-1-4-5-5-12 0 7 3 3 2 3 4 0 2-1 3-3 4-6 3-7 2-7 0-56-4-12-4-5-3 0-1 0-2 1-2 7-4 11-2 10-1-26 0-11 4-3 2-1 3 0 2 1 1 2 2 7 3 7 2 16 3zM495 16l8 1 7 0 7-2 7-2 8-4 3-4 2-3-1-4-3-3-3-2-13 0 6 1 5 3 3 3 0 4-2 3-5 4-7 2-7 1-12-1-18-5-14 2-8 0-6-1-3-2-1-2 1-1 2-2 5-2 9 0 12 1 3 0 15-6 7-2-15 0-9 2-17-1-9 1-5 1-5 2-4 3-1 3 1 3 2 2 3 2 6 1 14 2 21 0zM-5 11l6-6 2-3-1-2-2-3-7-4 0 19z"/><path fill="#fddbc7" fill-rule="evenodd" d="M128 125l6-1 10-8 7-4 4-1 5 1 9 3 3 0 16-6 13-7 5-1 32 7 27 3 17 5 10 2 11 0 14-4 17 1 4-1 14-7 9-2 9-1 51 2 10 3 16 7 5 1 7 0 25-4 5-1 4-2 2-2 1-3 4-12 0-3-2-2-9-3-5-2-3-4-4-10-4-5-3-4-4-1-7-2-23-1-14-1-8-2-7-4-2-3 0-6 3-5 10-12 1-4-1-5-4-9-6-6-7-4-10-2-11 1-7 2-5 4-11 11-7 6-7 4-9 2-14 0-30-3-30-1-36-6-13 1-12 4-5 3-3 4-1 1 1 2 2 4 6 3 9 4 14 4 55 12 6 2 2 1 1 2-1 2-2 1-7 4-7 2-23 3-14 2-30 10-7 0-21-5-14-2-16 0-21 0-9-1-33-4-25-5-5 0-5 1-9 6-5 2-6-1-10-7-5-2-6 0-12 2 0 13 12-3 4 0 5 1 11 5 7 0 11-3 15-8 5-1 7 0 23 4 18 5 10 3 25 4 6 2 2 2 2 1 0 4-5 10-14 13-5 2-5 0-15-4-28-10-8-1-7 0-13 3-7 1-7 0-16-2-10 1-5 0-7-3-8-6-3-3 0 11 11 5 5 2 6 0 13-1 23 1 21-1 7 0 9 1zM293 111l-22-5-21-2-16-3-7-2-5-4-2-3 0-4 3-4 6-3 7-3 10-2 11-1 33-1 20 1 3 0 8-6 13-9 3-4-2-3-8-6-10-3-9 0-14 3-9 0-21-4-42-6-9-4-6-3-1-4 2-3 7-3 10-1 7 1 20 5 12 1 18-2 7 0 7 1 17 5 13 0 14-2 7-3 5-4 14-13 9-6 9-2 5 0 5 1 6 3 4 3 2 5 1 6-2 5-3 5-15 16-1 5 1 4 5 2 9 2 50 6 8 2 6 2 4 3 1 4 1 3-2 7 0 4 5 7 2 4-1 3-2 2-5 3-10 3-9 1-5-1-15-5-8-1-78-3-5-2-7-9-2-2-3-2-6-1-2 1-6 16-4 7-4 3-3 1-4-1zM639 115l2 0 0-6-4-2-9-8-3-1-5 0-23 6-16 1-11-2-9-2-10-3-12-6-15-8-10-8-4-7-2-6 0-7-3-3-6-4-19-8-10-6-8-5-4-4 0-1 1-2 2-1 5 0 7 0 11 2 27 8 8 1 4-1 6-9 10-5 5-2 5-1 11 2 10 4 8 5 3 4 1 5-2 5-4 5-8 4-11 4-2 2-1 1 1 2 3 4 11 7 8 3 6 1 22 2 22 6 14-3 0-12-13 2-5 0-33-6-6-2 0-2 0-2 8-10 3-6 1-3 0-4-3-3-4-4-24-13-11-4-5-1-3 1-28 12-6 4-5 1-8-1-20-5-14-2-14 0-5 1-1 2 2 4 11 7 19 11 20 10 2 2 2 3 8 23 4 3 19 12 19 7 16 4 10 2 13 0 31-1 6 1zM4 50l3 1 5 0 7-3 6-4 3-4 4-5 2-3-1-6-5-5-9-6-7-4-5 0-3 1-6 3-5 4 0 25 5 3zM5 42l-5-2-5-5-2-5 1-5 4-6 6-3 5-1 7 1 5 3 5 6 1 3-1 5-3 5-5 3-7 2zM637 50l4 1 0-8-6-2-5-4-2-4-1-5 2-5 3-4 3-2 6-2 0-4-7 3-8 5-5 7-2 6 1 5 5 5 5 4zM77 41l7-1 6-3 3-4 2-9 2-1 9-4 4-3 2-4 0-3-1-4-4-4-3-2-5 0-4 0-3 2-4 4-3 9-9 5-4 4-3 5 0 5 2 4 2 2zM76 39l-3-2-1-4-1-5 2-3 3-4 3-2 4-1 5 0 3 3 1 5 0 6-2 3-4 4-3 1-4 0zM92 18l-2-2 0-4 0-3 2-4 3-1 4-1 3 0 4 2 1 2 1 4-1 3-2 2-3 2-3 0z"/><path fill="#f4a582" fill-rule="evenodd" d="M127 122l5 0 4-1 15-14 5-10 0-4-2-1-2-2-6-2-25-4-10-3-18-5-23-4-7 0-5 1-15 8-11 3-7 0-11-5-5-1-4 0-12 3 0 17 3 3 8 6 5 3 5 0 12-1 16 2 7 0 7-1 13-3 7 0 7 1 23 8zM128 120l-47-18-9-1-5 0-16 4-9 0-5-1-7-4-4-3 0-2 8-5 19-6 9-6 3-2 9-1 12 1 9 3 28 13 7 4 9 8 3 5 0 2-1 3-5 5-4 1zM10 99l-1-2-1-4 0-1 3-2 5 1 4 4 0 2-3 2-3 0zM294 111l7 2 3-1 4-3 4-7 6-16 2-1 6 1 3 2 2 2 7 9 5 2 78 3 8 1 15 5 5 1 9-1 10-3 5-3 2-2 1-3-2-4-5-7 0-4 2-7-1-3-1-4-4-3-6-2-8-2-50-6-9-2-5-2-1-4 1-5 15-16 3-5 2-5-1-6-2-5-4-3-6-3-5-1-5 0-9 2-9 6-14 13-5 4-7 3-14 2-13 0-17-5-7-1-7 0-18 2-12-1-20-5-7-1-10 1-7 3-2 3 1 4 6 3 9 4 42 6 21 4 9 0 14-3 9 0 10 3 8 6 2 3-3 4-13 9-8 6-3 0-20-1-33 1-11 1-10 2-7 3-6 3-3 4 0 4 2 3 5 4 7 2 16 3 21 2zM297 109l-8-5-20-2-16 0-13-3-6-3-3-3-1-1 0-4 2-3 4-2 7-3 9-1 28 0 12 2 5 2 4 3 5 6 3 7-1 3-1 4-3 3-3 1zM426 100l-32-1-8 0-7-2-3-2-1-3-2-2-4-2-17-6-18-2-4-3-1-1 0-2 2-2 3-2 22-6 10-2 11-1 24 1 32 3 18 4 4 1 2 2 1 2 0 2-4 2-27 5-6 1-6 4 0 2 4 2 16 5 3 2-1 1zM280 40l-3-1-2-4 0-2 1-1 3-2 4-1 6 0 5 2 3 2 0 4-1 2-4 2-5 1zM364 40l-5-1-3-2-3-4 0-3 2-5 2-4 7-9 9-6 9-2 5 0 5 1 4 1 3 3 3 5 0 5-3 6-5 5-9 6-7 3-8 2zM228 33l-4 0-4-2-2-3 1-2 3-1 5-1 5 2 5 2 0 2-1 2-4 1zM639 108l2 1 0-31-14 3-22-6-24-2-7-2-8-4-10-7-2-4 1-1 1-2 12-4 6-3 4-4 4-5 0-5-2-4-6-5-7-3-13-4-7-1-5 1-10 5-4 4-5 7-4 1-8-1-27-8-11-2-7 0-5 0-2 1-1 2 0 1 4 4 8 5 10 6 19 8 6 4 3 3 0 7 2 6 4 7 5 4 7 5 16 9 9 4 12 4 9 2 11 1 14-1 23-6 5 0 3 1zM573 100l-12-2-12-4-10-5-13-8-7-5-5-7 0-6 1-7-1-1-5-4-24-11-10-5-6-5-1-2 0-2 7 0 13 2 47 15 2 1 1 2 3 7 2 3 7 6 29 15 9 4 14 3 3 2 1 2-1 2-3 3-9 6-9 2zM548 44l-8-1-1-1-3-3-1-6 1-3 2-4 2-1 7-3 9 0 9 3 5 5 1 2 0 3-3 3-2 2-8 4zM5 42l7 1 6-2 6-4 3-5 0-6-2-3-6-5-5-3-7 0-5 2-6 4-3 5 0 6 2 3 5 5zM6 37l-3-2-3-3-1-6 1-3 5-4 4-1 5 1 4 2 2 2 2 3 0 4-2 3-6 4-3 1zM639 42l2 1 0-6-4-1-3-3-2-5 2-5 3-3 4-2 0-3-6 2-3 2-3 4-2 5 1 5 2 4 4 3zM76 39l3 1 4 0 3-1 4-4 2-3 0-6-1-5-3-3-5 0-4 1-3 2-3 4-2 3 1 5 1 4zM78 39l-3-2-2-4 0-3 1-4 2-3 3-3 4 0 3 0 3 3 1 3 1 4-1 3-2 3-4 2-3 1zM93 18l4 1 3-1 6-3 2-4-1-4-1-2-4-2-3 0-4 1-3 1-2 4 0 3 0 4zM95 14l-1-2 0-1 0-2 2-2 4-1 3 3 1 2-1 1-2 2-2 1z"/><path fill="#d6604d" fill-rule="evenodd" d="M128 120l4 0 4-1 5-5 1-3 0-2-3-5-9-8-7-4-28-13-9-3-12-1-9 1-3 2-9 6-19 6-8 5 0 2 4 3 7 4 5 1 9 0 16-4 5 0 9 1zM129 118l-4-2-7-6-11-3-18-7-32-7 0-1 6-9 6-4 8-2 6 1 6 1 4 2 11 7 12 7 9 7 9 3 3 2 2 4 0 3-2 2-3 2zM47 97l-2-2 3-1 4-1 1 2-4 2zM297 109l4 1 2 0 3-3 2-3 1-5-3-7-5-6-4-3-5-2-12-2-28 0-9 1-7 3-4 2-2 3 0 4 1 1 3 3 6 3 13 3 16 0 20 2zM298 107l-2-1-4-7-2-2-8 1-14 0-11 1-5 0-6-2-6-4-1-1 0-2 0-2 2-2 4-2 5-2 5-1 21 2 10 1 4 2 6 5 7 3 3 3 0 5-1 4-2 2-2 0zM426 100l11 0 1-1-3-2-16-5-4-2 0-2 6-4 6-1 27-5 4-2 0-2-1-2-2-2-4-1-18-4-32-3-24-1-11 1-10 2-22 6-3 2-2 2 0 2 1 1 4 3 18 2 17 6 4 2 2 2 1 3 3 2 7 2 8 0zM379 81l-14-4-3-1-1-2 0-2 5-3 7-1 11-1 12 0 27 2 8 1 5 2 1 2-2 2-6 1-22 5-13 1zM336 76l1-2 3-1 4 1 1 2-5 1zM574 100l10 1 9-2 9-6 3-3 1-2-1-2-3-2-14-3-9-4-29-15-7-6-2-3-3-7-1-2-2-1-47-15-13-2-7 0 0 2 1 2 6 5 10 5 24 11 5 4 1 1-1 7 0 6 5 7 7 5 13 8 10 5 12 4zM568 97l-8-2-11-4-10-5-9-5-6-5-4-6-1-5 1-3 4-4 4-1 4 0 8 4 16 7 20 11 8 5 3 4 1 2-1 3-4 3-7 1zM520 51l-28-11-10-5-2-2 0-1 4-1 7 1 12 3 14 5 6 4 4 4 0 1-1 2-2 1zM11 99l3 0 3 0 3-2 0-2-4-4-5-1-3 2 0 1 1 4zM549 44l11-1 7-3 3-3 1-4-1-3-1-2-6-4-9-2-8 0-7 4-2 2-2 4 0 3 2 5 3 3zM546 37l-2-2-1-2 0-1 1-2 3-2 4-1 5 1 4 2 1 2 0 1 0 2-5 3-5 1zM282 41l5 1 6-2 3-1 1-2 0-4-3-2-5-2-6 0-4 1-3 2-1 1 0 2 2 4zM364 41l7 0 7-2 7-3 9-6 5-5 3-6 0-5-3-5-3-3-4-1-5-1-5 0-9 2-9 6-5 6-3 5-3 5 0 4 1 3 2 2 3 2zM367 35l-3-1-3-2-1-2-1-4 1-3 1-4 7-7 7-4 9-2 7 1 5 4 2 3 0 5-3 6-3 3-5 4-7 3-7 1zM79 39l4 0 3-1 3-3 1-3 0-6-1-3-2-2-3-1-3 0-4 1-3 4-1 3 0 4 1 3 2 2zM77 37l-2-2-1-3 0-4 2-3 2-2 3-2 3 1 2 1 2 2 1 3 0 4-1 3-3 2-2 1-4 0zM7 37l5 0 4-1 3-2 2-3 1-3-1-3-3-4-3-2-4-1-6 1-3 2-3 4 0 3 1 4 3 3zM7 30l-1-2 0-2 1-1 2-2 3 1 2 1 1 1 0 2-1 2-2 1-3 0zM641 37l0-7-2-2 0-2 2-2 0-6-4 2-3 3-2 5 2 5 3 3zM229 34l3-1 4-1 1-2 0-2-5-2-5-2-5 1-3 1-1 2 1 2 2 2zM97 15l3 0 3-3 1-1-1-2-1-2-3-1-3 1-2 2 0 3 1 2z"/><path fill="#b2182b" fill-rule="evenodd" d="M130 118l6-1 3-3 0-3-2-4-3-2-9-3-9-7-12-7-11-7-4-2-6-1-6-1-8 2-6 4-6 9 0 1 32 7 18 7 11 3 7 6zM129 116l-2-2-2-1 1-4 2-2 2 0 4 1 2 1 1 2 0 2-1 1-2 2zM77 95l-8-3-2-2-1-2 1-4 2-2 3-2 5-1 7 1 6 3 6 5 2 5-1 2-5 1-8 0zM299 108l4 0 2-2 1-4 0-5-3-3-7-3-6-5-4-2-10-1-21-2-5 1-5 2-4 2-2 2 0 2 0 2 1 1 6 4 6 2 5 0 11-1 14 0 8-1 2 2 4 7zM298 106l-2-4 0-3 1-3 4 0 2 1 1 2 1 3-2 4-2 0zM250 95l-2-2-1-3 3-4 3-1 4-1 3 1 10 5-1 2-10 4-4 1zM48 97l5-2-2-2-3 1-3 1zM568 97l8 0 7-1 4-3 1-3-1-2-3-4-8-5-20-11-16-7-8-4-4 0-4 1-4 4-1 3 1 5 4 6 6 5 9 5 10 5 11 4zM563 93l-7-1-9-4-7-4-8-5-6-5-2-4 0-3 1-2 3-2 5 0 7 1 7 3 12 5 11 7 7 5 2 4 1 2-1 2-3 1-6 1zM380 81l16 2 12-1 21-5 6-1 2-2-1-2-5-2-8-1-27-2-12 0-11 1-7 1-5 3 0 2 1 2 3 1zM336 76l4 1 5-1-1-2-4-1-3 1zM521 51l3 1 2-1 1-2 0-1-4-4-6-4-14-5-12-3-7-1-4 1 0 1 2 2 10 5zM77 37l4 1 3-1 4-2 1-2 0-3 0-4-2-3-3-1-1-1-4 1-2 1-2 3-1 4 1 3zM81 37l-4-2-1-2-1-3 1-4 2-1 3-2 2 0 3 2 1 1 1 6-2 3-3 2zM546 37l5 2 5-1 5-3 0-2 0-1-1-2-4-2-5-1-4 1-3 2-1 2 0 1 1 2zM368 35l5 1 7-1 7-3 5-4 3-3 3-6 0-5-2-3-2-2-4-2-8-1-9 3-7 5-6 7-1 5 1 4 1 2 3 2zM368 32l-4-3-1-4 2-6 5-5 5-3 7-2 7 1 4 2 2 4 0 3-2 4-4 4-5 4-6 1-5 1zM7 30l4 1 3-1 1-2 0-2-1-1-3-2-4 1-1 2 0 2zM641 30l0-6-2 2 0 2z"/><path fill="#67001f" fill-rule="evenodd" d="M130 116l4 0 2-2 1-1 0-2-1-2-4-2-4 0-1 1-2 3 2 3zM299 106l4 0 2-4-1-3-1-2-2-1-4 0-1 3 0 3 1 2zM77 95l9 1 7 0 4-1 1-2-2-5-6-5-7-3-7-1-5 2-3 2-1 1-1 4 1 2 2 2 3 2zM252 96l3 1 5-1 9-4 1-2-6-4-5-1-4-1-3 1-4 3-1 2 1 3zM565 94l5 0 6-1 3-1 1-2-1-2-4-5-7-6-13-7-9-4-9-3-5 0-4 0-4 3 0 3 1 3 3 4 6 5 15 8 7 3zM81 37l5-2 2-3-1-6-1-1-3-2-2 0-3 2-2 1-1 4 1 3 1 2zM370 32l5 1 5-1 5-2 5-4 3-3 2-4 0-3-2-4-4-2-7-1-7 2-6 3-4 5-2 6 1 4 2 1z"/><use href="#coast"/><path d="M0 70.4 H633.6 M316.8 0 V140.8" stroke="#333" stroke-width="1.6" stroke-dasharray="5 4" fill="none"/><g fill="none" stroke="#a020f0" stroke-width="2"><path d="M371.8 -7l2 15.8 2.8 9.2 2 3.1 3.5 3.5 3.3 1.9 5.3 1.1 5.3-.8 3.5-1.5 3.5-2.6 4.5-5.1 2.8-5.3 1.9-5.3 1.4-7 .4-7M525.4 -7l.2 7 1.2 7 1.6 5.3 2.5 5.3 2.4 3.6 3.5 3.6 3.5 2.1 5.3 1.2 5.3-1.2 3.5-2.1 3.5-3.6 2.4-3.6 2.5-5.3 1.6-5.3 1.2-7 .2-7M309.8 91.7l7 .6 3.5-.6 3.5-1.5 2.6-2.2 1-1.8 0-3.5-2.9-3.5-5.9-2.3-7.1 0-5.3 1.9-2.5 2.2-1 1.7 0 3.5 2.9 3.6 4.2 1.9"/><path d="M382.7 -7l1 6.5 1.7 4.3 3.6 3.6 3.5 .8 3.5-1.6 2.6-3.1 2.1-5.3 .4-5.2M535.7 -7l.5 7 2.4 6.4 3.5 3.7 3.5 1.1 3.5-1.1 3.5-3.7 2.4-6.4 .5-7"/><path stroke-dasharray="7 4.5" d="M144.1 147.8l-5.1-2.1-5.2-4.9-2.4-5.3-.4-5.3 1.7-5.2 2.5-3.6 2.1-1.8 5.3-3 7-1.2 7 1.2 5.3 3 2.1 1.8 2.5 3.6 1.7 5.2-.4 5.3-2.4 5.3-5.2 4.9-5.1 2.1M300.6 147.8l-3.2-2.3-2.2-2.9-1-3.6 .5-3.5 2.1-3.5 2.4-2 3.5-1.7 5.3-.9 7 1.1 12.4 5.3 14 4.1 5.3 2.1 3.2 2.6 .6 1.7-.6 1.8-1.9 1.7M222.7 -7l6.1 1.8 1.8-.2 3.6-1.6M343.4 -7l1.6 1.9 1.4 3.3 .1 3.6-.6 1.7-2.7 3.9-5.3 3.7-8.8 3.3-10.5 2.4-14.1 1.7-14.1 .6-15.8-.7-15.9-2.3-12.3-3.3-14.1-5.6-3.5 .6-7.7 6.3-4.6 2.6-3.5 .8-3.6-.3-3.5-1.7-3.1-3.2-1.7-3.5-.7-3.5 .2-3.5 1.1-3.6 2.4-3.5 2.1-1.7M577.3 129.1l-3.5-1.7-2.1-2.4-.4-1.8 .4-1.8 1.2-1.7 2.6-1.8 5.3-1 5.3 1 2.6 1.8 1.2 1.7 .4 1.8-.4 1.8-1.2 1.7-4.4 2.4-3.5 .4-3.5-.4M68.6 77.6l-3.4-3.7-1.7-3.5-1.4-5.3-.4-7 .9-5.3 1.5-3.5 2.8-3.7 3.5-2.7 7-3 7.1-2.1 7-.9 7.1 .3 7 1.6 5.3 2.4 5.3 4 3.1 4.1 1.6 3.5 .6 3.5-1 5.3-3.7 5.3-5.9 4.6-5.3 2.3-7 1.7-7.1 .3-10.5-.8-8.8 3.3-3.6-.7M149.6 67.3l-4.5-2.2-1.6-1.7-.5-1.8 .4-1.8 1.5-1.7 2.9-1.7 5.3-1.1 5.3 .3 5.3 2.2 1.8 2 .5 1.8-.5 1.8-1.4 1.7-2.2 1.4-5.3 1.4-7-.6M223.5 66.9l-3.5-.6-2.6-1.2-.9-1.7 .9-1.8 2.6-1.2 3.5-.6 3.5 .6 2.6 1.2 1 1.8-1 1.7-2.6 1.2-3.5 .6M297.4 63.6l-1.7-.5-2-1.5 2-1.8 7-1 6.8 1 1.5 1.8-3 1.8-1.8 .3-8.8-.1"/><path stroke-dasharray="7 4.5" d="M309.9 -7l5.1 1.9 2.6 1.6 1.6 1.7 .6 1.8-.6 1.8-1.6 1.7-4.3 2.4-7.1 2-7 1.1-8.8 .4-8.8-.4-7-1.1-7.1-2-4.3-2.4-1.7-1.7-.5-1.8 .5-1.8 1.7-1.7 2.6-1.6 5.1-1.9M149.6 132lM70.4 71.2l-1.8-1.4-1.7-3.4-.7-4.8 .3-3.5 2.3-5.3 1.6-1.7 3.5-1.9 12.3-5 3.6-.7 5.2-.2 5.3 1 5.3 2.3 3.4 2.7 2.2 3.5 .7 3.5-1 4.2-3.5 4.3-3.6 2.3-5.2 1.7-5.3 .6-12.3-1.8-3.6 1-3.5 2.2-1.7 .6-1.8-.2"/><path stroke-dasharray="7 4.5" d="M88 62.1l-3.6-2.3-1.3-1.7-.3-1.8 1.9-3.5 2.3-1.8 4.5-1.4 5.3 .4 3.5 1.6 2.4 3 0 3.5-1.1 1.7-2.2 1.8-2.6 1.1-3.5 .4-5.3-1"/></g></g><rect width="633.6" height="140.8" fill="none" stroke="#000" stroke-width="2.7"/></g><g stroke="#000" stroke-linecap="butt"><line x1="102.2" y1="683.6" x2="102.2" y2="677.1" stroke-width="2.6"/><line x1="102.2" y1="824.4" x2="102.2" y2="830.9" stroke-width="2.6"/><line x1="119.8" y1="683.6" x2="119.8" y2="680.4" stroke-width="2.0"/><line x1="119.8" y1="824.4" x2="119.8" y2="827.6" stroke-width="2.0"/><line x1="137.4" y1="683.6" x2="137.4" y2="680.4" stroke-width="2.0"/><line x1="137.4" y1="824.4" x2="137.4" y2="827.6" stroke-width="2.0"/><line x1="155" y1="683.6" x2="155" y2="680.4" stroke-width="2.0"/><line x1="155" y1="824.4" x2="155" y2="827.6" stroke-width="2.0"/><line x1="172.6" y1="683.6" x2="172.6" y2="680.4" stroke-width="2.0"/><line x1="172.6" y1="824.4" x2="172.6" y2="827.6" stroke-width="2.0"/><line x1="190.2" y1="683.6" x2="190.2" y2="680.4" stroke-width="2.0"/><line x1="190.2" y1="824.4" x2="190.2" y2="827.6" stroke-width="2.0"/><line x1="207.8" y1="683.6" x2="207.8" y2="677.1" stroke-width="2.6"/><line x1="207.8" y1="824.4" x2="207.8" y2="830.9" stroke-width="2.6"/><line x1="225.4" y1="683.6" x2="225.4" y2="680.4" stroke-width="2.0"/><line x1="225.4" y1="824.4" x2="225.4" y2="827.6" stroke-width="2.0"/><line x1="243" y1="683.6" x2="243" y2="680.4" stroke-width="2.0"/><line x1="243" y1="824.4" x2="243" y2="827.6" stroke-width="2.0"/><line x1="260.6" y1="683.6" x2="260.6" y2="680.4" stroke-width="2.0"/><line x1="260.6" y1="824.4" x2="260.6" y2="827.6" stroke-width="2.0"/><line x1="278.2" y1="683.6" x2="278.2" y2="680.4" stroke-width="2.0"/><line x1="278.2" y1="824.4" x2="278.2" y2="827.6" stroke-width="2.0"/><line x1="295.8" y1="683.6" x2="295.8" y2="680.4" stroke-width="2.0"/><line x1="295.8" y1="824.4" x2="295.8" y2="827.6" stroke-width="2.0"/><line x1="313.4" y1="683.6" x2="313.4" y2="677.1" stroke-width="2.6"/><line x1="313.4" y1="824.4" x2="313.4" y2="830.9" stroke-width="2.6"/><line x1="331" y1="683.6" x2="331" y2="680.4" stroke-width="2.0"/><line x1="331" y1="824.4" x2="331" y2="827.6" stroke-width="2.0"/><line x1="348.6" y1="683.6" x2="348.6" y2="680.4" stroke-width="2.0"/><line x1="348.6" y1="824.4" x2="348.6" y2="827.6" stroke-width="2.0"/><line x1="366.2" y1="683.6" x2="366.2" y2="680.4" stroke-width="2.0"/><line x1="366.2" y1="824.4" x2="366.2" y2="827.6" stroke-width="2.0"/><line x1="383.8" y1="683.6" x2="383.8" y2="680.4" stroke-width="2.0"/><line x1="383.8" y1="824.4" x2="383.8" y2="827.6" stroke-width="2.0"/><line x1="401.4" y1="683.6" x2="401.4" y2="680.4" stroke-width="2.0"/><line x1="401.4" y1="824.4" x2="401.4" y2="827.6" stroke-width="2.0"/><line x1="419" y1="683.6" x2="419" y2="677.1" stroke-width="2.6"/><line x1="419" y1="824.4" x2="419" y2="830.9" stroke-width="2.6"/><line x1="436.6" y1="683.6" x2="436.6" y2="680.4" stroke-width="2.0"/><line x1="436.6" y1="824.4" x2="436.6" y2="827.6" stroke-width="2.0"/><line x1="454.2" y1="683.6" x2="454.2" y2="680.4" stroke-width="2.0"/><line x1="454.2" y1="824.4" x2="454.2" y2="827.6" stroke-width="2.0"/><line x1="471.8" y1="683.6" x2="471.8" y2="680.4" stroke-width="2.0"/><line x1="471.8" y1="824.4" x2="471.8" y2="827.6" stroke-width="2.0"/><line x1="489.4" y1="683.6" x2="489.4" y2="680.4" stroke-width="2.0"/><line x1="489.4" y1="824.4" x2="489.4" y2="827.6" stroke-width="2.0"/><line x1="507" y1="683.6" x2="507" y2="680.4" stroke-width="2.0"/><line x1="507" y1="824.4" x2="507" y2="827.6" stroke-width="2.0"/><line x1="524.6" y1="683.6" x2="524.6" y2="677.1" stroke-width="2.6"/><line x1="524.6" y1="824.4" x2="524.6" y2="830.9" stroke-width="2.6"/><line x1="542.2" y1="683.6" x2="542.2" y2="680.4" stroke-width="2.0"/><line x1="542.2" y1="824.4" x2="542.2" y2="827.6" stroke-width="2.0"/><line x1="559.8" y1="683.6" x2="559.8" y2="680.4" stroke-width="2.0"/><line x1="559.8" y1="824.4" x2="559.8" y2="827.6" stroke-width="2.0"/><line x1="577.4" y1="683.6" x2="577.4" y2="680.4" stroke-width="2.0"/><line x1="577.4" y1="824.4" x2="577.4" y2="827.6" stroke-width="2.0"/><line x1="595" y1="683.6" x2="595" y2="680.4" stroke-width="2.0"/><line x1="595" y1="824.4" x2="595" y2="827.6" stroke-width="2.0"/><line x1="612.6" y1="683.6" x2="612.6" y2="680.4" stroke-width="2.0"/><line x1="612.6" y1="824.4" x2="612.6" y2="827.6" stroke-width="2.0"/><line x1="630.2" y1="683.6" x2="630.2" y2="677.1" stroke-width="2.6"/><line x1="630.2" y1="824.4" x2="630.2" y2="830.9" stroke-width="2.6"/><line x1="647.8" y1="683.6" x2="647.8" y2="680.4" stroke-width="2.0"/><line x1="647.8" y1="824.4" x2="647.8" y2="827.6" stroke-width="2.0"/><line x1="665.4" y1="683.6" x2="665.4" y2="680.4" stroke-width="2.0"/><line x1="665.4" y1="824.4" x2="665.4" y2="827.6" stroke-width="2.0"/><line x1="683" y1="683.6" x2="683" y2="680.4" stroke-width="2.0"/><line x1="683" y1="824.4" x2="683" y2="827.6" stroke-width="2.0"/><line x1="700.6" y1="683.6" x2="700.6" y2="680.4" stroke-width="2.0"/><line x1="700.6" y1="824.4" x2="700.6" y2="827.6" stroke-width="2.0"/><line x1="718.2" y1="683.6" x2="718.2" y2="680.4" stroke-width="2.0"/><line x1="718.2" y1="824.4" x2="718.2" y2="827.6" stroke-width="2.0"/><line x1="735.8" y1="683.6" x2="735.8" y2="677.1" stroke-width="2.6"/><line x1="735.8" y1="824.4" x2="735.8" y2="830.9" stroke-width="2.6"/><line x1="102.2" y1="683.6" x2="99" y2="683.6" stroke-width="2.0"/><line x1="735.8" y1="683.6" x2="739" y2="683.6" stroke-width="2.0"/><line x1="102.2" y1="701.2" x2="96.2" y2="701.2" stroke-width="2.6"/><line x1="735.8" y1="701.2" x2="741.8" y2="701.2" stroke-width="2.6"/><line x1="102.2" y1="718.8" x2="99" y2="718.8" stroke-width="2.0"/><line x1="735.8" y1="718.8" x2="739" y2="718.8" stroke-width="2.0"/><line x1="102.2" y1="736.4" x2="99" y2="736.4" stroke-width="2.0"/><line x1="735.8" y1="736.4" x2="739" y2="736.4" stroke-width="2.0"/><line x1="102.2" y1="754" x2="96.2" y2="754" stroke-width="2.6"/><line x1="735.8" y1="754" x2="741.8" y2="754" stroke-width="2.6"/><line x1="102.2" y1="771.6" x2="99" y2="771.6" stroke-width="2.0"/><line x1="735.8" y1="771.6" x2="739" y2="771.6" stroke-width="2.0"/><line x1="102.2" y1="789.2" x2="99" y2="789.2" stroke-width="2.0"/><line x1="735.8" y1="789.2" x2="739" y2="789.2" stroke-width="2.0"/><line x1="102.2" y1="806.8" x2="96.2" y2="806.8" stroke-width="2.6"/><line x1="735.8" y1="806.8" x2="741.8" y2="806.8" stroke-width="2.6"/><line x1="102.2" y1="824.4" x2="99" y2="824.4" stroke-width="2.0"/><line x1="735.8" y1="824.4" x2="739" y2="824.4" stroke-width="2.0"/></g><text x="100.9" y="675.4" style="font-family:'Liberation Sans',Arial,Helvetica,sans-serif;font-size:35.2px">19-Feb to 23-Feb</text><g transform="translate(844.8,39.2)"><g clip-path="url(#pc)"><rect width="633.6" height="140.8" fill="#f7f7f7"/><path fill="#2166ac" fill-rule="evenodd" d="M387 124l2 0 1-3 0-3-2-4-4-3-4-1-2 0 0 4 2 4 4 4z"/><path fill="#4393c3" fill-rule="evenodd" d="M394 134l4 1 2-1 0-2-2-5-7-14-4-3-3-3-7-3-4 0-1 2 1 3 4 9 5 6zM386 123l-4-2-4-5 0-3 0-3 2 0 4 1 2 2 3 3 1 4 0 3-1 1zM294 128l2 0 1-1 1-2-1-3-1-1-3 0-2 2 1 4zM470 28l2 0 2-2 1-2 1-3-1-2-2-3-3-1-4 2-1 4 0 4 1 1 2 2zM590 14l5 1 5-2 3-2 0-4-3-3-3-1-6 0-3 1-2 1-2 4 2 3z"/><path fill="#92c5de" fill-rule="evenodd" d="M403 145l2 0 2-1 1-1 0-6-6-12-9-14-4-4-11-7-15-11-4-2-2-1-1 2 1 4 20 30 15 16 6 4zM394 134l-12-10-5-6-4-9-1-3 1-2 4 0 7 3 5 4 2 3 7 13 2 5 0 2-2 1zM292 131l4 0 1-1 3-2 1-3-1-4-1-1-3-3-4-2-3 2-2 4 1 6 1 1zM292 127l-1-2 0-2 2-2 3 0 1 1 1 3-1 2-1 1-2 0zM466 34l6 1 3-1 4-4 3-5 0-6-1-5-2-4-6-3-5 0-3 2-4 3-2 4-1 5 1 5 4 6zM469 28l-3-2-1-1 0-4 1-4 2-1 4-1 1 1 2 3 1 4-3 4-1 1zM185 30l3 1 4-1 1-2 0-3-3-2-4 0-2 2-1 1zM315 23l11 0 7-2 3-2 2-3 0-4-1-3-3-3-3-2-9-4-9 1-7 2-4 6-1 3 1 4 4 4zM586 21l5 1 7 0 6-1 5-3 3-4 2-3 0-4-2-3-3-3-4-2-8-3-9 1-5 1-3 2-3 2-2 3 0 4 0 3 2 4 2 2zM589 14l-3-2-2-3 2-4 2-1 3-1 6 0 3 1 3 3 0 4-1 1-3 2-6 1z"/><path fill="#d1e5f0" fill-rule="evenodd" d="M396 147l1 1 22 0-4-14 0-6 0-7-1-3-4-5-7-6-7-3-12-5-6-3-22-20-4-4 0-2 2-1 3-1 37-2 11-3 3-1-3-2-5-1-18-2-49-2-6 1-2 2 0 2 1 2 12 8 3 4 9 14 18 23 9 14 12 15zM402 144l-4-2-6-4-15-16-20-30-1-4 1-2 2 1 4 2 15 11 11 7 4 4 9 14 6 12 0 6-1 1-2 1zM150 143l7 1 7-1 5-3 2-1 0-2 0-1-4-2-16-4-5-2-3-3-7-12-9-11-13-9-5-3-3 0-2 2 1 3 2 5 4 6 12 12 13 10 1 2 3 7 1 2 3 2zM438 137l6 1 5-2 5-6 4-9 1-7-2-5-5-5-5-3-3 0-4 0-6 3-7 7-3 7 0 5 3 5 5 6zM287 136l5 1 5-1 5-4 3-5 0-6-3-7-5-4-5-3-3 0-4 2-3 4-2 5 0 5 1 5 2 5zM291 130l-3-3-1-6 2-4 3-2 4 2 3 3 1 1 1 4-1 3-3 2-3 1zM510 108l7 0 7-1 7-3 6-5 4-6 2-5 0-5-3-5-5-3-3 0-6 0-9 2-8 7-4 4-2 4-1 7 2 5 3 2zM9 104l2 0 2-4 1-3 1-5-1-6-1-3-2-3-2 0-2 0-2 3-2 3 0 6 0 5 1 3 3 4zM641 104l0-24-2 2-2 2-1 8 1 7 2 3zM187 50l1 0 4-1 2-1 2-4 4-16-1-3-2-4-3-3-11-6-7-3-7-1-7 0-6 1-4 2 0 1 4 2 8 2 14 2 1 1-1 6 0 5 3 13 2 4zM185 30l-2-4 1-1 2-2 4 0 3 2 0 3-1 2-4 1zM577 50l2 1 4 0 2-2 2-1 2-4 1-8 1-2 18-5 7-4 5-6 2-5 1-7-3-7-5-5-4-2-36 0-6 5-3 7 0 9 2 7 7 9 0 2-2 7-1 3 1 4zM585 21l-6-3-3-4-1-3 0-4 1-3 5-5 3-1 6-2 8 1 9 3 3 2 3 3 1 4-1 3-2 4-4 3-5 2-5 1-6 0zM470 42l7-1 7-6 6-9 2-8-2-9-4-7-4-3-3-1-7-1-9 1-7 4-3 3-2 4-2 7 1 5 1 5 5 9 3 3 4 3zM465 33l-4-3-2-5-1-6 1-4 3-4 4-3 6-1 3 1 4 3 3 5 0 5-1 5-3 6-5 2-5 1zM308 37l12 0 13-1 8-3 7-5 3-3 1-4 1-7-3-9-5-7-4-3-4-2-34 0-14 4-16 4-7 3-8 5-4 5-1 5 2 5 5 4 6 4 7 2 7 1zM315 23l-9-3-4-4-1-4 1-3 4-6 7-2 9-1 9 4 3 2 3 3 1 3 0 4-2 3-3 2-4 2-5 1z"/><path fill="#fddbc7" fill-rule="evenodd" d="M368 147l2 1 7 0 2-2 0-3-2-9-11-21-28-32-9-9-7-4-9-2-5 0-5 3-4 5-2 9 1 9 4 7 4 3 4 2 10 2 6 2 24 26 9 8zM358 130l-4-2-5-5-23-28-4-2-8-3-3-2-2-4 0-3 1-3 2-2 1-1 4 0 3 1 6 3 15 13 14 14 9 8 3 4 1 3-1 7-1 3-2 1-3-1zM503 143l13 0 10-2 6-2 2-2 2-1 0-2 0-2-2-2-4-2-7-1-9-1-11 0-7 1-5 2-4 3 0 2 0 2 3 3 6 2zM97 137l3 1 4-1 3-1 2-4 1-4-1-3-3-4-2-1-4-1-3 1-3 1-3 4 0 3 0 4 2 3zM257 125l9 2 3-1 3-3 2-3 2-11 0-12-2-7-1-3-2-1-3 0-5 4-3 5-4 9-2 7-1 7 2 5zM265 118l-3-5 0-6 2-5 2-2 2-1 1 1 2 2 1 5 0 6-1 4-2 2-1 0zM229 122l3 0 4-2 2-3 0-3 0-3-1-4-1-1-4-3-3 0-2 1-3 3-1 4 0 3 1 4 1 2zM151 111l2 1 2-1 2-1 1-3-1-5-2-2-2-1-2 1-2 4 0 3zM132 78l7 1 9-1 5-1 2-1 1-2-1-2-5-3-7-1-7 1-8 2-1 1-1 2 1 2zM556 55l4 0 3-2 0-3-2-2-1-1-4 0-2 1-1 1-1 2 1 2zM144 51l6 1 3-2 4-3 2-5 1-7-2-5-2-4-5-2-5 0-5 1-5 4-4 6 1 5 2 4 5 5zM138 39l-1-2 1-2 1 0 3 0 1 2-1 2-3 0zM19 48l9 1 9-2 9-5 5-5 3-7 0-7-3-7-3-4-4-3-9-3-9-1-5 2-3 2-6 6-3 6-2 7-1 5 1 4 1 3 3 3 3 3zM22 28l-2-2 0-1 1-3 2-1 2 1 1 1 1 2-1 1-1 2zM81 37l3 0 4-1 3-3 2-3 0-4-1-3-2-2-4-2-5 0-4 1-2 3-2 3 0 4 2 3 2 3zM641 38l0-10-1 5zM422 36l2 0 3-1 2-3-2-4-3-2-3 1-2 3 0 3zM528 28l9 1 7-2 7-4 3-4 3-7 0-8-1-6-5-5-34 0-6 5-2 4-1 5 0 5 3 6 3 4 3 3 6 2zM528 19l-5-2-4-5 0-5 3-5 6-4 7-1 7 1 5 4 2 3 0 4 0 3-3 4-4 3-5 1-5 0zM391 25l9-1 7-2 5-3 5-5 3-5 1-5-1-6-3-5-15 0 5 3 2 4 1 4-1 3-2 4-5 3-6 2-5 1-6-1-5-2-4-3-2-4-1-3 0-4 2-4 5-3-14 0-2 5 0 6 1 5 3 5 3 4 6 3 7 3z"/><path fill="#f4a582" fill-rule="evenodd" d="M359 131l5 1 2-1 1-3 1-7-1-3-3-4-9-8-14-14-15-13-6-3-3-1-4 0-1 1-2 2-1 3 0 3 2 4 3 2 8 3 4 2 23 28 5 5zM357 123l-2-2-2-3 0-4 3-1 1 0 4 1 2 2 1 4-1 3-2 1zM266 119l2 0 2-1 2-4 0-3 0-5-1-4-2-2-1-1-2 1-2 2-2 7 1 5zM139 39l3 0 1-2-2-2-2 0-2 2 1 2zM23 28l2 0 1-2 1-1-1-2-1-1-2-1-2 1-1 3 1 3zM528 19l4 1 5 0 5-1 4-3 3-4 0-3 0-4-2-3-5-4-7-1-7 1-6 4-3 5 0 5 4 5zM385 16l6 1 5-1 5-1 4-3 3-3 2-4-1-5-2-4-5-3-22 0-3 2-4 5 0 4 1 3 2 4 2 2zM388 9l-3-2-2-2 0-3 1-2 3-2 4 0 3 0 3 2 2 4-2 3-5 2z"/><path fill="#d6604d" fill-rule="evenodd" d="M357 123l4 1 2-1 1-3-1-4-2-2-4-1-1 0-3 1 0 4 2 3zM389 9l5 0 3-2 2-3-2-4-3-2-3 0-4 0-3 2-1 2 0 3 2 3z"/><use href="#coast"/><path d="M0 70.4 H633.6 M316.8 0 V140.8" stroke="#333" stroke-width="1.6" stroke-dasharray="5 4" fill="none"/><g fill="none" stroke="#a020f0" stroke-width="2"><path d="M44 -7l-2.1 1.7-.5 1.8 .5 1.7 2.1 1.8 5.3 1.2 5.3-1.2 2-1.8 .6-1.7-.6-1.8-2-1.7M366.9 -7l.6 7 1.2 5.3 2.1 5.3 3.2 5.2 4.4 4.7 3.5 2.4 3.5 1.4 5.3 .8 5.3-.8 3.5-1.4 3.5-2.4 4.5-4.7 3.2-5.2 2-5.3 1.3-5.3 .6-7M521.2 -7l.5 7 1.1 5.3 2.6 7 2.6 4.5 3.5 4.1 3.5 2.8 3.6 1.7 5.2 .9 5.3-.9 3.5-1.7 3.6-2.8 3.5-4.4 2-4.2 1.1-3.5 1.8-15.8M311.5 83l5.3 .4 5.3-.4 1.2-.3 2.4-1.7-3.5-1.8-5.4-.4-5.4 .4-3.5 1.8 2.4 1.7 1.2 .3"/><path d="M379 -7l.7 5.2 2.2 5.3 3.5 3.6 1.8 1 3.5 .7 3.5-.7 1.8-1 3.5-3.6 2.3-5.3 .7-5.2M532.7 -7l1.1 7 2.7 5.3 3.8 3.3 3.5 .8 3.6-.9 3.6-3.2 2.5-5.3 1.1-7"/><path stroke-dasharray="7 4.5" d="M310.4 147.8l-2.4-1.7-.7-1.8 .7-1.7 3.5-2.2 5.3-.8 5.3 .8 3.5 2.2 .7 1.7-.7 1.8-2.4 1.7M315.9 -7l2 3.5 .7 3.5-.7 3.5-1.1 2.3-2.7 3-2.6 1.8-3.5 1.3-5.3 .8-5.3-.8-3.4-1.3-2.7-1.8-2.7-3-1.1-2.3-.6-3.5 .6-3.5 2.1-3.5M602.4 -7l2 1.7 1 1.8 0 3.5-1 1.8-4.2 2.9-3.6 1-3.5 .2-5.3-1.3-3.7-2.8-.8-1.8 0-3.5 2.7-3.5M528 136l-1.4-.5-.9-1.7 .5-1.4 1.8-.9 1.8 .9 .5 1.4-.9 1.7-1.4 .5M82.7 72.3l-3.5-1.1-3.5-1.9-2.4-2.4-.9-1.8 0-3.5 .9-1.8 4-3.5 7.2-2.2 7 0 7.1 2.2 4.1 3.5 .9 1.8 0 3.5-2.4 3.5-2.5 1.8-7.2 2.2-5.3 .2-3.5-.5M311.5 66.9l-12.3-.9-8.8-1.6-3.5-1-2.9-1.8 0-1.8 2.8-1.7 8.9-2.1 10.5-1.2 12.4-.4 12.3 .4 10.5 1.2 8.7 2.1 2.8 1.7 0 1.8-2.7 1.8-7 1.8-15.8 1.6-15.9 .1"/></g></g><rect width="633.6" height="140.8" fill="none" stroke="#000" stroke-width="2.7"/></g><g stroke="#000" stroke-linecap="butt"><line x1="844.8" y1="39.2" x2="844.8" y2="32.7" stroke-width="2.6"/><line x1="844.8" y1="180" x2="844.8" y2="186.5" stroke-width="2.6"/><line x1="862.4" y1="39.2" x2="862.4" y2="36" stroke-width="2.0"/><line x1="862.4" y1="180" x2="862.4" y2="183.2" stroke-width="2.0"/><line x1="880" y1="39.2" x2="880" y2="36" stroke-width="2.0"/><line x1="880" y1="180" x2="880" y2="183.2" stroke-width="2.0"/><line x1="897.6" y1="39.2" x2="897.6" y2="36" stroke-width="2.0"/><line x1="897.6" y1="180" x2="897.6" y2="183.2" stroke-width="2.0"/><line x1="915.2" y1="39.2" x2="915.2" y2="36" stroke-width="2.0"/><line x1="915.2" y1="180" x2="915.2" y2="183.2" stroke-width="2.0"/><line x1="932.8" y1="39.2" x2="932.8" y2="36" stroke-width="2.0"/><line x1="932.8" y1="180" x2="932.8" y2="183.2" stroke-width="2.0"/><line x1="950.4" y1="39.2" x2="950.4" y2="32.7" stroke-width="2.6"/><line x1="950.4" y1="180" x2="950.4" y2="186.5" stroke-width="2.6"/><line x1="968" y1="39.2" x2="968" y2="36" stroke-width="2.0"/><line x1="968" y1="180" x2="968" y2="183.2" stroke-width="2.0"/><line x1="985.6" y1="39.2" x2="985.6" y2="36" stroke-width="2.0"/><line x1="985.6" y1="180" x2="985.6" y2="183.2" stroke-width="2.0"/><line x1="1003.2" y1="39.2" x2="1003.2" y2="36" stroke-width="2.0"/><line x1="1003.2" y1="180" x2="1003.2" y2="183.2" stroke-width="2.0"/><line x1="1020.8" y1="39.2" x2="1020.8" y2="36" stroke-width="2.0"/><line x1="1020.8" y1="180" x2="1020.8" y2="183.2" stroke-width="2.0"/><line x1="1038.4" y1="39.2" x2="1038.4" y2="36" stroke-width="2.0"/><line x1="1038.4" y1="180" x2="1038.4" y2="183.2" stroke-width="2.0"/><line x1="1056" y1="39.2" x2="1056" y2="32.7" stroke-width="2.6"/><line x1="1056" y1="180" x2="1056" y2="186.5" stroke-width="2.6"/><line x1="1073.6" y1="39.2" x2="1073.6" y2="36" stroke-width="2.0"/><line x1="1073.6" y1="180" x2="1073.6" y2="183.2" stroke-width="2.0"/><line x1="1091.2" y1="39.2" x2="1091.2" y2="36" stroke-width="2.0"/><line x1="1091.2" y1="180" x2="1091.2" y2="183.2" stroke-width="2.0"/><line x1="1108.8" y1="39.2" x2="1108.8" y2="36" stroke-width="2.0"/><line x1="1108.8" y1="180" x2="1108.8" y2="183.2" stroke-width="2.0"/><line x1="1126.4" y1="39.2" x2="1126.4" y2="36" stroke-width="2.0"/><line x1="1126.4" y1="180" x2="1126.4" y2="183.2" stroke-width="2.0"/><line x1="1144" y1="39.2" x2="1144" y2="36" stroke-width="2.0"/><line x1="1144" y1="180" x2="1144" y2="183.2" stroke-width="2.0"/><line x1="1161.6" y1="39.2" x2="1161.6" y2="32.7" stroke-width="2.6"/><line x1="1161.6" y1="180" x2="1161.6" y2="186.5" stroke-width="2.6"/><line x1="1179.2" y1="39.2" x2="1179.2" y2="36" stroke-width="2.0"/><line x1="1179.2" y1="180" x2="1179.2" y2="183.2" stroke-width="2.0"/><line x1="1196.8" y1="39.2" x2="1196.8" y2="36" stroke-width="2.0"/><line x1="1196.8" y1="180" x2="1196.8" y2="183.2" stroke-width="2.0"/><line x1="1214.4" y1="39.2" x2="1214.4" y2="36" stroke-width="2.0"/><line x1="1214.4" y1="180" x2="1214.4" y2="183.2" stroke-width="2.0"/><line x1="1232" y1="39.2" x2="1232" y2="36" stroke-width="2.0"/><line x1="1232" y1="180" x2="1232" y2="183.2" stroke-width="2.0"/><line x1="1249.6" y1="39.2" x2="1249.6" y2="36" stroke-width="2.0"/><line x1="1249.6" y1="180" x2="1249.6" y2="183.2" stroke-width="2.0"/><line x1="1267.2" y1="39.2" x2="1267.2" y2="32.7" stroke-width="2.6"/><line x1="1267.2" y1="180" x2="1267.2" y2="186.5" stroke-width="2.6"/><line x1="1284.8" y1="39.2" x2="1284.8" y2="36" stroke-width="2.0"/><line x1="1284.8" y1="180" x2="1284.8" y2="183.2" stroke-width="2.0"/><line x1="1302.4" y1="39.2" x2="1302.4" y2="36" stroke-width="2.0"/><line x1="1302.4" y1="180" x2="1302.4" y2="183.2" stroke-width="2.0"/><line x1="1320" y1="39.2" x2="1320" y2="36" stroke-width="2.0"/><line x1="1320" y1="180" x2="1320" y2="183.2" stroke-width="2.0"/><line x1="1337.6" y1="39.2" x2="1337.6" y2="36" stroke-width="2.0"/><line x1="1337.6" y1="180" x2="1337.6" y2="183.2" stroke-width="2.0"/><line x1="1355.2" y1="39.2" x2="1355.2" y2="36" stroke-width="2.0"/><line x1="1355.2" y1="180" x2="1355.2" y2="183.2" stroke-width="2.0"/><line x1="1372.8" y1="39.2" x2="1372.8" y2="32.7" stroke-width="2.6"/><line x1="1372.8" y1="180" x2="1372.8" y2="186.5" stroke-width="2.6"/><line x1="1390.4" y1="39.2" x2="1390.4" y2="36" stroke-width="2.0"/><line x1="1390.4" y1="180" x2="1390.4" y2="183.2" stroke-width="2.0"/><line x1="1408" y1="39.2" x2="1408" y2="36" stroke-width="2.0"/><line x1="1408" y1="180" x2="1408" y2="183.2" stroke-width="2.0"/><line x1="1425.6" y1="39.2" x2="1425.6" y2="36" stroke-width="2.0"/><line x1="1425.6" y1="180" x2="1425.6" y2="183.2" stroke-width="2.0"/><line x1="1443.2" y1="39.2" x2="1443.2" y2="36" stroke-width="2.0"/><line x1="1443.2" y1="180" x2="1443.2" y2="183.2" stroke-width="2.0"/><line x1="1460.8" y1="39.2" x2="1460.8" y2="36" stroke-width="2.0"/><line x1="1460.8" y1="180" x2="1460.8" y2="183.2" stroke-width="2.0"/><line x1="1478.4" y1="39.2" x2="1478.4" y2="32.7" stroke-width="2.6"/><line x1="1478.4" y1="180" x2="1478.4" y2="186.5" stroke-width="2.6"/><line x1="844.8" y1="39.2" x2="841.6" y2="39.2" stroke-width="2.0"/><line x1="1478.4" y1="39.2" x2="1481.6" y2="39.2" stroke-width="2.0"/><line x1="844.8" y1="56.8" x2="838.8" y2="56.8" stroke-width="2.6"/><line x1="1478.4" y1="56.8" x2="1484.4" y2="56.8" stroke-width="2.6"/><line x1="844.8" y1="74.4" x2="841.6" y2="74.4" stroke-width="2.0"/><line x1="1478.4" y1="74.4" x2="1481.6" y2="74.4" stroke-width="2.0"/><line x1="844.8" y1="92" x2="841.6" y2="92" stroke-width="2.0"/><line x1="1478.4" y1="92" x2="1481.6" y2="92" stroke-width="2.0"/><line x1="844.8" y1="109.6" x2="838.8" y2="109.6" stroke-width="2.6"/><line x1="1478.4" y1="109.6" x2="1484.4" y2="109.6" stroke-width="2.6"/><line x1="844.8" y1="127.2" x2="841.6" y2="127.2" stroke-width="2.0"/><line x1="1478.4" y1="127.2" x2="1481.6" y2="127.2" stroke-width="2.0"/><line x1="844.8" y1="144.8" x2="841.6" y2="144.8" stroke-width="2.0"/><line x1="1478.4" y1="144.8" x2="1481.6" y2="144.8" stroke-width="2.0"/><line x1="844.8" y1="162.4" x2="838.8" y2="162.4" stroke-width="2.6"/><line x1="1478.4" y1="162.4" x2="1484.4" y2="162.4" stroke-width="2.6"/><line x1="844.8" y1="180" x2="841.6" y2="180" stroke-width="2.0"/><line x1="1478.4" y1="180" x2="1481.6" y2="180" stroke-width="2.0"/></g><text x="843.5" y="31" style="font-family:'Liberation Sans',Arial,Helvetica,sans-serif;font-size:35.2px">24-Feb to 28-Feb</text><g transform="translate(844.8,254)"><g clip-path="url(#pc)"><rect width="633.6" height="140.8" fill="#f7f7f7"/><path fill="#4393c3" fill-rule="evenodd" d="M382 115l2 0 1-2 0-7-1-6-2-4-2-2-2-1-1 2-1 2 0 7 2 7 2 3zM315 66l5 0 3-1 1-2 0-1-3-2-6-1-2 1-1 2 0 1z"/><path fill="#92c5de" fill-rule="evenodd" d="M382 122l2 0 1 0 2-2 2-6-1-8-2-7-5-16-3-3-3-1-2 2 0 2 1 21 3 10 3 6zM381 114l-3-3-2-7 0-7 1-2 1-2 2 1 2 3 2 5 1 5 0 4-1 3-2 1zM312 69l7 1 7-1 6-4 2-2 0-1-1-2-2-2-11-4-8-2-4 0-4 2-3 2-1 2 0 4 4 3zM314 65l-2-2 0-1 1-2 2-1 6 1 3 2 0 1-1 2-3 1-3 0zM315 18l4 0 3-2 2-2-1-2-3-1-5 1-2 4 1 2zM-5 14l5-1 1-1 0-1-8-7 0 11zM609 14l7 2 7 0 11-3 0-1 0-1-11-9-5-2-7 0-4 1-3 1-3 3 0 2 1 4 2 1z"/><path fill="#d1e5f0" fill-rule="evenodd" d="M134 141l9-1 3-1 4-3 1-4 1-4-2-3-2-3-5-2-7-1-8 2-5 3-1 3-1 3 0 3 2 3 4 3zM387 134l14-2 6-3 3-4 4-7 0-7-2-5-5-9 0-2 0-2 2-1 13-8 1-1-1-2-1-2-7-3-21-9-4-5-5-3-14-3-30-3-7-2-7-3-1-2-1-4 3-5 4-4 12-7 6-5 1-3 1-4-2-7-2-5-4-3-5-3-5-2-4-1-27 0-4 3-2 5-4 13-1 12 1 20-3 10 1 6 3 3 3 2 5 3 7 2 12 2 14-1 5 1 10 7 17 7 2 2 1 3 3 16 4 12 2 5 4 5zM382 121l-3-3-2-4-3-10-1-21 0-2 2-2 3 1 3 3 5 16 2 7 1 8-2 6-2 2-1 0zM311 69l-7-4-4-3 0-2 1-4 5-3 7-1 9 3 9 3 2 2 1 2 0 1-2 2-6 4-7 1zM314 18l-1-3 2-3 5-1 3 1 1 2-1 2-3 1-3 1zM577 120l4 0 3-1 2-3 1-3-1-4-2-4-3-3-4 0-3 0-2 2-3 3 0 4 2 5zM276 118l2 1 2-2-1-3-1 0-2 0 0 2zM107 116l6 1 2-1 1-2 1-1-1-4-2-2-3-2-4 0-1 0-3 4 0 4 1 1zM12 113l2 0 2 0 2-3 1-4 0-6-1-3-2-2-2-1-2 1-1 2-2 5 1 7zM51 104l4 1 3-1 4-2 1-2 0-3-1-4-4-3-3-1-5 1-4 2-2 2-1 3 2 3 3 3zM176 103l4 0 2-3 0-3-2-3-4 0-3 3 0 3zM201 94l3 0 2-2 1-4-3-3-3 0-3 3 0 4zM576 78l3 1 5 0 5-2 1-1-1-2-3-1-9 0-3 1-1 2 1 1zM95 71l4-1 3-1 0-2-3-2-4 1-2 1-1 2zM405 58l7 1 9-2 4-2 1-2 0-2-4-2-5-1-5 0-6 1-4 2-2 4 0 1 1 1zM187 54l1 0 4 0 2-2 2-3 1-3 0-4-1-3-3-2-3-1-3 1-2 2-2 3-1 4 1 3 2 3zM-7 51l3-2 2-2 2-7 2-12 2-3 7-7 1-6-2-5-3-4-14-8 0 9 8 7 0 1-8 3zM627 51l3-2 2-3 2-6 1-12 2-3 4-3 0-19-13-7-8-3-13 0-9 3-5 4-2 4-1 3 1 4 2 3 4 3 5 2 10 4 4 3 2 4 1 10 2 6 2 3zM608 14l-6-3-1-4 0-2 3-3 3-1 4-1 7 0 5 2 11 9 0 1 0 1-11 3-7 0zM215 32l4 0 4-2 2-3 0-2-2-2-3-1-4 0-3 2-2 2 0 2 0 2zM150 18l7 1 8-1 6-2 1-2-1-2-6-2-7-1-7 1-5 2-2 2 1 2z"/><path fill="#fddbc7" fill-rule="evenodd" d="M185 143l5 0 7-1 5-2 4-3 3-3 0-4-1-3-4-7-19 1-5 2-4 3-2 4 0 6 4 4zM561 139l4 0 2-1 1-2 1-2-2-4-2-2-5-1-4 1-1 2-1 4 3 3zM340 132l7 1 7-1 4-4 3-5 1-9-3-8-3-7-6-6-7-4-23-10-12-3-30-2-5 2-6 5-3 5-1 6 2 5 4 3 13 4 8 6 16 5 21 12zM340 121l-6-1-5-3-17-13-6-3-16-4-5-2-2-3-1-2 2-4 4-3 6-3 7-1 7 0 6 2 10 7 16 6 5 4 3 4 3 5 1 6-1 3-3 4-3 1zM106 129l2-1 1-1-2-2-1 1-1 1zM204 119l7-1 5-3 3-4 0-4-1-1-3-3-4 0-3 0-4 3-1 1-1 4 0 5zM72 87l2 0 2-2 1-4 1-5-2-16-2-5-2-1-2 0-2 2-1 16 0 5 2 6 1 3zM121 83l11 0 8-2 3-2 2-2 0-1 0-2-4-3-7-2-7-1-7 1-6 3-2 4-1 1 1 2 2 2zM537 83l9 0 3-2 3-2 1-2 1-3 0-4-2-1-5-3-7-1-7 1-5 3-2 3 0 4 1 1 4 4zM436 71l6 0 5 0 4-2 0-2-1-2-5-1-7 0-4 1-2 2 1 2zM46 58l3 1 6 0 4-3 1-1-1-2-4-3-4 0-3 0-4 2-1 3 1 1zM99 51l3 0 4-1 2-2 1-4 0-4-1-3-2-2-4-2-3 0-4 2-2 2-2 3 0 4 2 4 2 2zM218 48l4 1 7-2 7-2 9-5 6-5 5-5 2-4 1-1-1-2-3-1-3 0-9 3-12 11-11 6-2 4zM584 41l6 1 5-2 2-1 0-2 0-2-2-2-4-1-3 0-4 1-2 2 0 2 0 2zM547 29l4 1 5-1 5-4 5-6 3-5 3-7 0-7-1-7-11 0 3 1 3 2 1 4 0 5-2 6-4 5-3 3-4 1-3 0-2-2-2-6 0-5 2-5 2-4 3-4 4-1-11 0-1 2-3 5-2 5-1 9 1 5 1 4 2 3zM188 21l2 1 4 1 2-2 1-2-1-1-2-2-4 0-2 2 0 1zM385 18l7 0 8 0 7-2 5-4 3-3 2-5 0-6-3-5-42 0-2 3-1 4 0 4 1 3 3 4 4 3zM385 9l-4-4-1-3 1-4 4-3 6-2 5 0 5 2 3 3 1 2 0 4-2 3-3 2-8 1zM37 16l5 0 6-1 4-3 2-3 0-5-1-4-3-4-4-2-6-1-5 2-4 3-4 6-1 3 1 4 4 3zM38 11l-2-2-1-2-1-2 1-3 2-3 3-2 4 0 2 1 3 4 0 3 0 2-1 2-4 2-4 0z"/><path fill="#f4a582" fill-rule="evenodd" d="M341 122l4-1 4-1 2-4 1-3-1-6-3-5-3-4-5-4-16-6-10-7-6-2-7 0-7 1-6 3-4 3-2 4 1 2 2 3 5 2 16 4 6 3 17 13 7 3zM303 84l4 0-3 2zM551 20l3 0 4-1 5-5 3-5 1-5 0-4-2-4-4-3-3 0-4 1-3 4-2 4-2 5 0 5 2 6zM553 11l-1-2 0-4 2-5 4-2 3 1 2 2 1 3-1 2-1 3-2 2-4 1-2 0zM39 11l5 0 4-2 1-2 0-2 0-3-3-4-2-1-4 0-3 2-2 3-1 3 1 2 1 2zM40 7l-2-2 0-1 1-2 3-2 2 1 2 2 0 2-2 2-2 1zM385 9l4 1 5 0 7-2 3-3 1-1 0-4-1-2-3-3-5-2-5 0-6 2-4 3-1 4 1 3z"/><path fill="#d6604d" fill-rule="evenodd" d="M303 85l1 1 3-2-3 0zM554 12l2 0 4-1 3-4 1-5-3-3-1-1-3 0-3 2-1 2-1 5 1 3zM40 7l4 0 2-2 0-2-2-2-2-1-2 1-1 1-1 3z"/><use href="#coast"/><path d="M0 70.4 H633.6 M316.8 0 V140.8" stroke="#333" stroke-width="1.6" stroke-dasharray="5 4" fill="none"/><g fill="none" stroke="#a020f0" stroke-width="2"><path d="M366 -7l.8 7 1.3 5.3 2.2 5.3 2.8 4.2 3.5 3.3 3.6 2.3 5.2 2 5.3 .6 5.3-.6 5.3-2 4.4-2.8 3.6-3.5 2.7-3.5 2.6-5.3 1.9-7.1 .4-5.2M517.1 -7l.5 7 1.8 7 2.3 5.3 2.8 4.4 3.5 3.8 3.5 2.7 5.3 2.4 5.3 .7 5.3-.7 3.5-1.4 4.6-3.1 4.8-5.3 2.9-5.1 2-5.4 1.4-7.1 .3-5.2"/><path d="M378 -7l.8 5.2 3 5.3 3.6 2.9 5.3 1.4 5.3-1.3 3.8-3 3-5.3 .8-5.2M529.7 -7l1.2 7 2.4 4.5 3.5 3.3 2 1 3.3 .6 3.3-.6 2-1 3.5-3.3 2.3-4.5 1.2-7"/><path stroke-dasharray="7 4.5" d="M342.6 -7l2 5.2 .1 3.6-.8 3.5-2.5 3.8-1.8 1.5-5.2 1.7-3.5-.4-3.5-1.5-2-1.6-2.4-3.5-1.2-5.3 .5-3.5 1.7-3.5M617.5 -7l2 1.7 1.9 3.5 .2 1.8-.9 3.5-1.2 1.8-3.5 2.6-3.5 1.2-3.5 .4-4.5-.7-2.6-1.1-3.1-2.4-1.2-1.8-.6-1.7 0-3.6 1.9-3.5 1.9-1.7M325.6 68.6l-14.1-.5-15.8-2.2-7.5-2.5-2-1.8 0-1.8 2-1.7 4.4-1.8 8.4-1.8 10.5-1.2 14.1-.5 14.1 .5 10.5 1.3 7.8 1.7 4.6 1.9 1.9 1.6 .1 1.8-2 1.8-8.8 2.8-14.1 1.9-14.1 .5"/></g></g><rect width="633.6" height="140.8" fill="none" stroke="#000" stroke-width="2.7"/></g><g stroke="#000" stroke-linecap="butt"><line x1="844.8" y1="254" x2="844.8" y2="247.5" stroke-width="2.6"/><line x1="844.8" y1="394.8" x2="844.8" y2="401.3" stroke-width="2.6"/><line x1="862.4" y1="254" x2="862.4" y2="250.8" stroke-width="2.0"/><line x1="862.4" y1="394.8" x2="862.4" y2="398" stroke-width="2.0"/><line x1="880" y1="254" x2="880" y2="250.8" stroke-width="2.0"/><line x1="880" y1="394.8" x2="880" y2="398" stroke-width="2.0"/><line x1="897.6" y1="254" x2="897.6" y2="250.8" stroke-width="2.0"/><line x1="897.6" y1="394.8" x2="897.6" y2="398" stroke-width="2.0"/><line x1="915.2" y1="254" x2="915.2" y2="250.8" stroke-width="2.0"/><line x1="915.2" y1="394.8" x2="915.2" y2="398" stroke-width="2.0"/><line x1="932.8" y1="254" x2="932.8" y2="250.8" stroke-width="2.0"/><line x1="932.8" y1="394.8" x2="932.8" y2="398" stroke-width="2.0"/><line x1="950.4" y1="254" x2="950.4" y2="247.5" stroke-width="2.6"/><line x1="950.4" y1="394.8" x2="950.4" y2="401.3" stroke-width="2.6"/><line x1="968" y1="254" x2="968" y2="250.8" stroke-width="2.0"/><line x1="968" y1="394.8" x2="968" y2="398" stroke-width="2.0"/><line x1="985.6" y1="254" x2="985.6" y2="250.8" stroke-width="2.0"/><line x1="985.6" y1="394.8" x2="985.6" y2="398" stroke-width="2.0"/><line x1="1003.2" y1="254" x2="1003.2" y2="250.8" stroke-width="2.0"/><line x1="1003.2" y1="394.8" x2="1003.2" y2="398" stroke-width="2.0"/><line x1="1020.8" y1="254" x2="1020.8" y2="250.8" stroke-width="2.0"/><line x1="1020.8" y1="394.8" x2="1020.8" y2="398" stroke-width="2.0"/><line x1="1038.4" y1="254" x2="1038.4" y2="250.8" stroke-width="2.0"/><line x1="1038.4" y1="394.8" x2="1038.4" y2="398" stroke-width="2.0"/><line x1="1056" y1="254" x2="1056" y2="247.5" stroke-width="2.6"/><line x1="1056" y1="394.8" x2="1056" y2="401.3" stroke-width="2.6"/><line x1="1073.6" y1="254" x2="1073.6" y2="250.8" stroke-width="2.0"/><line x1="1073.6" y1="394.8" x2="1073.6" y2="398" stroke-width="2.0"/><line x1="1091.2" y1="254" x2="1091.2" y2="250.8" stroke-width="2.0"/><line x1="1091.2" y1="394.8" x2="1091.2" y2="398" stroke-width="2.0"/><line x1="1108.8" y1="254" x2="1108.8" y2="250.8" stroke-width="2.0"/><line x1="1108.8" y1="394.8" x2="1108.8" y2="398" stroke-width="2.0"/><line x1="1126.4" y1="254" x2="1126.4" y2="250.8" stroke-width="2.0"/><line x1="1126.4" y1="394.8" x2="1126.4" y2="398" stroke-width="2.0"/><line x1="1144" y1="254" x2="1144" y2="250.8" stroke-width="2.0"/><line x1="1144" y1="394.8" x2="1144" y2="398" stroke-width="2.0"/><line x1="1161.6" y1="254" x2="1161.6" y2="247.5" stroke-width="2.6"/><line x1="1161.6" y1="394.8" x2="1161.6" y2="401.3" stroke-width="2.6"/><line x1="1179.2" y1="254" x2="1179.2" y2="250.8" stroke-width="2.0"/><line x1="1179.2" y1="394.8" x2="1179.2" y2="398" stroke-width="2.0"/><line x1="1196.8" y1="254" x2="1196.8" y2="250.8" stroke-width="2.0"/><line x1="1196.8" y1="394.8" x2="1196.8" y2="398" stroke-width="2.0"/><line x1="1214.4" y1="254" x2="1214.4" y2="250.8" stroke-width="2.0"/><line x1="1214.4" y1="394.8" x2="1214.4" y2="398" stroke-width="2.0"/><line x1="1232" y1="254" x2="1232" y2="250.8" stroke-width="2.0"/><line x1="1232" y1="394.8" x2="1232" y2="398" stroke-width="2.0"/><line x1="1249.6" y1="254" x2="1249.6" y2="250.8" stroke-width="2.0"/><line x1="1249.6" y1="394.8" x2="1249.6" y2="398" stroke-width="2.0"/><line x1="1267.2" y1="254" x2="1267.2" y2="247.5" stroke-width="2.6"/><line x1="1267.2" y1="394.8" x2="1267.2" y2="401.3" stroke-width="2.6"/><line x1="1284.8" y1="254" x2="1284.8" y2="250.8" stroke-width="2.0"/><line x1="1284.8" y1="394.8" x2="1284.8" y2="398" stroke-width="2.0"/><line x1="1302.4" y1="254" x2="1302.4" y2="250.8" stroke-width="2.0"/><line x1="1302.4" y1="394.8" x2="1302.4" y2="398" stroke-width="2.0"/><line x1="1320" y1="254" x2="1320" y2="250.8" stroke-width="2.0"/><line x1="1320" y1="394.8" x2="1320" y2="398" stroke-width="2.0"/><line x1="1337.6" y1="254" x2="1337.6" y2="250.8" stroke-width="2.0"/><line x1="1337.6" y1="394.8" x2="1337.6" y2="398" stroke-width="2.0"/><line x1="1355.2" y1="254" x2="1355.2" y2="250.8" stroke-width="2.0"/><line x1="1355.2" y1="394.8" x2="1355.2" y2="398" stroke-width="2.0"/><line x1="1372.8" y1="254" x2="1372.8" y2="247.5" stroke-width="2.6"/><line x1="1372.8" y1="394.8" x2="1372.8" y2="401.3" stroke-width="2.6"/><line x1="1390.4" y1="254" x2="1390.4" y2="250.8" stroke-width="2.0"/><line x1="1390.4" y1="394.8" x2="1390.4" y2="398" stroke-width="2.0"/><line x1="1408" y1="254" x2="1408" y2="250.8" stroke-width="2.0"/><line x1="1408" y1="394.8" x2="1408" y2="398" stroke-width="2.0"/><line x1="1425.6" y1="254" x2="1425.6" y2="250.8" stroke-width="2.0"/><line x1="1425.6" y1="394.8" x2="1425.6" y2="398" stroke-width="2.0"/><line x1="1443.2" y1="254" x2="1443.2" y2="250.8" stroke-width="2.0"/><line x1="1443.2" y1="394.8" x2="1443.2" y2="398" stroke-width="2.0"/><line x1="1460.8" y1="254" x2="1460.8" y2="250.8" stroke-width="2.0"/><line x1="1460.8" y1="394.8" x2="1460.8" y2="398" stroke-width="2.0"/><line x1="1478.4" y1="254" x2="1478.4" y2="247.5" stroke-width="2.6"/><line x1="1478.4" y1="394.8" x2="1478.4" y2="401.3" stroke-width="2.6"/><line x1="844.8" y1="254" x2="841.6" y2="254" stroke-width="2.0"/><line x1="1478.4" y1="254" x2="1481.6" y2="254" stroke-width="2.0"/><line x1="844.8" y1="271.6" x2="838.8" y2="271.6" stroke-width="2.6"/><line x1="1478.4" y1="271.6" x2="1484.4" y2="271.6" stroke-width="2.6"/><line x1="844.8" y1="289.2" x2="841.6" y2="289.2" stroke-width="2.0"/><line x1="1478.4" y1="289.2" x2="1481.6" y2="289.2" stroke-width="2.0"/><line x1="844.8" y1="306.8" x2="841.6" y2="306.8" stroke-width="2.0"/><line x1="1478.4" y1="306.8" x2="1481.6" y2="306.8" stroke-width="2.0"/><line x1="844.8" y1="324.4" x2="838.8" y2="324.4" stroke-width="2.6"/><line x1="1478.4" y1="324.4" x2="1484.4" y2="324.4" stroke-width="2.6"/><line x1="844.8" y1="342" x2="841.6" y2="342" stroke-width="2.0"/><line x1="1478.4" y1="342" x2="1481.6" y2="342" stroke-width="2.0"/><line x1="844.8" y1="359.6" x2="841.6" y2="359.6" stroke-width="2.0"/><line x1="1478.4" y1="359.6" x2="1481.6" y2="359.6" stroke-width="2.0"/><line x1="844.8" y1="377.2" x2="838.8" y2="377.2" stroke-width="2.6"/><line x1="1478.4" y1="377.2" x2="1484.4" y2="377.2" stroke-width="2.6"/><line x1="844.8" y1="394.8" x2="841.6" y2="394.8" stroke-width="2.0"/><line x1="1478.4" y1="394.8" x2="1481.6" y2="394.8" stroke-width="2.0"/></g><text x="843.5" y="245.8" style="font-family:'Liberation Sans',Arial,Helvetica,sans-serif;font-size:35.2px">29-Feb to 4-Mar</text><g transform="translate(844.8,468.8)"><g clip-path="url(#pc)"><rect width="633.6" height="140.8" fill="#f7f7f7"/><path fill="#92c5de" fill-rule="evenodd" d="M449 136l3 1 4 0 2-1-1-4-3-4-5-3-5-1-4 1-1 2 2 3 4 4zM570 115l2-2-2-2-1 2zM315 62l8 0 6-2-9-1-8 1zM319 27l3 0 4-1 3-4 2-6 0-5-3-6-2-2-6-2-5 1-5 3-4 4 0 3 0 4 4 5 4 4z"/><path fill="#d1e5f0" fill-rule="evenodd" d="M452 147l4 1 5 0 2-1 2-3 1-3 0-4-2-5-3-4-5-4-5-3-15-6-5-3-21-19-12-9-14-7-4-2-1 1 0 3 2 5 5 8 4 5 6 5 23 17 19 19 7 5zM447 136l-6-6-2-3 1-2 2-1 3 0 6 2 5 4 2 4 0 2-2 1-2 0zM289 132l2-2-1-3-3-6-5-7-13-13-5-3-2 1 0 3 1 4 8 12 11 11 3 2zM568 127l6 0 5-2 4-3 2-4 0-5-2-6-3-3-4-2-6-1-5 2-4 4-2 4 0 5 2 5 3 4zM570 114l-1-1 1-2 2 2zM171 108l3 1 6-1 5-2 4-2 3-4 2-3-1-4-1-1-4-3-5-1-7 2-6 3-3 4-2 5 2 4zM378 75l5-6 10-7-1-2-3-2-6-2-24-4-35-3-14 2-14 2-11 3-3 2-1 2 0 2 2 1 9 3 16 1 30-1 10 1 18 3zM315 62l-3-2 8-1 9 1-6 2zM320 44l6 1 3-1 4-2 2-3 3-7 2-11 0-7-2-7-3-9-5-5-23 0-6 3-4 2-4 4-2 3-2 4-1 5 1 9 3 7 5 6 7 3zM317 26l-4-2-4-5-3-5 0-3 1-4 5-4 5-2 5 0 5 3 3 3 1 5 0 6-2 4-3 4-4 1zM414 42l3 1 4-1 3-2 3-3 1-4 0-4-2-3-4-3-3-1-5 1-4 2-3 3-1 4 1 5 3 3zM118 41l2 1 1-1 1-2 0-4-2-1-2 1-1 2 0 2zM604 14l5 1 5-3 2-2 1-3-1-3-2-2-3-2-4-1-3 1-4 2-2 3 0 4 2 3z"/><path fill="#fddbc7" fill-rule="evenodd" d="M377 141l7 1 7 0 7-1 5-2 6-3 1-4-1-4-3-5-6-5-19-11-5-3-3-4-11-17-6-6-8-3-8-1-13 0-15 1-9 2-7 2-4 3-5 5-1 4-1 3 2 7 7 10 9 6 5 3 9 3 29 6 20 10zM325 106l-8-3-5-4-1-4 3-7-1-5 1-2 3-2 3-1 11-1 10 1 3 1 3 2 0 2 0 1-3 4 2 9-1 3-2 2-3 2-5 2zM526 127l2 1 2-1 2-2 1-4 0-3-1-4-2-2-2 0-2 0-2 2-1 4 1 5zM72 87l2-1 1-5-1-5-2-1-2 1-1 5 1 5zM125 77l5 2 6-2 2-1 0-2 0-2-2-2-4-1-4 0-3 1-2 2-1 2 1 2zM532 70l3 0 2-1 4-4 0-5-1-3-1-2-6 0-3 2-2 3-1 5 3 4zM46 60l5 1 5-1 2-2 1-2-1-1-2-2-3-1-4 0-3 1-2 2-1 1 1 2zM542 49l4 0 5-4 5-6 3-7 3-9 1-9-1-7-2-3-4 0-5 4-5 6-3 7-3 9-1 9 1 7zM488 45l3 0 2-1 2-4 0-3 0-2-4-2-3 0-2 0-3 4 0 3 1 2zM137 41l4 0 2-1 1-3 1-4 0-3-1-4-1-2-4-2-2 1-2 2-2 5 0 3 1 4 2 3zM220 41l5 0 7-3 9-5 8-7 7-7 5-7 2-5-1-4-3-2-7 2-9 5-11 8-8 9-4 7-2 3 0 4 1 1zM378 14l13 0 9-2 11-5 2-2 1-3-2-3-3-3-6-2-7-1-18 0-3 1-9 2-5 4-1 2 0 3 3 4 7 3zM37 5l5 1 6-1 2-1 0-2 0-2-2-2-4-1-4 0-3 1-2 2-1 2 1 2z"/><path fill="#f4a582" fill-rule="evenodd" d="M326 106l5 0 5-1 5-1 2-2 2-2 1-3-2-9 3-4 0-1 0-2-3-2-3-1-10-1-11 1-3 1-3 2-1 2 1 5-3 7 1 4 5 4z"/><use href="#coast"/><path d="M0 70.4 H633.6 M316.8 0 V140.8" stroke="#333" stroke-width="1.6" stroke-dasharray="5 4" fill="none"/><g fill="none" stroke="#a020f0" stroke-width="2"><path d="M362.8 -7l.5 5.2 1.6 5.3 2.9 5.3 3 3.5 4.1 3.4 3.5 1.9 5.3 1.7 5.3 .6 5.2-.6 5.3-1.7 3.5-1.9 4.2-3.4 3-3.5 2.9-5.3 1.6-5.3 .5-5.2M513.5 -7l.7 7 1.5 5.3 2.6 5.3 4 5.2 3.9 3.5 5.3 3.1 5.3 1.7 5.3 .5 5.3-.5 5.2-1.7 5.3-3.1 3.9-3.5 4-5.2 2.5-5.3 1.4-5.3 .8-7M355.5 146.1l5.3 1.2 5.3-1.2 2.1-1.8 .5-1.7-.5-1.8-2.1-1.8-3.5-1.1-3.6 0-3.5 1.1-2.1 1.8-.5 1.8 .5 1.7 2.1 1.8"/><path d="M376 -7l1.1 5.2 3.1 4.5 3.5 2.4 5.3 1.1 5.2-1.1 3.6-2.4 3-4.5 1.1-5.2M528 -7l.8 5.2 2.9 5.3 1.7 1.8 3.4 2.2 5.3 1.1 5.3-1.2 3.4-2.1 1.7-1.8 2.8-5.3 .9-5.2"/><path stroke-dasharray="7 4.5" d="M330.2 -7l2.4 2.9 1.6 4.1 .4 3.5-.3 3.5-1.2 3.6-2.2 3.1-1.8 1.4-3.5 1-3.5-.9-1.8-1.2-2.6-3.4-1.2-3.6-.4-3.5 .7-4.6 1.8-3.8 1.9-2.1M313.3 68.7l-12.3-1.5-8.9-2.1-4.4-1.7-2.2-1.8-.5-1.8 1.1-1.7 3.1-1.8 10-2.7 15.8-2.1 15.9-.5 17.6 .8 14.1 1.9 9.3 2.6 3.2 1.8 1.3 1.7-.4 1.8-2.2 1.8-2.4 1-7.1 2-7 1.3-21.1 1.6-22.9-.6M605.4 12.7l-3.5-1.3-3-2.6-1.6-3.5 .1-3.5 1.7-3.6 2.8-2.4 3.5-1.3 5.3 .2 3.5 1.6 2.1 1.9 1.7 3.6 .1 3.5-1.8 3.5-2.1 2-3.5 1.6-5.3 .3"/></g></g><rect width="633.6" height="140.8" fill="none" stroke="#000" stroke-width="2.7"/></g><g stroke="#000" stroke-linecap="butt"><line x1="844.8" y1="468.8" x2="844.8" y2="462.3" stroke-width="2.6"/><line x1="844.8" y1="609.6" x2="844.8" y2="616.1" stroke-width="2.6"/><line x1="862.4" y1="468.8" x2="862.4" y2="465.6" stroke-width="2.0"/><line x1="862.4" y1="609.6" x2="862.4" y2="612.8" stroke-width="2.0"/><line x1="880" y1="468.8" x2="880" y2="465.6" stroke-width="2.0"/><line x1="880" y1="609.6" x2="880" y2="612.8" stroke-width="2.0"/><line x1="897.6" y1="468.8" x2="897.6" y2="465.6" stroke-width="2.0"/><line x1="897.6" y1="609.6" x2="897.6" y2="612.8" stroke-width="2.0"/><line x1="915.2" y1="468.8" x2="915.2" y2="465.6" stroke-width="2.0"/><line x1="915.2" y1="609.6" x2="915.2" y2="612.8" stroke-width="2.0"/><line x1="932.8" y1="468.8" x2="932.8" y2="465.6" stroke-width="2.0"/><line x1="932.8" y1="609.6" x2="932.8" y2="612.8" stroke-width="2.0"/><line x1="950.4" y1="468.8" x2="950.4" y2="462.3" stroke-width="2.6"/><line x1="950.4" y1="609.6" x2="950.4" y2="616.1" stroke-width="2.6"/><line x1="968" y1="468.8" x2="968" y2="465.6" stroke-width="2.0"/><line x1="968" y1="609.6" x2="968" y2="612.8" stroke-width="2.0"/><line x1="985.6" y1="468.8" x2="985.6" y2="465.6" stroke-width="2.0"/><line x1="985.6" y1="609.6" x2="985.6" y2="612.8" stroke-width="2.0"/><line x1="1003.2" y1="468.8" x2="1003.2" y2="465.6" stroke-width="2.0"/><line x1="1003.2" y1="609.6" x2="1003.2" y2="612.8" stroke-width="2.0"/><line x1="1020.8" y1="468.8" x2="1020.8" y2="465.6" stroke-width="2.0"/><line x1="1020.8" y1="609.6" x2="1020.8" y2="612.8" stroke-width="2.0"/><line x1="1038.4" y1="468.8" x2="1038.4" y2="465.6" stroke-width="2.0"/><line x1="1038.4" y1="609.6" x2="1038.4" y2="612.8" stroke-width="2.0"/><line x1="1056" y1="468.8" x2="1056" y2="462.3" stroke-width="2.6"/><line x1="1056" y1="609.6" x2="1056" y2="616.1" stroke-width="2.6"/><line x1="1073.6" y1="468.8" x2="1073.6" y2="465.6" stroke-width="2.0"/><line x1="1073.6" y1="609.6" x2="1073.6" y2="612.8" stroke-width="2.0"/><line x1="1091.2" y1="468.8" x2="1091.2" y2="465.6" stroke-width="2.0"/><line x1="1091.2" y1="609.6" x2="1091.2" y2="612.8" stroke-width="2.0"/><line x1="1108.8" y1="468.8" x2="1108.8" y2="465.6" stroke-width="2.0"/><line x1="1108.8" y1="609.6" x2="1108.8" y2="612.8" stroke-width="2.0"/><line x1="1126.4" y1="468.8" x2="1126.4" y2="465.6" stroke-width="2.0"/><line x1="1126.4" y1="609.6" x2="1126.4" y2="612.8" stroke-width="2.0"/><line x1="1144" y1="468.8" x2="1144" y2="465.6" stroke-width="2.0"/><line x1="1144" y1="609.6" x2="1144" y2="612.8" stroke-width="2.0"/><line x1="1161.6" y1="468.8" x2="1161.6" y2="462.3" stroke-width="2.6"/><line x1="1161.6" y1="609.6" x2="1161.6" y2="616.1" stroke-width="2.6"/><line x1="1179.2" y1="468.8" x2="1179.2" y2="465.6" stroke-width="2.0"/><line x1="1179.2" y1="609.6" x2="1179.2" y2="612.8" stroke-width="2.0"/><line x1="1196.8" y1="468.8" x2="1196.8" y2="465.6" stroke-width="2.0"/><line x1="1196.8" y1="609.6" x2="1196.8" y2="612.8" stroke-width="2.0"/><line x1="1214.4" y1="468.8" x2="1214.4" y2="465.6" stroke-width="2.0"/><line x1="1214.4" y1="609.6" x2="1214.4" y2="612.8" stroke-width="2.0"/><line x1="1232" y1="468.8" x2="1232" y2="465.6" stroke-width="2.0"/><line x1="1232" y1="609.6" x2="1232" y2="612.8" stroke-width="2.0"/><line x1="1249.6" y1="468.8" x2="1249.6" y2="465.6" stroke-width="2.0"/><line x1="1249.6" y1="609.6" x2="1249.6" y2="612.8" stroke-width="2.0"/><line x1="1267.2" y1="468.8" x2="1267.2" y2="462.3" stroke-width="2.6"/><line x1="1267.2" y1="609.6" x2="1267.2" y2="616.1" stroke-width="2.6"/><line x1="1284.8" y1="468.8" x2="1284.8" y2="465.6" stroke-width="2.0"/><line x1="1284.8" y1="609.6" x2="1284.8" y2="612.8" stroke-width="2.0"/><line x1="1302.4" y1="468.8" x2="1302.4" y2="465.6" stroke-width="2.0"/><line x1="1302.4" y1="609.6" x2="1302.4" y2="612.8" stroke-width="2.0"/><line x1="1320" y1="468.8" x2="1320" y2="465.6" stroke-width="2.0"/><line x1="1320" y1="609.6" x2="1320" y2="612.8" stroke-width="2.0"/><line x1="1337.6" y1="468.8" x2="1337.6" y2="465.6" stroke-width="2.0"/><line x1="1337.6" y1="609.6" x2="1337.6" y2="612.8" stroke-width="2.0"/><line x1="1355.2" y1="468.8" x2="1355.2" y2="465.6" stroke-width="2.0"/><line x1="1355.2" y1="609.6" x2="1355.2" y2="612.8" stroke-width="2.0"/><line x1="1372.8" y1="468.8" x2="1372.8" y2="462.3" stroke-width="2.6"/><line x1="1372.8" y1="609.6" x2="1372.8" y2="616.1" stroke-width="2.6"/><line x1="1390.4" y1="468.8" x2="1390.4" y2="465.6" stroke-width="2.0"/><line x1="1390.4" y1="609.6" x2="1390.4" y2="612.8" stroke-width="2.0"/><line x1="1408" y1="468.8" x2="1408" y2="465.6" stroke-width="2.0"/><line x1="1408" y1="609.6" x2="1408" y2="612.8" stroke-width="2.0"/><line x1="1425.6" y1="468.8" x2="1425.6" y2="465.6" stroke-width="2.0"/><line x1="1425.6" y1="609.6" x2="1425.6" y2="612.8" stroke-width="2.0"/><line x1="1443.2" y1="468.8" x2="1443.2" y2="465.6" stroke-width="2.0"/><line x1="1443.2" y1="609.6" x2="1443.2" y2="612.8" stroke-width="2.0"/><line x1="1460.8" y1="468.8" x2="1460.8" y2="465.6" stroke-width="2.0"/><line x1="1460.8" y1="609.6" x2="1460.8" y2="612.8" stroke-width="2.0"/><line x1="1478.4" y1="468.8" x2="1478.4" y2="462.3" stroke-width="2.6"/><line x1="1478.4" y1="609.6" x2="1478.4" y2="616.1" stroke-width="2.6"/><line x1="844.8" y1="468.8" x2="841.6" y2="468.8" stroke-width="2.0"/><line x1="1478.4" y1="468.8" x2="1481.6" y2="468.8" stroke-width="2.0"/><line x1="844.8" y1="486.4" x2="838.8" y2="486.4" stroke-width="2.6"/><line x1="1478.4" y1="486.4" x2="1484.4" y2="486.4" stroke-width="2.6"/><line x1="844.8" y1="504" x2="841.6" y2="504" stroke-width="2.0"/><line x1="1478.4" y1="504" x2="1481.6" y2="504" stroke-width="2.0"/><line x1="844.8" y1="521.6" x2="841.6" y2="521.6" stroke-width="2.0"/><line x1="1478.4" y1="521.6" x2="1481.6" y2="521.6" stroke-width="2.0"/><line x1="844.8" y1="539.2" x2="838.8" y2="539.2" stroke-width="2.6"/><line x1="1478.4" y1="539.2" x2="1484.4" y2="539.2" stroke-width="2.6"/><line x1="844.8" y1="556.8" x2="841.6" y2="556.8" stroke-width="2.0"/><line x1="1478.4" y1="556.8" x2="1481.6" y2="556.8" stroke-width="2.0"/><line x1="844.8" y1="574.4" x2="841.6" y2="574.4" stroke-width="2.0"/><line x1="1478.4" y1="574.4" x2="1481.6" y2="574.4" stroke-width="2.0"/><line x1="844.8" y1="592" x2="838.8" y2="592" stroke-width="2.6"/><line x1="1478.4" y1="592" x2="1484.4" y2="592" stroke-width="2.6"/><line x1="844.8" y1="609.6" x2="841.6" y2="609.6" stroke-width="2.0"/><line x1="1478.4" y1="609.6" x2="1481.6" y2="609.6" stroke-width="2.0"/></g><text x="843.5" y="460.6" style="font-family:'Liberation Sans',Arial,Helvetica,sans-serif;font-size:35.2px">5-Mar to 9-Mar</text><g transform="translate(844.8,683.6)"><g clip-path="url(#pc)"><rect width="633.6" height="140.8" fill="#f7f7f7"/><path fill="#d1e5f0" fill-rule="evenodd" d="M458 141l2 0 0-2-1-3-4-8-8-10-19-21-25-21-3-4-1-3 1-2 4-7 0-2-1-2-4-1-21-6-12-1-16 2-28 4-37 2-7 1-2 1-2 2 1 2 3 1 7 1 11 0 24-3 16 1 30 4 14 4 5 2 4 4 19 23 23 23 16 13 5 4zM278 129l4 1 1-1 1-1 0-3-2-7-5-7-6-7-5-4-4 0-1 2 0 2 3 9 7 10zM567 127l3 0 3-2 2-4 1-3 0-5-1-4-3-3-4-1-3 1-2 2-1 3-1 3 1 7 2 4zM239 124l4 0 2-2 1-2 1-4 0-3-1-4-1-3-4-1-2 0-2 2-2 6 0 3 1 4 2 2zM419 44l7 1 5-1 5-2 1-2-1-1-5-2-12-1-4-1-5-5-3-1-6 0-2 3-1 3 3 4 4 2zM357 24l2 0 4 0 3-3 1-2 0-3-3-4-1-1-4 0-2 1-2 2-1 5 2 3zM461 14l4 1 3-1 2-2 0-3-2-2-2-1-3 0-3 1-1 2-1 2 1 1zM308 9l7 1 19-2 6-2 1-1 1-1-1-2-1-1-6-2-17-2-5 0-6 2-3 3 0 3 2 2z"/><path fill="#fddbc7" fill-rule="evenodd" d="M505 142l4 0 2-3 0-3-2-3-4 0-3 3 0 3zM392 132l8 0 3-2 1-2 0-3-5-9-7-9-12-10-12-10-13-8-8-3-11-3-10-2-11-1-9 1-9 2-7 3-3 3-2 5 1 8 3 5 5 4 5 2 5 1 6-1 14-3 5 0 4 1 7 3 19 13 11 6 12 6zM352 100l-2-1-1-2 2-2 5-1 3 3 0 2-2 1-3 1zM322 84l-1-1 1-2 4-1 3 0 4 0 2 3-1 1-3 2-4 0zM537 76l5 0 5-2 4-3 2-4 1-5-1-6-2-3-4-3-5-1-5 1-5 3-4 5-1 5 1 6 4 4zM48 57l5-1 3-1 1-2 1-2 0-3-1-2-2-3-4-1-3 0-4 1-3 3-1 3 1 4 3 2zM197 49l5 1 16-3 4-1 3-3 4-4 3-7-1-7-2-5-4-2-5-1-12 6-11 1-5 3-2 3-2 3 0 4 0 3 2 4 2 3zM486 48l3 0 4-3 2-5 2-7-1-7-1-5-4-5-3-1-4 1-2 3-3 6-1 5 1 7 1 5 3 4zM576 44l5 0 3-1 4-2 3-2 3-7 1-9-3-9-6-7-7-4-5-2-4 1-3 0-4 2-4 5-3 7 0 7 3 9 4 6 5 4z"/><path fill="#f4a582" fill-rule="evenodd" d="M352 100l4 1 1-1 2-1 0-2-3-3-5 1-2 2 1 2zM324 85l7 1 3-2 1-1-2-3-4 0-3 0-4 1-1 2 1 1z"/><use href="#coast"/><path d="M0 70.4 H633.6 M316.8 0 V140.8" stroke="#333" stroke-width="1.6" stroke-dasharray="5 4" fill="none"/><g fill="none" stroke="#a020f0" stroke-width="2"><path d="M251.9 -7l.2 8.8 1.8 7 3.1 5.1 1.7 1.2 1.8 .4 1.7-.4 1.8-1.2 3.1-5.1 1.7-7 .2-8.8M361.5 -7l.7 5.2 1.3 3.6 2.6 4.3 3.5 3.7 3.5 2.6 5.3 2.6 5.3 1.3 5.3 .5 5.2-.5 5.3-1.3 5.3-2.6 3.5-2.6 3.5-3.7 2.6-4.3 1.3-3.6 .7-5.2M511.1 -7l.5 5.2 1.5 5.3 2.7 5.3 4.3 5.3 4.4 3.6 5.3 2.8 5.2 1.7 7.1 .8 7-.8 5.3-1.7 5.3-2.8 4.4-3.6 4.3-5.3 2.7-5.3 1.5-5.3 .5-5.2M355.5 146.1l5.3 1.2 5.3-1.2 2.1-1.8 .5-1.7-.5-1.8-2.1-1.8-3.5-1.1-3.6 0-3.5 1.1-2.1 1.8-.5 1.8 .5 1.7 2.1 1.8"/><path d="M375.5 -7l1.4 5.2 3.1 3.6 3.7 2 5.3 .9 5.2-.9 3.7-2 3.1-3.6 1.5-5.2M526.8 -7l1 5.2 3.6 5.3 5.4 3.4 5.3 .9 5.3-.9 5.4-3.4 3.6-5.3 1-5.2"/><path stroke-dasharray="7 4.5" d="M308 67.1l-12.2-2-5.4-1.5-3.9-2-1-1.8 1-1.7 3.3-1.8 11.2-2.7 15.8-1.8 19.4-.7 19.3 .7 15.9 1.9 10.9 2.6 3.4 1.8 1.1 1.7-1 1.8-5.6 2.5-8.8 2-10.6 1.3-26.4 1.1-26.4-1.4M614.2 12.7l-3.5-1.6-2.2-2.3-1.4-3.5 0-3.5 1.5-3.6 2.1-2.2 3.5-1.6 3.6-.1 3.5 1.4 2.5 2.5 1.5 3.6 0 3.5-1.5 3.5-2.5 2.5-3.5 1.5-3.6-.1"/></g></g><rect width="633.6" height="140.8" fill="none" stroke="#000" stroke-width="2.7"/></g><g stroke="#000" stroke-linecap="butt"><line x1="844.8" y1="683.6" x2="844.8" y2="677.1" stroke-width="2.6"/><line x1="844.8" y1="824.4" x2="844.8" y2="830.9" stroke-width="2.6"/><line x1="862.4" y1="683.6" x2="862.4" y2="680.4" stroke-width="2.0"/><line x1="862.4" y1="824.4" x2="862.4" y2="827.6" stroke-width="2.0"/><line x1="880" y1="683.6" x2="880" y2="680.4" stroke-width="2.0"/><line x1="880" y1="824.4" x2="880" y2="827.6" stroke-width="2.0"/><line x1="897.6" y1="683.6" x2="897.6" y2="680.4" stroke-width="2.0"/><line x1="897.6" y1="824.4" x2="897.6" y2="827.6" stroke-width="2.0"/><line x1="915.2" y1="683.6" x2="915.2" y2="680.4" stroke-width="2.0"/><line x1="915.2" y1="824.4" x2="915.2" y2="827.6" stroke-width="2.0"/><line x1="932.8" y1="683.6" x2="932.8" y2="680.4" stroke-width="2.0"/><line x1="932.8" y1="824.4" x2="932.8" y2="827.6" stroke-width="2.0"/><line x1="950.4" y1="683.6" x2="950.4" y2="677.1" stroke-width="2.6"/><line x1="950.4" y1="824.4" x2="950.4" y2="830.9" stroke-width="2.6"/><line x1="968" y1="683.6" x2="968" y2="680.4" stroke-width="2.0"/><line x1="968" y1="824.4" x2="968" y2="827.6" stroke-width="2.0"/><line x1="985.6" y1="683.6" x2="985.6" y2="680.4" stroke-width="2.0"/><line x1="985.6" y1="824.4" x2="985.6" y2="827.6" stroke-width="2.0"/><line x1="1003.2" y1="683.6" x2="1003.2" y2="680.4" stroke-width="2.0"/><line x1="1003.2" y1="824.4" x2="1003.2" y2="827.6" stroke-width="2.0"/><line x1="1020.8" y1="683.6" x2="1020.8" y2="680.4" stroke-width="2.0"/><line x1="1020.8" y1="824.4" x2="1020.8" y2="827.6" stroke-width="2.0"/><line x1="1038.4" y1="683.6" x2="1038.4" y2="680.4" stroke-width="2.0"/><line x1="1038.4" y1="824.4" x2="1038.4" y2="827.6" stroke-width="2.0"/><line x1="1056" y1="683.6" x2="1056" y2="677.1" stroke-width="2.6"/><line x1="1056" y1="824.4" x2="1056" y2="830.9" stroke-width="2.6"/><line x1="1073.6" y1="683.6" x2="1073.6" y2="680.4" stroke-width="2.0"/><line x1="1073.6" y1="824.4" x2="1073.6" y2="827.6" stroke-width="2.0"/><line x1="1091.2" y1="683.6" x2="1091.2" y2="680.4" stroke-width="2.0"/><line x1="1091.2" y1="824.4" x2="1091.2" y2="827.6" stroke-width="2.0"/><line x1="1108.8" y1="683.6" x2="1108.8" y2="680.4" stroke-width="2.0"/><line x1="1108.8" y1="824.4" x2="1108.8" y2="827.6" stroke-width="2.0"/><line x1="1126.4" y1="683.6" x2="1126.4" y2="680.4" stroke-width="2.0"/><line x1="1126.4" y1="824.4" x2="1126.4" y2="827.6" stroke-width="2.0"/><line x1="1144" y1="683.6" x2="1144" y2="680.4" stroke-width="2.0"/><line x1="1144" y1="824.4" x2="1144" y2="827.6" stroke-width="2.0"/><line x1="1161.6" y1="683.6" x2="1161.6" y2="677.1" stroke-width="2.6"/><line x1="1161.6" y1="824.4" x2="1161.6" y2="830.9" stroke-width="2.6"/><line x1="1179.2" y1="683.6" x2="1179.2" y2="680.4" stroke-width="2.0"/><line x1="1179.2" y1="824.4" x2="1179.2" y2="827.6" stroke-width="2.0"/><line x1="1196.8" y1="683.6" x2="1196.8" y2="680.4" stroke-width="2.0"/><line x1="1196.8" y1="824.4" x2="1196.8" y2="827.6" stroke-width="2.0"/><line x1="1214.4" y1="683.6" x2="1214.4" y2="680.4" stroke-width="2.0"/><line x1="1214.4" y1="824.4" x2="1214.4" y2="827.6" stroke-width="2.0"/><line x1="1232" y1="683.6" x2="1232" y2="680.4" stroke-width="2.0"/><line x1="1232" y1="824.4" x2="1232" y2="827.6" stroke-width="2.0"/><line x1="1249.6" y1="683.6" x2="1249.6" y2="680.4" stroke-width="2.0"/><line x1="1249.6" y1="824.4" x2="1249.6" y2="827.6" stroke-width="2.0"/><line x1="1267.2" y1="683.6" x2="1267.2" y2="677.1" stroke-width="2.6"/><line x1="1267.2" y1="824.4" x2="1267.2" y2="830.9" stroke-width="2.6"/><line x1="1284.8" y1="683.6" x2="1284.8" y2="680.4" stroke-width="2.0"/><line x1="1284.8" y1="824.4" x2="1284.8" y2="827.6" stroke-width="2.0"/><line x1="1302.4" y1="683.6" x2="1302.4" y2="680.4" stroke-width="2.0"/><line x1="1302.4" y1="824.4" x2="1302.4" y2="827.6" stroke-width="2.0"/><line x1="1320" y1="683.6" x2="1320" y2="680.4" stroke-width="2.0"/><line x1="1320" y1="824.4" x2="1320" y2="827.6" stroke-width="2.0"/><line x1="1337.6" y1="683.6" x2="1337.6" y2="680.4" stroke-width="2.0"/><line x1="1337.6" y1="824.4" x2="1337.6" y2="827.6" stroke-width="2.0"/><line x1="1355.2" y1="683.6" x2="1355.2" y2="680.4" stroke-width="2.0"/><line x1="1355.2" y1="824.4" x2="1355.2" y2="827.6" stroke-width="2.0"/><line x1="1372.8" y1="683.6" x2="1372.8" y2="677.1" stroke-width="2.6"/><line x1="1372.8" y1="824.4" x2="1372.8" y2="830.9" stroke-width="2.6"/><line x1="1390.4" y1="683.6" x2="1390.4" y2="680.4" stroke-width="2.0"/><line x1="1390.4" y1="824.4" x2="1390.4" y2="827.6" stroke-width="2.0"/><line x1="1408" y1="683.6" x2="1408" y2="680.4" stroke-width="2.0"/><line x1="1408" y1="824.4" x2="1408" y2="827.6" stroke-width="2.0"/><line x1="1425.6" y1="683.6" x2="1425.6" y2="680.4" stroke-width="2.0"/><line x1="1425.6" y1="824.4" x2="1425.6" y2="827.6" stroke-width="2.0"/><line x1="1443.2" y1="683.6" x2="1443.2" y2="680.4" stroke-width="2.0"/><line x1="1443.2" y1="824.4" x2="1443.2" y2="827.6" stroke-width="2.0"/><line x1="1460.8" y1="683.6" x2="1460.8" y2="680.4" stroke-width="2.0"/><line x1="1460.8" y1="824.4" x2="1460.8" y2="827.6" stroke-width="2.0"/><line x1="1478.4" y1="683.6" x2="1478.4" y2="677.1" stroke-width="2.6"/><line x1="1478.4" y1="824.4" x2="1478.4" y2="830.9" stroke-width="2.6"/><line x1="844.8" y1="683.6" x2="841.6" y2="683.6" stroke-width="2.0"/><line x1="1478.4" y1="683.6" x2="1481.6" y2="683.6" stroke-width="2.0"/><line x1="844.8" y1="701.2" x2="838.8" y2="701.2" stroke-width="2.6"/><line x1="1478.4" y1="701.2" x2="1484.4" y2="701.2" stroke-width="2.6"/><line x1="844.8" y1="718.8" x2="841.6" y2="718.8" stroke-width="2.0"/><line x1="1478.4" y1="718.8" x2="1481.6" y2="718.8" stroke-width="2.0"/><line x1="844.8" y1="736.4" x2="841.6" y2="736.4" stroke-width="2.0"/><line x1="1478.4" y1="736.4" x2="1481.6" y2="736.4" stroke-width="2.0"/><line x1="844.8" y1="754" x2="838.8" y2="754" stroke-width="2.6"/><line x1="1478.4" y1="754" x2="1484.4" y2="754" stroke-width="2.6"/><line x1="844.8" y1="771.6" x2="841.6" y2="771.6" stroke-width="2.0"/><line x1="1478.4" y1="771.6" x2="1481.6" y2="771.6" stroke-width="2.0"/><line x1="844.8" y1="789.2" x2="841.6" y2="789.2" stroke-width="2.0"/><line x1="1478.4" y1="789.2" x2="1481.6" y2="789.2" stroke-width="2.0"/><line x1="844.8" y1="806.8" x2="838.8" y2="806.8" stroke-width="2.6"/><line x1="1478.4" y1="806.8" x2="1484.4" y2="806.8" stroke-width="2.6"/><line x1="844.8" y1="824.4" x2="841.6" y2="824.4" stroke-width="2.0"/><line x1="1478.4" y1="824.4" x2="1481.6" y2="824.4" stroke-width="2.0"/></g><text x="843.5" y="675.4" style="font-family:'Liberation Sans',Arial,Helvetica,sans-serif;font-size:35.2px">10-Mar to 14-Mar</text><text x="736" y="31" text-anchor="end" style="font-family:'Liberation Sans',Arial,Helvetica,sans-serif;font-size:35.5px">Observed</text><text x="1479" y="31" text-anchor="end" style="font-family:'Liberation Sans',Arial,Helvetica,sans-serif;font-size:35.5px">CFS Forecast</text><text x="74.5" y="69.4" text-anchor="end" style="font-family:'Liberation Sans',Arial,Helvetica,sans-serif;font-size:35px">30N</text><text x="74.5" y="122.2" text-anchor="end" style="font-family:'Liberation Sans',Arial,Helvetica,sans-serif;font-size:35px">0</text><text x="74.5" y="175" text-anchor="end" style="font-family:'Liberation Sans',Arial,Helvetica,sans-serif;font-size:35px">30S</text><text x="74.5" y="284.2" text-anchor="end" style="font-family:'Liberation Sans',Arial,Helvetica,sans-serif;font-size:35px">30N</text><text x="74.5" y="337" text-anchor="end" style="font-family:'Liberation Sans',Arial,Helvetica,sans-serif;font-size:35px">0</text><text x="74.5" y="389.8" text-anchor="end" style="font-family:'Liberation Sans',Arial,Helvetica,sans-serif;font-size:35px">30S</text><text x="74.5" y="499" text-anchor="end" style="font-family:'Liberation Sans',Arial,Helvetica,sans-serif;font-size:35px">30N</text><text x="74.5" y="551.8" text-anchor="end" style="font-family:'Liberation Sans',Arial,Helvetica,sans-serif;font-size:35px">0</text><text x="74.5" y="604.6" text-anchor="end" style="font-family:'Liberation Sans',Arial,Helvetica,sans-serif;font-size:35px">30S</text><text x="74.5" y="713.8" text-anchor="end" style="font-family:'Liberation Sans',Arial,Helvetica,sans-serif;font-size:35px">30N</text><text x="74.5" y="766.6" text-anchor="end" style="font-family:'Liberation Sans',Arial,Helvetica,sans-serif;font-size:35px">0</text><text x="74.5" y="819.4" text-anchor="end" style="font-family:'Liberation Sans',Arial,Helvetica,sans-serif;font-size:35px">30S</text><text x="102.2" y="880" text-anchor="middle" style="font-family:'Liberation Sans',Arial,Helvetica,sans-serif;font-size:35px">0</text><text x="207.8" y="880" text-anchor="middle" style="font-family:'Liberation Sans',Arial,Helvetica,sans-serif;font-size:35px">60E</text><text x="313.4" y="880" text-anchor="middle" style="font-family:'Liberation Sans',Arial,Helvetica,sans-serif;font-size:35px">120E</text><text x="419" y="880" text-anchor="middle" style="font-family:'Liberation Sans',Arial,Helvetica,sans-serif;font-size:35px">180</text><text x="524.6" y="880" text-anchor="middle" style="font-family:'Liberation Sans',Arial,Helvetica,sans-serif;font-size:35px">120W</text><text x="630.2" y="880" text-anchor="middle" style="font-family:'Liberation Sans',Arial,Helvetica,sans-serif;font-size:35px">60W</text><text x="735.8" y="880" text-anchor="middle" style="font-family:'Liberation Sans',Arial,Helvetica,sans-serif;font-size:35px">0</text><text x="844.8" y="880" text-anchor="middle" style="font-family:'Liberation Sans',Arial,Helvetica,sans-serif;font-size:35px">0</text><text x="950.4" y="880" text-anchor="middle" style="font-family:'Liberation Sans',Arial,Helvetica,sans-serif;font-size:35px">60E</text><text x="1056" y="880" text-anchor="middle" style="font-family:'Liberation Sans',Arial,Helvetica,sans-serif;font-size:35px">120E</text><text x="1161.6" y="880" text-anchor="middle" style="font-family:'Liberation Sans',Arial,Helvetica,sans-serif;font-size:35px">180</text><text x="1267.2" y="880" text-anchor="middle" style="font-family:'Liberation Sans',Arial,Helvetica,sans-serif;font-size:35px">120W</text><text x="1372.8" y="880" text-anchor="middle" style="font-family:'Liberation Sans',Arial,Helvetica,sans-serif;font-size:35px">60W</text><text x="1478.4" y="880" text-anchor="middle" style="font-family:'Liberation Sans',Arial,Helvetica,sans-serif;font-size:35px">0</text><rect x="229.5" y="939.6" width="54.8" height="21.4" fill="#053061"/><rect x="284.3" y="939.6" width="54.8" height="21.4" fill="#2166ac"/><rect x="339.2" y="939.6" width="54.8" height="21.4" fill="#4393c3"/><rect x="394" y="939.6" width="54.8" height="21.4" fill="#92c5de"/><rect x="448.9" y="939.6" width="54.8" height="21.4" fill="#d1e5f0"/><rect x="503.7" y="939.6" width="54.8" height="21.4" fill="#f7f7f7"/><rect x="558.6" y="939.6" width="54.8" height="21.4" fill="#fddbc7"/><rect x="613.4" y="939.6" width="54.8" height="21.4" fill="#f4a582"/><rect x="668.3" y="939.6" width="54.8" height="21.4" fill="#d6604d"/><rect x="723.1" y="939.6" width="54.8" height="21.4" fill="#b2182b"/><rect x="778" y="939.6" width="54.8" height="21.4" fill="#67001f"/><g stroke="#000" stroke-width="1.8" fill="none"><rect x="229.5" y="939.6" width="603.3" height="21.4"/><line x1="284.3" y1="939.6" x2="284.3" y2="961"/><line x1="339.2" y1="939.6" x2="339.2" y2="961"/><line x1="394" y1="939.6" x2="394" y2="961"/><line x1="448.9" y1="939.6" x2="448.9" y2="961"/><line x1="503.7" y1="939.6" x2="503.7" y2="961"/><line x1="558.6" y1="939.6" x2="558.6" y2="961"/><line x1="613.4" y1="939.6" x2="613.4" y2="961"/><line x1="668.3" y1="939.6" x2="668.3" y2="961"/><line x1="723.1" y1="939.6" x2="723.1" y2="961"/><line x1="778" y1="939.6" x2="778" y2="961"/></g><text x="284.3" y="989" text-anchor="middle" style="font-family:'Liberation Sans',Arial,Helvetica,sans-serif;font-size:29px">-14</text><text x="339.2" y="989" text-anchor="middle" style="font-family:'Liberation Sans',Arial,Helvetica,sans-serif;font-size:29px">-11</text><text x="394" y="989" text-anchor="middle" style="font-family:'Liberation Sans',Arial,Helvetica,sans-serif;font-size:29px">-8</text><text x="448.9" y="989" text-anchor="middle" style="font-family:'Liberation Sans',Arial,Helvetica,sans-serif;font-size:29px">-5</text><text x="503.7" y="989" text-anchor="middle" style="font-family:'Liberation Sans',Arial,Helvetica,sans-serif;font-size:29px">-2</text><text x="558.6" y="989" text-anchor="middle" style="font-family:'Liberation Sans',Arial,Helvetica,sans-serif;font-size:29px">2</text><text x="613.4" y="989" text-anchor="middle" style="font-family:'Liberation Sans',Arial,Helvetica,sans-serif;font-size:29px">5</text><text x="668.3" y="989" text-anchor="middle" style="font-family:'Liberation Sans',Arial,Helvetica,sans-serif;font-size:29px">8</text><text x="723.1" y="989" text-anchor="middle" style="font-family:'Liberation Sans',Arial,Helvetica,sans-serif;font-size:29px">11</text><text x="778" y="989" text-anchor="middle" style="font-family:'Liberation Sans',Arial,Helvetica,sans-serif;font-size:29px">14</text><text x="874" y="975.5" style="font-family:'Liberation Sans',Arial,Helvetica,sans-serif;font-size:29px">m s-1</text><g stroke-width="2.6"><line x1="1088" y1="965.6" x2="1158.3" y2="965.6" stroke="#000"/><line x1="1313.3" y1="965.6" x2="1380.3" y2="965.6" stroke="#0a14f0"/><line x1="1088" y1="1006.4" x2="1158.3" y2="1006.4" stroke="#9a2ff0"/><line x1="1313.3" y1="1006.4" x2="1380.3" y2="1006.4" stroke="#e0141e"/></g><text x="1170.5" y="975.5" style="font-family:'Liberation Sans',Arial,Helvetica,sans-serif;font-size:27.5px">MJO</text><text x="1391.5" y="975.5" style="font-family:'Liberation Sans',Arial,Helvetica,sans-serif;font-size:27.5px">Kelvin x2</text><text x="1170.5" y="1016.3" style="font-family:'Liberation Sans',Arial,Helvetica,sans-serif;font-size:27.5px">Low</text><text x="1391.5" y="1016.3" style="font-family:'Liberation Sans',Arial,Helvetica,sans-serif;font-size:27.5px">ER</text><text x="1083" y="1052.8" style="font-family:'Liberation Sans',Arial,Helvetica,sans-serif;font-size:26.6px">Contours every 2 m s-1</text><text x="187.5" y="1074.3" style="font-family:'Liberation Sans',Arial,Helvetica,sans-serif;font-size:51.5px">5-day VWND850 with CFS forecasts</text><text x="3.5" y="1110.9" style="font-family:'Liberation Sans',Arial,Helvetica,sans-serif;font-size:20.9px">monitor.cicsnc.org/mjo</text><text x="667.5" y="1112" style="font-family:'Liberation Sans',Arial,Helvetica,sans-serif;font-size:14.4px">Wed 2016-02-24 1121 UTC</text><text x="1507" y="1111.1" text-anchor="end" style="font-family:'Liberation Sans',Arial,Helvetica,sans-serif;font-size:20.7px">Carl Schreck (cjschrec@ncsu.edu)</text><defs><radialGradient id="lg" cx="0.5" cy="0.55" r="0.55"><stop offset="0" stop-color="#2a86cf"/><stop offset="0.6" stop-color="#2a6cc0"/><stop offset="1" stop-color="#2d40a0"/></radialGradient><linearGradient id="og" x1="0" y1="0" x2="0" y2="1"><stop offset="0" stop-color="#fde3b0"/><stop offset="1" stop-color="#f2a844"/></linearGradient><linearGradient id="bg2" x1="0" y1="0" x2="0" y2="1"><stop offset="0" stop-color="#2e2f96"/><stop offset="0.75" stop-color="#2d4aa8"/><stop offset="1" stop-color="#2a8ad0"/></linearGradient><clipPath id="lc"><circle cx="85.2" cy="1006" r="71.8"/></clipPath><path id="arc" d="M26.3 1021.8 A61 61 0 1 1 145.4 996.1"/></defs><circle cx="85.2" cy="1006" r="71.8" fill="url(#lg)"/><defs><path id="spiral" d="M85.2 1022.5 L84.0 1022.8 L82.8 1022.9 L81.5 1023.0 L80.2 1023.0 L78.9 1022.8 L77.6 1022.6 L76.3 1022.2 L75.0 1021.7 L73.7 1021.1 L72.5 1020.3 L71.3 1019.5 L70.2 1018.5 L69.1 1017.4 L68.1 1016.3 L67.2 1015.0 L66.4 1013.6 L65.7 1012.2 L65.1 1010.6 L64.7 1009.0 L64.3 1007.4 L64.1 1005.7 L64.1 1004.0 L64.2 1002.2 L64.4 1000.4 L64.8 998.7 L65.3 996.9 L66.0 995.2 L66.8 993.5 L67.8 991.8 L69.0 990.3 L70.2 988.8 L71.6 987.4 L73.2 986.1 L74.8 984.9 L76.6 983.8 L78.5 982.9 L80.5 982.2 L82.5 981.5 L84.6 981.1 L86.8 980.8 L89.0 980.7 L91.2 980.8 L93.5 981.1 L95.7 981.5 L98.0 982.2 L100.1 983.0 L102.3 984.0 L104.3 985.2 L106.3 986.6 L108.2 988.1 L110.0 989.8 L111.6 991.7 L113.1 993.7 L114.5 995.9 L115.7 998.2 L116.7 1000.6 L117.5 1003.0 L118.1 1005.6 L118.5 1008.3 L118.7 1010.9 L118.6 1013.7 L118.4 1016.4 L117.9 1019.1 L117.2 1021.8 L116.3 1024.5 L115.1 1027.1 L113.8 1029.6 L112.2 1032.0 L110.4 1034.3 L108.4 1036.5 L106.2 1038.6 L103.9 1040.4 L101.4 1042.1 L98.7 1043.6 L95.9 1044.8 L93.0 1045.9 L90.0 1046.7 L86.9 1047.3 L83.7 1047.6 L80.5 1047.7 L77.3 1047.5 L74.1 1047.1 L70.9 1046.3 L67.8 1045.4 L64.7 1044.1 L61.7 1042.6 L58.8 1040.9 L56.0 1038.9 L53.4 1036.7 L51.0 1034.2 L48.7 1031.6 L46.6 1028.8 L44.8 1025.7 L43.2 1022.6 L41.9 1019.2 L40.8 1015.8 L40.0 1012.3 L39.5 1008.6 L39.3 1005.0 L39.4 1001.3 L39.7 997.5 L40.4 993.9 L41.4 990.2 L42.7 986.6 L44.2 983.1 L46.1 979.7 L48.2 976.5 L50.7 973.4 L53.3 970.5 L56.2 967.8 L59.4 965.4 L62.7 963.2 L66.3 961.2 L70.0 959.6 L73.8 958.2 L77.8 957.1 L81.9 956.4 L86.0 955.9 L90.2 955.9 L94.4 956.1 L98.6 956.7 L102.7 957.6 L106.8 958.9 L110.8 960.5 L114.7 962.4 L118.5 964.7 L122.0 967.3 L125.4 970.1 L128.6 973.3 L131.5 976.7 L134.1 980.3 L136.4 984.2 L138.5 988.2 L140.2 992.4 L141.6 996.8 L142.6 1001.3 L143.3 1005.9 L143.6 1010.6 L143.5 1015.3 L143.0 1020.0 L142.2 1024.7 L141.0 1029.3 L139.4 1033.8 L137.4 1038.2 L135.1 1042.5 L132.4 1046.5 L129.4 1050.4 L126.1 1054.1 L122.5 1057.4"/></defs><g clip-path="url(#lc)"><text style="font-family:'Liberation Sans',sans-serif;font-size:7px;fill:#ffffff;fill-opacity:0.22"><textPath href="#spiral">101000100001100010000100001100100010000111111100001111100101011001111100110011111011001001001110011101111100000000101100111001111101100001001000001000</textPath></text></g><g clip-path="url(#lc)"><path d="M10 1028 L18 1026.6 L30 1022 L41.2 1017.7 L48.4 1024 L53.8 1021.5 L64.5 1029.3 L83.3 1008.7 L99.5 1024.8 L110.2 1014 L118.3 1026.6 L126.3 1015.9 L140 1006 L154.1 996.2 L160 992 L160 1090 L10 1090 Z" fill="url(#bg2)"/><path d="M10 1028 L18 1026.6 L30 1022 L41.2 1017.7 L48.4 1024 L53.8 1021.5 L64.5 1029.3 L83.3 1008.7 L99.5 1024.8 L110.2 1014 L118.3 1026.6 L126.3 1015.9 L140 1006 L154.1 996.2 L160 992" fill="none" stroke="#d8343a" stroke-width="1.6"/><circle cx="138" cy="1002.4" r="5.3" fill="#f7b43c"/><circle cx="138" cy="1002.4" r="8" fill="#f7c45c" opacity="0.25"/></g><circle cx="85.2" cy="1006" r="71.4" fill="none" stroke="#3a4aa8" stroke-width="0.8"/><text style="font-family:'Liberation Sans',sans-serif;font-size:9.6px;fill:#fff"><textPath href="#arc" startOffset="0">Cooperative Institute for Climate and Satellites</textPath></text><text x="83.2" y="1053.5" text-anchor="middle" style="font-family:'DejaVu Sans',sans-serif;font-size:31px;fill:url(#og)">cics.nc</text></svg></body></html>
